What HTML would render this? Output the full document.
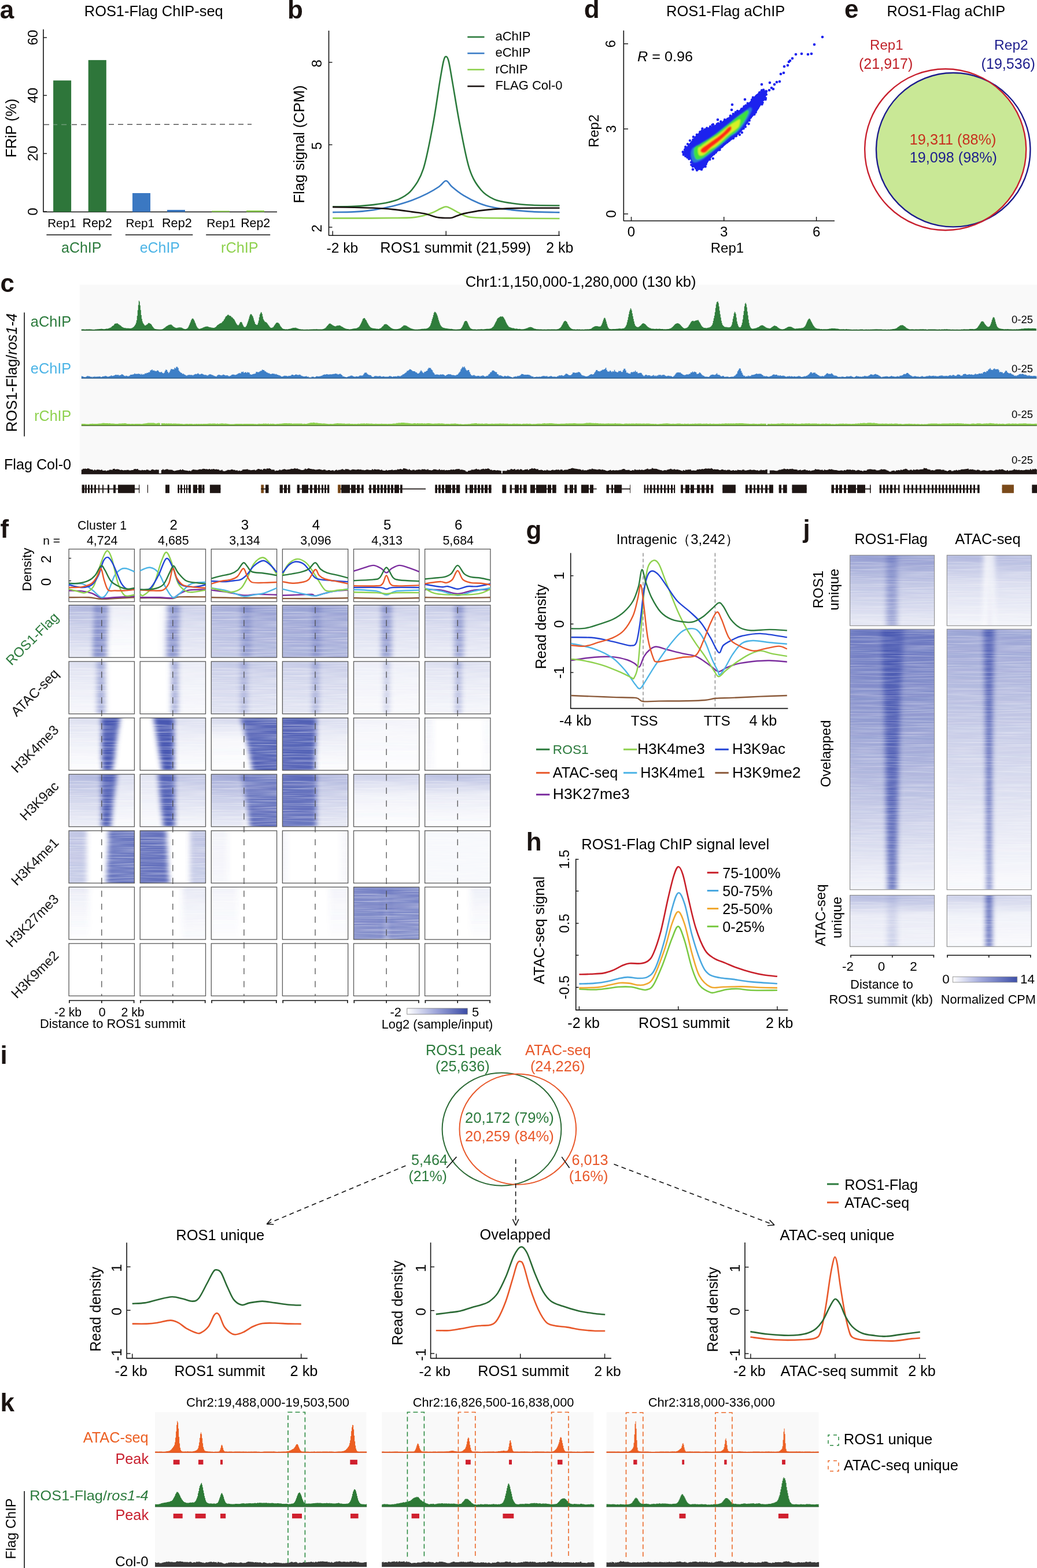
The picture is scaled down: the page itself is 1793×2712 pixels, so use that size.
<!DOCTYPE html>
<html><head><meta charset="utf-8"><title>ROS1 figure</title>
<style>html,body{margin:0;padding:0;background:#fff;overflow:hidden;width:1793px;height:2712px;}svg{display:block;}text{font-family:'Liberation Sans', Arial, sans-serif;}</style>
</head><body>
<svg width="1793" height="2712" viewBox="0 0 1793 2712" font-family="'Liberation Sans', Arial, sans-serif">
<defs>
<filter id="scblur" x="-20%" y="-20%" width="140%" height="140%"><feGaussianBlur stdDeviation="1.3"/></filter>
<clipPath id="eclip"><circle cx="1634.7" cy="258.7" r="139.5"/></clipPath>
<filter id="hb4" x="-20%" y="-5%" width="140%" height="110%"><feGaussianBlur stdDeviation="4 0.6"/></filter>
<filter id="hb2" x="-20%" y="-5%" width="140%" height="110%"><feGaussianBlur stdDeviation="2.5 0.6"/></filter>
<filter id="streak" x="0" y="0" width="100%" height="100%" filterUnits="objectBoundingBox"><feTurbulence type="fractalNoise" baseFrequency="0.012 0.42" numOctaves="2" seed="5"/><feColorMatrix type="matrix" values="0 0 0 0 1  0 0 0 0 1  0 0 0 0 1  0 0 0 1.6 -0.62"/></filter>
<linearGradient id="vg0" x1="0" y1="0" x2="0" y2="1"><stop offset="0" stop-color="#4a59b2" stop-opacity="0.45"/><stop offset="0.4" stop-color="#4a59b2" stop-opacity="0.3"/><stop offset="1" stop-color="#4a59b2" stop-opacity="0.12"/></linearGradient>
<linearGradient id="vg1" x1="0" y1="0" x2="0" y2="1"><stop offset="0" stop-color="#4a59b2" stop-opacity="0.62"/><stop offset="0.4" stop-color="#4a59b2" stop-opacity="0.62"/><stop offset="1" stop-color="#4a59b2" stop-opacity="0.62"/></linearGradient>
<linearGradient id="vg2" x1="0" y1="0" x2="0" y2="1"><stop offset="0" stop-color="#4a59b2" stop-opacity="0.12"/><stop offset="0.4" stop-color="#4a59b2" stop-opacity="0.06"/><stop offset="1" stop-color="#4a59b2" stop-opacity="0.0"/></linearGradient>
<linearGradient id="vg3" x1="0" y1="0" x2="0" y2="1"><stop offset="0" stop-color="#4a59b2" stop-opacity="0.08"/><stop offset="0.4" stop-color="#4a59b2" stop-opacity="0.09"/><stop offset="1" stop-color="#4a59b2" stop-opacity="0.1"/></linearGradient>
<linearGradient id="vg4" x1="0" y1="0" x2="0" y2="1"><stop offset="0" stop-color="#4a59b2" stop-opacity="0.62"/><stop offset="0.4" stop-color="#4a59b2" stop-opacity="0.61"/><stop offset="1" stop-color="#4a59b2" stop-opacity="0.6"/></linearGradient>
<linearGradient id="vg5" x1="0" y1="0" x2="0" y2="1"><stop offset="0" stop-color="#4a59b2" stop-opacity="0.3"/><stop offset="0.4" stop-color="#4a59b2" stop-opacity="0.21"/><stop offset="1" stop-color="#4a59b2" stop-opacity="0.12"/></linearGradient>
<linearGradient id="vg6" x1="0" y1="0" x2="0" y2="1"><stop offset="0" stop-color="#4a59b2" stop-opacity="0.5"/><stop offset="0.4" stop-color="#4a59b2" stop-opacity="0.4"/><stop offset="1" stop-color="#4a59b2" stop-opacity="0.3"/></linearGradient>
<linearGradient id="vg7" x1="0" y1="0" x2="0" y2="1"><stop offset="0" stop-color="#4a59b2" stop-opacity="0.38"/><stop offset="0.4" stop-color="#4a59b2" stop-opacity="0.38"/><stop offset="1" stop-color="#4a59b2" stop-opacity="0.38"/></linearGradient>
<linearGradient id="vg8" x1="0" y1="0" x2="0" y2="1"><stop offset="0" stop-color="#4a59b2" stop-opacity="0.15"/><stop offset="0.4" stop-color="#4a59b2" stop-opacity="0.15"/><stop offset="1" stop-color="#4a59b2" stop-opacity="0.15"/></linearGradient>
<linearGradient id="vg9" x1="0" y1="0" x2="0" y2="1"><stop offset="0" stop-color="#4a59b2" stop-opacity="0.56"/><stop offset="0.4" stop-color="#4a59b2" stop-opacity="0.51"/><stop offset="1" stop-color="#4a59b2" stop-opacity="0.45"/></linearGradient>
<linearGradient id="vg10" x1="0" y1="0" x2="0" y2="1"><stop offset="0" stop-color="#4a59b2" stop-opacity="0.32"/><stop offset="0.4" stop-color="#4a59b2" stop-opacity="0.32"/><stop offset="1" stop-color="#4a59b2" stop-opacity="0.32"/></linearGradient>
<linearGradient id="vg11" x1="0" y1="0" x2="0" y2="1"><stop offset="0" stop-color="#4a59b2" stop-opacity="0.3"/><stop offset="0.4" stop-color="#4a59b2" stop-opacity="0.2"/><stop offset="1" stop-color="#4a59b2" stop-opacity="0.1"/></linearGradient>
<linearGradient id="vg12" x1="0" y1="0" x2="0" y2="1"><stop offset="0" stop-color="#4a59b2" stop-opacity="0.48"/><stop offset="0.4" stop-color="#4a59b2" stop-opacity="0.48"/><stop offset="1" stop-color="#4a59b2" stop-opacity="0.48"/></linearGradient>
<linearGradient id="vg13" x1="0" y1="0" x2="0" y2="1"><stop offset="0" stop-color="#4a59b2" stop-opacity="0.34"/><stop offset="0.4" stop-color="#4a59b2" stop-opacity="0.22"/><stop offset="1" stop-color="#4a59b2" stop-opacity="0.1"/></linearGradient>
<linearGradient id="vg14" x1="0" y1="0" x2="0" y2="1"><stop offset="0" stop-color="#4a59b2" stop-opacity="0.45"/><stop offset="0.4" stop-color="#4a59b2" stop-opacity="0.45"/><stop offset="1" stop-color="#4a59b2" stop-opacity="0.45"/></linearGradient>
<linearGradient id="vg15" x1="0" y1="0" x2="0" y2="1"><stop offset="0" stop-color="#4a59b2" stop-opacity="0.2"/><stop offset="0.4" stop-color="#4a59b2" stop-opacity="0.12"/><stop offset="1" stop-color="#4a59b2" stop-opacity="0.04"/></linearGradient>
<linearGradient id="vg16" x1="0" y1="0" x2="0" y2="1"><stop offset="0" stop-color="#4a59b2" stop-opacity="0.5"/><stop offset="0.4" stop-color="#4a59b2" stop-opacity="0.47"/><stop offset="1" stop-color="#4a59b2" stop-opacity="0.45"/></linearGradient>
<linearGradient id="vg17" x1="0" y1="0" x2="0" y2="1"><stop offset="0" stop-color="#4a59b2" stop-opacity="0.12"/><stop offset="0.4" stop-color="#4a59b2" stop-opacity="0.08"/><stop offset="1" stop-color="#4a59b2" stop-opacity="0.04"/></linearGradient>
<linearGradient id="vg18" x1="0" y1="0" x2="0" y2="1"><stop offset="0" stop-color="#4a59b2" stop-opacity="0.52"/><stop offset="0.4" stop-color="#4a59b2" stop-opacity="0.48"/><stop offset="1" stop-color="#4a59b2" stop-opacity="0.45"/></linearGradient>
<linearGradient id="vg19" x1="0" y1="0" x2="0" y2="1"><stop offset="0" stop-color="#4a59b2" stop-opacity="0.33"/><stop offset="0.4" stop-color="#4a59b2" stop-opacity="0.24"/><stop offset="1" stop-color="#4a59b2" stop-opacity="0.16"/></linearGradient>
<linearGradient id="vg20" x1="0" y1="0" x2="0" y2="1"><stop offset="0" stop-color="#4a59b2" stop-opacity="0.3"/><stop offset="0.4" stop-color="#4a59b2" stop-opacity="0.28"/><stop offset="1" stop-color="#4a59b2" stop-opacity="0.25"/></linearGradient>
<linearGradient id="vg21" x1="0" y1="0" x2="0" y2="1"><stop offset="0" stop-color="#4a59b2" stop-opacity="0.32"/><stop offset="0.4" stop-color="#4a59b2" stop-opacity="0.23"/><stop offset="1" stop-color="#4a59b2" stop-opacity="0.14"/></linearGradient>
<linearGradient id="vg22" x1="0" y1="0" x2="0" y2="1"><stop offset="0" stop-color="#4a59b2" stop-opacity="0.35"/><stop offset="0.4" stop-color="#4a59b2" stop-opacity="0.32"/><stop offset="1" stop-color="#4a59b2" stop-opacity="0.3"/></linearGradient>
<linearGradient id="vg23" x1="0" y1="0" x2="0" y2="1"><stop offset="0" stop-color="#4a59b2" stop-opacity="0.1"/><stop offset="0.4" stop-color="#4a59b2" stop-opacity="0.07"/><stop offset="1" stop-color="#4a59b2" stop-opacity="0.03"/></linearGradient>
<linearGradient id="vg24" x1="0" y1="0" x2="0" y2="1"><stop offset="0" stop-color="#4a59b2" stop-opacity="0.3"/><stop offset="0.4" stop-color="#4a59b2" stop-opacity="0.26"/><stop offset="1" stop-color="#4a59b2" stop-opacity="0.22"/></linearGradient>
<linearGradient id="vg25" x1="0" y1="0" x2="0" y2="1"><stop offset="0" stop-color="#4a59b2" stop-opacity="0.2"/><stop offset="0.4" stop-color="#4a59b2" stop-opacity="0.12"/><stop offset="1" stop-color="#4a59b2" stop-opacity="0.05"/></linearGradient>
<linearGradient id="vg26" x1="0" y1="0" x2="0" y2="1"><stop offset="0" stop-color="#4a59b2" stop-opacity="0.38"/><stop offset="0.4" stop-color="#4a59b2" stop-opacity="0.34"/><stop offset="1" stop-color="#4a59b2" stop-opacity="0.3"/></linearGradient>
<linearGradient id="vg27" x1="0" y1="0" x2="0" y2="1"><stop offset="0" stop-color="#4a59b2" stop-opacity="0.2"/><stop offset="0.4" stop-color="#4a59b2" stop-opacity="0.1"/><stop offset="1" stop-color="#4a59b2" stop-opacity="0.0"/></linearGradient>
<linearGradient id="vg28" x1="0" y1="0" x2="0" y2="1"><stop offset="0" stop-color="#4a59b2" stop-opacity="1.0"/><stop offset="0.4" stop-color="#4a59b2" stop-opacity="1.0"/><stop offset="1" stop-color="#4a59b2" stop-opacity="1.0"/></linearGradient>
<linearGradient id="vg29" x1="0" y1="0" x2="0" y2="1"><stop offset="0" stop-color="#4a59b2" stop-opacity="0.25"/><stop offset="0.4" stop-color="#4a59b2" stop-opacity="0.05"/><stop offset="1" stop-color="#4a59b2" stop-opacity="0.0"/></linearGradient>
<linearGradient id="vg30" x1="0" y1="0" x2="0" y2="1"><stop offset="0" stop-color="#4a59b2" stop-opacity="0.9"/><stop offset="0.4" stop-color="#4a59b2" stop-opacity="0.93"/><stop offset="1" stop-color="#4a59b2" stop-opacity="0.95"/></linearGradient>
<linearGradient id="vg31" x1="0" y1="0" x2="0" y2="1"><stop offset="0" stop-color="#4a59b2" stop-opacity="0.95"/><stop offset="0.4" stop-color="#4a59b2" stop-opacity="0.94"/><stop offset="1" stop-color="#4a59b2" stop-opacity="0.92"/></linearGradient>
<linearGradient id="vg32" x1="0" y1="0" x2="0" y2="1"><stop offset="0" stop-color="#4a59b2" stop-opacity="0.22"/><stop offset="0.4" stop-color="#4a59b2" stop-opacity="0.11"/><stop offset="1" stop-color="#4a59b2" stop-opacity="0.0"/></linearGradient>
<linearGradient id="vg33" x1="0" y1="0" x2="0" y2="1"><stop offset="0" stop-color="#4a59b2" stop-opacity="0.07"/><stop offset="0.4" stop-color="#4a59b2" stop-opacity="0.04"/><stop offset="1" stop-color="#4a59b2" stop-opacity="0.0"/></linearGradient>
<linearGradient id="vg34" x1="0" y1="0" x2="0" y2="1"><stop offset="0" stop-color="#4a59b2" stop-opacity="0.08"/><stop offset="0.4" stop-color="#4a59b2" stop-opacity="0.06"/><stop offset="1" stop-color="#4a59b2" stop-opacity="0.04"/></linearGradient>
<linearGradient id="vg35" x1="0" y1="0" x2="0" y2="1"><stop offset="0" stop-color="#4a59b2" stop-opacity="0.04"/><stop offset="0.4" stop-color="#4a59b2" stop-opacity="0.03"/><stop offset="1" stop-color="#4a59b2" stop-opacity="0.02"/></linearGradient>
<linearGradient id="vg36" x1="0" y1="0" x2="0" y2="1"><stop offset="0" stop-color="#4a59b2" stop-opacity="0.45"/><stop offset="0.4" stop-color="#4a59b2" stop-opacity="0.27"/><stop offset="1" stop-color="#4a59b2" stop-opacity="0.08"/></linearGradient>
<linearGradient id="vg37" x1="0" y1="0" x2="0" y2="1"><stop offset="0" stop-color="#4a59b2" stop-opacity="0.95"/><stop offset="0.4" stop-color="#4a59b2" stop-opacity="0.95"/><stop offset="1" stop-color="#4a59b2" stop-opacity="0.95"/></linearGradient>
<linearGradient id="vg38" x1="0" y1="0" x2="0" y2="1"><stop offset="0" stop-color="#4a59b2" stop-opacity="0.22"/><stop offset="0.4" stop-color="#4a59b2" stop-opacity="0.12"/><stop offset="1" stop-color="#4a59b2" stop-opacity="0.02"/></linearGradient>
<linearGradient id="vg39" x1="0" y1="0" x2="0" y2="1"><stop offset="0" stop-color="#4a59b2" stop-opacity="0.18"/><stop offset="0.4" stop-color="#4a59b2" stop-opacity="0.1"/><stop offset="1" stop-color="#4a59b2" stop-opacity="0.02"/></linearGradient>
<linearGradient id="vg40" x1="0" y1="0" x2="0" y2="1"><stop offset="0" stop-color="#4a59b2" stop-opacity="0.38"/><stop offset="0.4" stop-color="#4a59b2" stop-opacity="0.21"/><stop offset="1" stop-color="#4a59b2" stop-opacity="0.04"/></linearGradient>
<linearGradient id="vg41" x1="0" y1="0" x2="0" y2="1"><stop offset="0" stop-color="#4a59b2" stop-opacity="0.55"/><stop offset="0.4" stop-color="#4a59b2" stop-opacity="0.33"/><stop offset="1" stop-color="#4a59b2" stop-opacity="0.1"/></linearGradient>
<linearGradient id="vg42" x1="0" y1="0" x2="0" y2="1"><stop offset="0" stop-color="#4a59b2" stop-opacity="0.75"/><stop offset="0.4" stop-color="#4a59b2" stop-opacity="0.81"/><stop offset="1" stop-color="#4a59b2" stop-opacity="0.88"/></linearGradient>
<linearGradient id="vg43" x1="0" y1="0" x2="0" y2="1"><stop offset="0" stop-color="#4a59b2" stop-opacity="0.92"/><stop offset="0.4" stop-color="#4a59b2" stop-opacity="0.87"/><stop offset="1" stop-color="#4a59b2" stop-opacity="0.82"/></linearGradient>
<linearGradient id="vg44" x1="0" y1="0" x2="0" y2="1"><stop offset="0" stop-color="#4a59b2" stop-opacity="0.45"/><stop offset="0.4" stop-color="#4a59b2" stop-opacity="0.29"/><stop offset="1" stop-color="#4a59b2" stop-opacity="0.12"/></linearGradient>
<linearGradient id="vg45" x1="0" y1="0" x2="0" y2="1"><stop offset="0" stop-color="#4a59b2" stop-opacity="0.3"/><stop offset="0.4" stop-color="#4a59b2" stop-opacity="0.08"/><stop offset="1" stop-color="#4a59b2" stop-opacity="0.0"/></linearGradient>
<linearGradient id="vg46" x1="0" y1="0" x2="0" y2="1"><stop offset="0" stop-color="#4a59b2" stop-opacity="0.42"/><stop offset="0.4" stop-color="#4a59b2" stop-opacity="0.12"/><stop offset="1" stop-color="#4a59b2" stop-opacity="0.0"/></linearGradient>
<linearGradient id="vg47" x1="0" y1="0" x2="0" y2="1"><stop offset="0" stop-color="#4a59b2" stop-opacity="0.36"/><stop offset="0.4" stop-color="#4a59b2" stop-opacity="0.33"/><stop offset="1" stop-color="#4a59b2" stop-opacity="0.3"/></linearGradient>
<linearGradient id="vg48" x1="0" y1="0" x2="0" y2="1"><stop offset="0" stop-color="#4a59b2" stop-opacity="0.82"/><stop offset="0.4" stop-color="#4a59b2" stop-opacity="0.82"/><stop offset="1" stop-color="#4a59b2" stop-opacity="0.82"/></linearGradient>
<linearGradient id="vg49" x1="0" y1="0" x2="0" y2="1"><stop offset="0" stop-color="#4a59b2" stop-opacity="0.85"/><stop offset="0.4" stop-color="#4a59b2" stop-opacity="0.85"/><stop offset="1" stop-color="#4a59b2" stop-opacity="0.85"/></linearGradient>
<linearGradient id="vg50" x1="0" y1="0" x2="0" y2="1"><stop offset="0" stop-color="#4a59b2" stop-opacity="0.07"/><stop offset="0.4" stop-color="#4a59b2" stop-opacity="0.06"/><stop offset="1" stop-color="#4a59b2" stop-opacity="0.05"/></linearGradient>
<linearGradient id="vg51" x1="0" y1="0" x2="0" y2="1"><stop offset="0" stop-color="#4a59b2" stop-opacity="0.06"/><stop offset="0.4" stop-color="#4a59b2" stop-opacity="0.06"/><stop offset="1" stop-color="#4a59b2" stop-opacity="0.06"/></linearGradient>
<linearGradient id="vg52" x1="0" y1="0" x2="0" y2="1"><stop offset="0" stop-color="#4a59b2" stop-opacity="0.05"/><stop offset="0.4" stop-color="#4a59b2" stop-opacity="0.05"/><stop offset="1" stop-color="#4a59b2" stop-opacity="0.05"/></linearGradient>
<linearGradient id="vg53" x1="0" y1="0" x2="0" y2="1"><stop offset="0" stop-color="#4a59b2" stop-opacity="0.03"/><stop offset="0.4" stop-color="#4a59b2" stop-opacity="0.03"/><stop offset="1" stop-color="#4a59b2" stop-opacity="0.03"/></linearGradient>
<linearGradient id="vg54" x1="0" y1="0" x2="0" y2="1"><stop offset="0" stop-color="#4a59b2" stop-opacity="0.14"/><stop offset="0.4" stop-color="#4a59b2" stop-opacity="0.08"/><stop offset="1" stop-color="#4a59b2" stop-opacity="0.02"/></linearGradient>
<linearGradient id="vg55" x1="0" y1="0" x2="0" y2="1"><stop offset="0" stop-color="#4a59b2" stop-opacity="0.76"/><stop offset="0.4" stop-color="#4a59b2" stop-opacity="0.71"/><stop offset="1" stop-color="#4a59b2" stop-opacity="0.66"/></linearGradient>
<linearGradient id="vg56" x1="0" y1="0" x2="0" y2="1"><stop offset="0" stop-color="#4a59b2" stop-opacity="0.7"/><stop offset="0.4" stop-color="#4a59b2" stop-opacity="0.6"/><stop offset="1" stop-color="#4a59b2" stop-opacity="0.32"/></linearGradient>
<linearGradient id="vg57" x1="0" y1="0" x2="0" y2="1"><stop offset="0" stop-color="#4a59b2" stop-opacity="0.1"/><stop offset="0.4" stop-color="#4a59b2" stop-opacity="0.05"/><stop offset="1" stop-color="#4a59b2" stop-opacity="0.0"/></linearGradient>
<linearGradient id="cbf" x1="0" x2="1" y1="0" y2="0"><stop offset="0" stop-color="#ffffff"/><stop offset="0.5" stop-color="#9aa2d8"/><stop offset="1" stop-color="#3b4ca6"/></linearGradient>
<linearGradient id="vg58" x1="0" y1="0" x2="0" y2="1"><stop offset="0" stop-color="#4a59b2" stop-opacity="0.62"/><stop offset="0.4" stop-color="#4a59b2" stop-opacity="0.35"/><stop offset="1" stop-color="#4a59b2" stop-opacity="0.12"/></linearGradient>
<linearGradient id="vg59" x1="0" y1="0" x2="0" y2="1"><stop offset="0" stop-color="#4a59b2" stop-opacity="0.4"/><stop offset="0.4" stop-color="#4a59b2" stop-opacity="0.41"/><stop offset="1" stop-color="#4a59b2" stop-opacity="0.42"/></linearGradient>
<linearGradient id="vg60" x1="0" y1="0" x2="0" y2="1"><stop offset="0" stop-color="#4a59b2" stop-opacity="0.84"/><stop offset="0.4" stop-color="#4a59b2" stop-opacity="0.56"/><stop offset="1" stop-color="#4a59b2" stop-opacity="0.06"/></linearGradient>
<linearGradient id="vg61" x1="0" y1="0" x2="0" y2="1"><stop offset="0" stop-color="#4a59b2" stop-opacity="0.95"/><stop offset="0.4" stop-color="#4a59b2" stop-opacity="0.9"/><stop offset="1" stop-color="#4a59b2" stop-opacity="0.75"/></linearGradient>
<linearGradient id="vg62" x1="0" y1="0" x2="0" y2="1"><stop offset="0" stop-color="#4a59b2" stop-opacity="0.45"/><stop offset="0.4" stop-color="#4a59b2" stop-opacity="0.12"/><stop offset="1" stop-color="#4a59b2" stop-opacity="0.08"/></linearGradient>
<linearGradient id="vg63" x1="0" y1="0" x2="0" y2="1"><stop offset="0" stop-color="#4a59b2" stop-opacity="0.1"/><stop offset="0.4" stop-color="#4a59b2" stop-opacity="0.15"/><stop offset="1" stop-color="#4a59b2" stop-opacity="0.2"/></linearGradient>
<linearGradient id="vg64" x1="0" y1="0" x2="0" y2="1"><stop offset="0" stop-color="#4a59b2" stop-opacity="0.45"/><stop offset="0.4" stop-color="#4a59b2" stop-opacity="0.2"/><stop offset="1" stop-color="#4a59b2" stop-opacity="0.06"/></linearGradient>
<linearGradient id="vg65" x1="0" y1="0" x2="0" y2="1"><stop offset="0" stop-color="#4a59b2" stop-opacity="0.18"/><stop offset="0.4" stop-color="#4a59b2" stop-opacity="0.16"/><stop offset="1" stop-color="#4a59b2" stop-opacity="0.15"/></linearGradient>
<linearGradient id="vg66" x1="0" y1="0" x2="0" y2="1"><stop offset="0" stop-color="#4a59b2" stop-opacity="0.56"/><stop offset="0.4" stop-color="#4a59b2" stop-opacity="0.3"/><stop offset="1" stop-color="#4a59b2" stop-opacity="0.02"/></linearGradient>
<linearGradient id="vg67" x1="0" y1="0" x2="0" y2="1"><stop offset="0" stop-color="#4a59b2" stop-opacity="0.85"/><stop offset="0.4" stop-color="#4a59b2" stop-opacity="0.8"/><stop offset="1" stop-color="#4a59b2" stop-opacity="0.7"/></linearGradient>
<linearGradient id="vg68" x1="0" y1="0" x2="0" y2="1"><stop offset="0" stop-color="#4a59b2" stop-opacity="0.3"/><stop offset="0.4" stop-color="#4a59b2" stop-opacity="0.08"/><stop offset="1" stop-color="#4a59b2" stop-opacity="0.03"/></linearGradient>
<linearGradient id="cbj" x1="0" x2="1" y1="0" y2="0"><stop offset="0" stop-color="#ffffff"/><stop offset="0.45" stop-color="#9ea6da"/><stop offset="1" stop-color="#3d4fa8"/></linearGradient>
</defs>
<rect width="1793" height="2712" fill="#fff"/>
<text x="-0.3" y="31.6" font-size="44" fill="#1a1311" font-weight="bold">a</text>
<text x="145.8" y="28.3" font-size="25.4">ROS1-Flag ChIP-seq</text>
<line x1="75.0" y1="50.7" x2="75.0" y2="367.0" stroke="#111" stroke-width="1.6"/>
<line x1="75.0" y1="366.5" x2="479.0" y2="366.5" stroke="#111" stroke-width="1.6"/>
<line x1="75.0" y1="65.0" x2="81.0" y2="65.0" stroke="#111" stroke-width="1.4"/>
<text x="65.4" y="65.0" font-size="24" text-anchor="middle" transform="rotate(-90 65.4 65.0)">60</text>
<line x1="75.0" y1="165.0" x2="81.0" y2="165.0" stroke="#111" stroke-width="1.4"/>
<text x="65.4" y="165.0" font-size="24" text-anchor="middle" transform="rotate(-90 65.4 165.0)">40</text>
<line x1="75.0" y1="265.5" x2="81.0" y2="265.5" stroke="#111" stroke-width="1.4"/>
<text x="65.4" y="265.5" font-size="24" text-anchor="middle" transform="rotate(-90 65.4 265.5)">20</text>
<line x1="75.0" y1="366.0" x2="81.0" y2="366.0" stroke="#111" stroke-width="1.4"/>
<text x="65.4" y="366.0" font-size="24" text-anchor="middle" transform="rotate(-90 65.4 366.0)">0</text>
<text x="28.5" y="221.6" font-size="25.28" text-anchor="middle" transform="rotate(-90 28.5 221.6)">FRiP (%)</text>
<line x1="76.0" y1="215.5" x2="435.0" y2="215.0" stroke="#555" stroke-width="1.5" stroke-dasharray="9,7"/>
<rect x="92.1" y="139.2" width="31.0" height="227.3" fill="#2e763a"/>
<rect x="152.7" y="103.9" width="31.1" height="262.6" fill="#2e763a"/>
<rect x="229.0" y="334.0" width="31.0" height="32.5" fill="#3b78c2"/>
<rect x="289.0" y="363.0" width="31.0" height="3.5" fill="#3b78c2"/>
<rect x="366.0" y="364.6" width="31.0" height="1.9" fill="#8ed14e"/>
<rect x="426.0" y="364.0" width="31.0" height="2.5" fill="#8ed14e"/>
<line x1="92.1" y1="215.5" x2="123.1" y2="215.5" stroke="#6f9c78" stroke-width="1.5" stroke-dasharray="9,7" stroke-dashoffset="2"/>
<text x="82.3" y="392.6" font-size="20.54">Rep1</text>
<text x="142.5" y="392.6" font-size="21.38">Rep2</text>
<text x="217.5" y="392.6" font-size="20.79">Rep1</text>
<text x="280.0" y="392.6" font-size="21.63">Rep2</text>
<text x="357.2" y="392.6" font-size="21.09">Rep1</text>
<text x="416.2" y="392.6" font-size="21.34">Rep2</text>
<line x1="80.4" y1="406.3" x2="193.0" y2="406.3" stroke="#111" stroke-width="1.6"/>
<line x1="216.8" y1="406.3" x2="333.3" y2="406.3" stroke="#111" stroke-width="1.6"/>
<line x1="356.2" y1="406.3" x2="467.2" y2="406.3" stroke="#111" stroke-width="1.6"/>
<text x="106.0" y="436.6" font-size="24.96" fill="#2b7a3c">aChIP</text>
<text x="241.7" y="436.6" font-size="24.93" fill="#4cb4e6">eChIP</text>
<text x="382.0" y="436.6" font-size="25.24" fill="#8ed14e">rChIP</text>
<text x="497.0" y="31.6" font-size="44" fill="#1a1311" font-weight="bold">b</text>
<line x1="568.5" y1="53.0" x2="568.5" y2="407.5" stroke="#111" stroke-width="1.6"/>
<line x1="568.5" y1="407.2" x2="968.0" y2="407.2" stroke="#111" stroke-width="1.6"/>
<line x1="568.5" y1="107.8" x2="574.5" y2="107.8" stroke="#111" stroke-width="1.4"/>
<text x="556.0" y="109.8" font-size="24" text-anchor="middle" transform="rotate(-90 556.0 109.8)">8</text>
<line x1="568.5" y1="250.4" x2="574.5" y2="250.4" stroke="#111" stroke-width="1.4"/>
<text x="556.0" y="252.4" font-size="24" text-anchor="middle" transform="rotate(-90 556.0 252.4)">5</text>
<line x1="568.5" y1="393.0" x2="574.5" y2="393.0" stroke="#111" stroke-width="1.4"/>
<text x="556.0" y="395.0" font-size="24" text-anchor="middle" transform="rotate(-90 556.0 395.0)">2</text>
<line x1="575.2" y1="407.2" x2="575.2" y2="399.6" stroke="#111" stroke-width="1.4"/>
<line x1="771.2" y1="407.2" x2="771.2" y2="399.6" stroke="#111" stroke-width="1.4"/>
<line x1="966.5" y1="407.2" x2="966.5" y2="399.6" stroke="#111" stroke-width="1.4"/>
<text x="525.5" y="249.5" font-size="25.5" text-anchor="middle" transform="rotate(-90 525.5 249.5)">Flag signal (CPM)</text>
<text x="564.6" y="437.0" font-size="24.58">-2 kb</text>
<text x="657.3" y="437.0" font-size="25.5">ROS1 summit (21,599)</text>
<text x="944.3" y="437.0" font-size="24.97">2 kb</text>
<line x1="808.3" y1="64.0" x2="837.5" y2="64.0" stroke="#2b7a3c" stroke-width="2.6"/>
<text x="856.4" y="70.2" font-size="22">aChIP</text>
<line x1="808.3" y1="92.2" x2="837.5" y2="92.2" stroke="#3a7cc6" stroke-width="2.6"/>
<text x="856.4" y="98.4" font-size="22">eChIP</text>
<line x1="808.3" y1="120.4" x2="837.5" y2="120.4" stroke="#8ed14e" stroke-width="2.6"/>
<text x="856.4" y="126.6" font-size="22">rChIP</text>
<line x1="808.3" y1="149.2" x2="837.5" y2="149.2" stroke="#1a1311" stroke-width="2.6"/>
<text x="856.4" y="155.4" font-size="22">FLAG Col-0</text>
<path d="M575.2,357.5 C581.4,357.4 600.9,357.4 612.6,356.8 C624.4,356.2 635.9,355.3 645.8,354.1 C655.7,353.0 664.6,351.7 672.3,349.8 C680.1,348.0 685.6,346.8 692.2,343.2 C698.9,339.6 705.5,336.9 712.1,328.3 C718.8,319.7 725.9,310.6 732.0,291.8 C738.1,273.0 743.9,240.4 748.6,215.5 C753.3,190.7 757.2,160.8 760.2,142.6 C763.2,124.3 765.0,113.6 766.8,106.1 C768.7,98.7 769.7,97.8 771.1,97.8 C772.6,97.8 773.9,98.7 775.8,106.1 C777.7,113.6 779.2,124.3 782.4,142.6 C785.6,160.8 790.2,190.7 795.0,215.5 C799.9,240.4 805.5,273.0 811.6,291.8 C817.7,310.6 824.3,319.4 831.5,328.3 C838.7,337.1 845.9,341.0 854.7,344.9 C863.6,348.7 873.5,349.8 884.6,351.5 C895.6,353.2 907.2,354.1 921.0,354.8 C934.8,355.5 959.7,355.4 967.5,355.5" fill="none" stroke="#2b7a3c" stroke-width="2.6" stroke-linejoin="round"/>
<path d="M575.2,367.1 C581.4,367.0 600.9,367.1 612.6,366.4 C624.4,365.8 634.7,364.8 645.8,363.1 C656.9,361.4 667.9,359.2 679.0,356.5 C690.0,353.7 702.2,350.1 712.1,346.5 C722.1,342.9 730.9,338.8 738.6,334.9 C746.4,331.0 753.1,327.0 758.5,323.3 C764.0,319.6 767.3,312.7 771.1,312.7 C775.0,312.7 776.7,319.1 781.8,323.3 C786.8,327.6 793.9,333.5 801.7,338.2 C809.4,342.9 819.3,348.0 828.2,351.5 C837.0,355.0 845.3,357.2 854.7,359.1 C864.1,361.1 873.5,361.9 884.6,363.1 C895.6,364.3 907.2,365.4 921.0,366.1 C934.8,366.8 959.7,367.2 967.5,367.4" fill="none" stroke="#3a7cc6" stroke-width="2.6" stroke-linejoin="round"/>
<path d="M575.2,377.4 C584.2,377.4 611.9,377.4 629.2,377.4 C646.5,377.3 665.1,377.2 679.0,377.0 C692.8,376.9 703.3,377.0 712.1,376.4 C721.0,375.7 725.9,374.5 732.0,373.1 C738.1,371.6 743.6,369.5 748.6,367.4 C753.6,365.4 758.1,362.4 761.9,360.8 C765.6,359.1 768.1,357.5 771.1,357.5 C774.2,357.5 776.4,359.0 780.1,360.8 C783.8,362.5 788.7,365.8 793.4,368.1 C798.1,370.4 801.9,373.3 808.3,374.7 C814.6,376.1 819.9,376.3 831.5,376.7 C843.1,377.1 855.3,377.1 877.9,377.4 C900.6,377.6 952.5,377.9 967.5,378.0" fill="none" stroke="#8ed14e" stroke-width="2.6" stroke-linejoin="round"/>
<path d="M575.2,358.1 C581.4,358.2 600.9,358.5 612.6,358.8 C624.4,359.1 634.7,359.2 645.8,359.8 C656.9,360.3 667.9,361.0 679.0,362.1 C690.0,363.2 702.7,365.1 712.1,366.4 C721.5,367.7 728.1,368.2 735.3,369.7 C742.5,371.3 749.3,374.5 755.2,375.7 C761.2,376.9 766.7,376.9 771.1,377.0 C775.6,377.1 777.8,377.3 781.8,376.4 C785.7,375.4 790.6,372.8 795.0,371.4 C799.4,370.0 802.2,369.3 808.3,368.1 C814.4,366.9 822.7,365.2 831.5,364.1 C840.3,363.0 850.8,362.1 861.3,361.4 C871.8,360.8 883.4,360.4 894.5,360.1 C905.6,359.8 915.5,359.8 927.7,359.8 C939.8,359.7 960.8,359.8 967.5,359.8" fill="none" stroke="#1a1311" stroke-width="2.6" stroke-linejoin="round"/>
<text x="1009.8" y="31.0" font-size="44" fill="#1a1311" font-weight="bold">d</text>
<text x="1152.0" y="28.3" font-size="25.48">ROS1-Flag aChIP</text>
<line x1="1078.3" y1="52.8" x2="1078.3" y2="382.3" stroke="#111" stroke-width="1.6"/>
<line x1="1078.3" y1="382.0" x2="1443.0" y2="382.0" stroke="#111" stroke-width="1.6"/>
<line x1="1078.3" y1="75.7" x2="1086.0" y2="75.7" stroke="#111" stroke-width="1.4"/>
<text x="1064.5" y="75.7" font-size="24" text-anchor="middle" transform="rotate(-90 1064.5 75.7)">6</text>
<line x1="1078.3" y1="223.0" x2="1086.0" y2="223.0" stroke="#111" stroke-width="1.4"/>
<text x="1064.5" y="223.0" font-size="24" text-anchor="middle" transform="rotate(-90 1064.5 223.0)">3</text>
<line x1="1078.3" y1="370.0" x2="1086.0" y2="370.0" stroke="#111" stroke-width="1.4"/>
<text x="1064.5" y="370.0" font-size="24" text-anchor="middle" transform="rotate(-90 1064.5 370.0)">0</text>
<line x1="1091.5" y1="382.0" x2="1091.5" y2="375.0" stroke="#111" stroke-width="1.4"/>
<text x="1091.5" y="409.3" font-size="24" text-anchor="middle">0</text>
<line x1="1251.7" y1="382.0" x2="1251.7" y2="375.0" stroke="#111" stroke-width="1.4"/>
<text x="1251.7" y="409.3" font-size="24" text-anchor="middle">3</text>
<line x1="1411.6" y1="382.0" x2="1411.6" y2="375.0" stroke="#111" stroke-width="1.4"/>
<text x="1411.6" y="409.3" font-size="24" text-anchor="middle">6</text>
<text x="1228.8" y="436.6" font-size="23.93">Rep1</text>
<text x="1035.0" y="226.5" font-size="23.85" text-anchor="middle" transform="rotate(-90 1035.0 226.5)">Rep2</text>
<text x="1102.0" y="106.2" font-size="24" textLength="96.0" lengthAdjust="spacingAndGlyphs"><tspan font-style="italic">R</tspan> = 0.96</text>
<path d="M1181.5,264.3 C1182.4,262.6 1184.3,258.0 1187.2,254.0 C1190.1,250.0 1195.8,243.7 1198.7,240.2 C1201.6,236.8 1201.6,236.0 1204.4,233.3 C1207.3,230.6 1212.1,226.4 1215.9,224.1 C1219.7,221.8 1223.6,221.1 1227.4,219.5 C1231.2,218.0 1235.1,216.7 1238.9,215.0 C1242.7,213.2 1246.5,211.5 1250.4,209.2 C1254.2,206.9 1258.0,203.7 1261.8,201.2 C1265.7,198.7 1269.5,197.0 1273.3,194.3 C1277.1,191.6 1281.0,188.2 1284.8,185.1 C1288.6,182.0 1292.5,179.6 1296.3,175.9 C1300.1,172.3 1303.9,166.5 1307.8,163.3 C1311.6,160.0 1316.2,157.2 1319.2,156.4 C1322.3,155.6 1325.4,156.8 1326.1,158.7 C1326.9,160.6 1325.0,165.0 1323.8,167.9 C1322.7,170.8 1321.9,171.5 1319.2,175.9 C1316.6,180.3 1311.6,188.9 1307.8,194.3 C1303.9,199.6 1300.1,203.1 1296.3,208.1 C1292.5,213.0 1288.6,219.5 1284.8,224.1 C1281.0,228.7 1277.1,232.2 1273.3,235.6 C1269.5,239.1 1265.7,241.7 1261.8,244.8 C1258.0,247.9 1254.2,250.7 1250.4,254.0 C1246.5,257.2 1242.7,260.7 1238.9,264.3 C1235.1,268.0 1230.8,271.6 1227.4,275.8 C1224.0,280.0 1221.5,286.5 1218.2,289.6 C1215.0,292.6 1211.1,294.4 1207.9,294.2 C1204.6,294.0 1201.2,291.7 1198.7,288.4 C1196.2,285.2 1195.4,277.9 1193.0,274.6 C1190.5,271.4 1185.7,270.6 1183.8,268.9 C1181.9,267.2 1180.9,266.8 1181.5,264.3 C1182.1,261.8 1184.3,258.0 1187.2,254.0 C1190.1,250.0 1196.8,242.5 1198.7,240.2Z" fill="#1c22ee"/>
<g filter="url(#scblur)"><path d="M1202.1,254.0 C1204.4,252.8 1211.7,249.6 1215.9,247.1 C1220.1,244.6 1223.6,241.7 1227.4,239.1 C1231.2,236.4 1235.1,233.9 1238.9,231.0 C1242.7,228.2 1246.5,224.9 1250.4,221.8 C1254.2,218.8 1258.0,215.7 1261.8,212.7 C1265.7,209.6 1269.5,206.3 1273.3,203.5 C1277.1,200.6 1281.7,197.5 1284.8,195.4 C1287.9,193.3 1290.2,190.8 1291.7,190.8 C1293.2,190.8 1295.1,191.8 1294.0,195.4 C1292.8,199.1 1288.2,207.3 1284.8,212.7 C1281.4,218.0 1277.1,223.8 1273.3,227.6 C1269.5,231.4 1265.7,232.6 1261.8,235.6 C1258.0,238.7 1254.2,242.7 1250.4,245.9 C1246.5,249.2 1242.7,252.1 1238.9,255.1 C1235.1,258.2 1231.2,261.4 1227.4,264.3 C1223.6,267.2 1219.7,270.4 1215.9,272.4 C1212.1,274.3 1207.1,276.9 1204.4,275.8 C1201.8,274.6 1200.2,269.1 1199.8,265.5 C1199.5,261.8 1199.5,257.0 1202.1,254.0 C1204.8,250.9 1211.7,249.6 1215.9,247.1 C1220.1,244.6 1225.5,240.4 1227.4,239.1Z" fill="#2a7ad8" transform="translate(1245,232) scale(1.12) translate(-1245,-232)"/><path d="M1202.1,254.0 C1204.4,252.8 1211.7,249.6 1215.9,247.1 C1220.1,244.6 1223.6,241.7 1227.4,239.1 C1231.2,236.4 1235.1,233.9 1238.9,231.0 C1242.7,228.2 1246.5,224.9 1250.4,221.8 C1254.2,218.8 1258.0,215.7 1261.8,212.7 C1265.7,209.6 1269.5,206.3 1273.3,203.5 C1277.1,200.6 1281.7,197.5 1284.8,195.4 C1287.9,193.3 1290.2,190.8 1291.7,190.8 C1293.2,190.8 1295.1,191.8 1294.0,195.4 C1292.8,199.1 1288.2,207.3 1284.8,212.7 C1281.4,218.0 1277.1,223.8 1273.3,227.6 C1269.5,231.4 1265.7,232.6 1261.8,235.6 C1258.0,238.7 1254.2,242.7 1250.4,245.9 C1246.5,249.2 1242.7,252.1 1238.9,255.1 C1235.1,258.2 1231.2,261.4 1227.4,264.3 C1223.6,267.2 1219.7,270.4 1215.9,272.4 C1212.1,274.3 1207.1,276.9 1204.4,275.8 C1201.8,274.6 1200.2,269.1 1199.8,265.5 C1199.5,261.8 1199.5,257.0 1202.1,254.0 C1204.8,250.9 1211.7,249.6 1215.9,247.1 C1220.1,244.6 1225.5,240.4 1227.4,239.1Z" fill="#3ee040"/><path d="M1207.3,256.3 C1208.7,255.4 1212.6,253.5 1215.9,251.1 C1219.3,248.7 1223.6,244.6 1227.4,241.9 C1231.2,239.3 1235.1,237.7 1238.9,235.0 C1242.7,232.4 1246.5,228.9 1250.4,225.9 C1254.2,222.8 1258.0,219.4 1261.8,216.7 C1265.7,213.9 1270.4,210.8 1273.3,209.2 C1276.3,207.6 1278.9,205.5 1279.6,206.9 C1280.4,208.4 1279.0,215.1 1277.9,217.8 C1276.9,220.5 1276.0,220.7 1273.3,223.0 C1270.6,225.3 1265.7,228.4 1261.8,231.6 C1258.0,234.8 1254.2,238.5 1250.4,241.9 C1246.5,245.4 1242.7,249.4 1238.9,252.3 C1235.1,255.1 1231.2,256.5 1227.4,259.1 C1223.6,261.8 1219.1,266.9 1215.9,268.3 C1212.8,269.8 1209.9,269.8 1208.5,267.8 C1207.0,265.8 1206.1,259.1 1207.3,256.3 C1208.6,253.5 1212.6,253.5 1215.9,251.1 C1219.3,248.7 1225.5,243.5 1227.4,241.9Z" fill="#d8f028"/><path d="M1212.5,257.4 C1215.0,255.6 1223.0,249.7 1227.4,246.5 C1231.8,243.4 1235.1,241.4 1238.9,238.5 C1242.7,235.6 1246.9,232.4 1250.4,229.3 C1253.8,226.2 1257.2,221.8 1259.5,220.1 C1261.8,218.4 1263.5,218.1 1264.1,219.0 C1264.8,219.8 1265.5,222.4 1263.6,225.3 C1261.6,228.2 1256.6,232.6 1252.7,236.2 C1248.7,239.8 1244.0,243.8 1240.0,247.1 C1236.0,250.3 1232.0,252.9 1228.5,255.7 C1225.1,258.5 1222.0,262.5 1219.4,263.7 C1216.7,265.0 1213.6,264.2 1212.5,263.2 C1211.3,262.1 1210.0,260.2 1212.5,257.4 C1215.0,254.7 1223.0,249.7 1227.4,246.5 C1231.8,243.4 1237.0,239.8 1238.9,238.5Z" fill="#ff2a14"/></g>
<g fill="#1c22ee"><circle cx="1180.7" cy="262.8" r="2.2"/><circle cx="1184.0" cy="259.0" r="2.2"/><circle cx="1185.4" cy="256.9" r="2.2"/><circle cx="1185.3" cy="254.0" r="2.2"/><circle cx="1189.0" cy="249.1" r="2.2"/><circle cx="1192.9" cy="243.1" r="2.2"/><circle cx="1198.4" cy="241.6" r="2.2"/><circle cx="1198.9" cy="236.7" r="2.2"/><circle cx="1203.0" cy="237.6" r="2.2"/><circle cx="1204.8" cy="232.9" r="2.2"/><circle cx="1210.3" cy="228.3" r="2.2"/><circle cx="1213.6" cy="226.3" r="2.2"/><circle cx="1214.4" cy="222.5" r="2.2"/><circle cx="1218.9" cy="224.0" r="2.2"/><circle cx="1222.1" cy="221.5" r="2.2"/><circle cx="1228.0" cy="219.0" r="2.2"/><circle cx="1231.4" cy="216.1" r="2.2"/><circle cx="1233.0" cy="215.2" r="2.2"/><circle cx="1239.7" cy="214.6" r="2.2"/><circle cx="1241.9" cy="213.4" r="2.2"/><circle cx="1246.3" cy="210.3" r="2.2"/><circle cx="1251.7" cy="210.1" r="2.2"/><circle cx="1253.0" cy="206.9" r="2.2"/><circle cx="1258.0" cy="205.6" r="2.2"/><circle cx="1262.8" cy="200.2" r="2.2"/><circle cx="1267.7" cy="197.2" r="2.2"/><circle cx="1269.1" cy="197.8" r="2.2"/><circle cx="1271.8" cy="194.2" r="2.2"/><circle cx="1275.1" cy="192.0" r="2.2"/><circle cx="1282.1" cy="188.5" r="2.2"/><circle cx="1286.5" cy="184.3" r="2.2"/><circle cx="1289.4" cy="182.5" r="2.2"/><circle cx="1292.7" cy="178.8" r="2.2"/><circle cx="1297.8" cy="177.9" r="2.2"/><circle cx="1300.0" cy="172.5" r="2.2"/><circle cx="1301.9" cy="168.5" r="2.2"/><circle cx="1308.4" cy="165.5" r="2.2"/><circle cx="1313.0" cy="160.1" r="2.2"/><circle cx="1314.8" cy="159.5" r="2.2"/><circle cx="1317.1" cy="156.2" r="2.2"/><circle cx="1320.1" cy="155.5" r="2.2"/><circle cx="1321.8" cy="159.1" r="2.2"/><circle cx="1324.5" cy="157.6" r="2.2"/><circle cx="1324.9" cy="163.4" r="2.2"/><circle cx="1322.8" cy="164.5" r="2.2"/><circle cx="1324.0" cy="169.6" r="2.2"/><circle cx="1323.7" cy="172.1" r="2.2"/><circle cx="1319.8" cy="172.8" r="2.2"/><circle cx="1318.6" cy="177.6" r="2.2"/><circle cx="1317.5" cy="180.4" r="2.2"/><circle cx="1310.2" cy="186.9" r="2.2"/><circle cx="1306.6" cy="194.2" r="2.2"/><circle cx="1304.4" cy="197.8" r="2.2"/><circle cx="1298.0" cy="203.0" r="2.2"/><circle cx="1295.7" cy="208.4" r="2.2"/><circle cx="1294.5" cy="214.2" r="2.2"/><circle cx="1288.8" cy="219.2" r="2.2"/><circle cx="1285.6" cy="222.2" r="2.2"/><circle cx="1282.8" cy="229.2" r="2.2"/><circle cx="1278.9" cy="233.0" r="2.2"/><circle cx="1272.8" cy="235.2" r="2.2"/><circle cx="1267.8" cy="239.2" r="2.2"/><circle cx="1263.8" cy="239.8" r="2.2"/><circle cx="1260.6" cy="243.3" r="2.2"/><circle cx="1257.3" cy="245.9" r="2.2"/><circle cx="1252.1" cy="249.3" r="2.2"/><circle cx="1248.6" cy="253.4" r="2.2"/><circle cx="1244.5" cy="259.0" r="2.2"/><circle cx="1243.3" cy="259.3" r="2.2"/><circle cx="1237.8" cy="263.6" r="2.2"/><circle cx="1234.5" cy="266.4" r="2.2"/><circle cx="1232.8" cy="274.1" r="2.2"/><circle cx="1227.3" cy="275.7" r="2.2"/><circle cx="1222.5" cy="278.6" r="2.2"/><circle cx="1220.6" cy="283.9" r="2.2"/><circle cx="1219.7" cy="288.1" r="2.2"/><circle cx="1212.7" cy="293.1" r="2.2"/><circle cx="1211.5" cy="291.0" r="2.2"/><circle cx="1208.1" cy="292.1" r="2.2"/><circle cx="1205.0" cy="294.4" r="2.2"/><circle cx="1203.4" cy="291.2" r="2.2"/><circle cx="1197.6" cy="287.8" r="2.2"/><circle cx="1195.3" cy="285.1" r="2.2"/><circle cx="1195.1" cy="280.6" r="2.2"/><circle cx="1192.2" cy="273.4" r="2.2"/><circle cx="1191.3" cy="274.9" r="2.2"/><circle cx="1188.5" cy="272.2" r="2.2"/><circle cx="1185.2" cy="270.0" r="2.2"/><circle cx="1181.8" cy="267.5" r="2.2"/><circle cx="1181.6" cy="263.8" r="2.2"/></g>
<g fill="#1c22ee"><circle cx="1182" cy="264" r="2.3"/><circle cx="1198" cy="293" r="2.3"/><circle cx="1211" cy="291" r="2.3"/><circle cx="1213" cy="293" r="2.3"/><circle cx="1241" cy="207" r="2.3"/><circle cx="1265" cy="190" r="2.3"/><circle cx="1266" cy="181" r="2.3"/><circle cx="1288" cy="172" r="2.3"/><circle cx="1302" cy="171" r="2.3"/><circle cx="1317" cy="146" r="2.3"/><circle cx="1325" cy="158" r="2.3"/><circle cx="1330" cy="156" r="2.3"/><circle cx="1334" cy="152" r="2.3"/><circle cx="1331" cy="143" r="2.3"/><circle cx="1337" cy="154" r="2.3"/><circle cx="1339" cy="146" r="2.3"/><circle cx="1343" cy="142" r="2.3"/><circle cx="1348" cy="141" r="2.3"/><circle cx="1350" cy="128" r="2.3"/><circle cx="1355" cy="126" r="2.3"/><circle cx="1356" cy="115" r="2.3"/><circle cx="1362" cy="113" r="2.3"/><circle cx="1364" cy="107" r="2.3"/><circle cx="1366" cy="105" r="2.3"/><circle cx="1370" cy="101" r="2.3"/><circle cx="1376" cy="94" r="2.3"/><circle cx="1386" cy="93" r="2.3"/><circle cx="1397" cy="94" r="2.3"/><circle cx="1403" cy="93" r="2.3"/><circle cx="1408" cy="77" r="2.3"/><circle cx="1422" cy="64" r="2.3"/></g>
<text x="1460.0" y="31.2" font-size="44" fill="#1a1311" font-weight="bold">e</text>
<text x="1533.4" y="28.3" font-size="25.42">ROS1-Flag aChIP</text>
<circle cx="1648.2" cy="259.2" r="133.2" fill="#c9e896" clip-path="url(#eclip)"/>
<circle cx="1648.2" cy="259.2" r="133.2" fill="none" stroke="#1c1c8c" stroke-width="2.4"/>
<circle cx="1634.7" cy="258.7" r="139.5" fill="none" stroke="#c8202e" stroke-width="2.4"/>
<text x="1504.0" y="86.2" font-size="24.1" fill="#c02028">Rep1</text>
<text x="1485.0" y="118.5" font-size="25.07" fill="#c02028">(21,917)</text>
<text x="1719.0" y="86.2" font-size="24.56" fill="#1c1c8c">Rep2</text>
<text x="1696.6" y="118.5" font-size="25.07" fill="#1c1c8c">(19,536)</text>
<text x="1572.8" y="250.3" font-size="25.24" fill="#c8301e">19,311 (88%)</text>
<text x="1572.8" y="281.4" font-size="25.18" fill="#1c1c8c">19,098 (98%)</text>
<text x="0.5" y="504.5" font-size="44" fill="#1a1311" font-weight="bold">c</text>
<rect x="137.8" y="492.5" width="1655.2" height="329.0" fill="#f9f9f9"/>
<text x="804.7" y="496.4" font-size="25.54">Chr1:1,150,000-1,280,000 (130 kb)</text>
<path d="M140.8,571.4V569.4h1V569.6h1V569.4h1V569.6h1V569.5h1V569.7h1V569.9h1V569.6h1V569.6h1V569.6h1V569.6h1V569.4h1V569.4h1V569.2h1V569.5h1V569.5h1V569.4h1V569.7h1V569.7h1V569.9h1V570.0h1V569.9h1V569.9h1V569.8h1V569.6h1V569.6h1V569.4h1V569.2h1V569.2h1V569.3h1V569.1h1V568.9h1V568.9h1V568.8h1V568.8h1V568.8h1V569.0h1V569.1h1V569.2h1V569.2h1V569.1h1V568.9h1V568.6h1V568.5h1V568.4h1V568.4h1V567.9h1V567.8h1V567.2h1V567.1h1V566.6h1V565.9h1V564.7h1V564.1h1V563.3h1V562.9h1V561.4h1V560.1h1V559.8h1V559.6h1V559.4h1V559.3h1V559.2h1V560.2h1V560.9h1V561.6h1V562.5h1V562.8h1V563.7h1V564.7h1V565.5h1V566.0h1V566.6h1V567.1h1V567.3h1V567.1h1V567.5h1V567.4h1V567.7h1V567.7h1V567.6h1V567.8h1V567.9h1V567.8h1V567.9h1V567.9h1V567.5h1V567.3h1V566.7h1V566.1h1V565.3h1V564.0h1V562.4h1V560.9h1V558.2h1V554.1h1V546.2h1V536.5h1V527.4h1V519.9h1V521.7h1V528.3h1V536.3h1V545.0h1V551.4h1V555.7h1V558.5h1V559.9h1V561.5h1V562.8h1V563.1h1V562.6h1V561.8h1V561.0h1V560.5h1V558.7h1V558.8h1V558.8h1V559.5h1V559.9h1V560.7h1V562.1h1V564.0h1V565.2h1V566.5h1V567.7h1V568.4h1V568.9h1V569.1h1V569.3h1V569.4h1V569.4h1V569.4h1V569.7h1V569.7h1V569.8h1V569.8h1V569.8h1V569.6h1V569.4h1V569.1h1V568.6h1V567.8h1V567.1h1V566.4h1V565.5h1V564.7h1V564.0h1V563.5h1V563.1h1V562.3h1V561.7h1V561.8h1V561.6h1V561.3h1V561.5h1V562.5h1V563.2h1V564.4h1V564.9h1V565.8h1V566.3h1V566.8h1V567.0h1V567.2h1V567.1h1V566.8h1V566.6h1V566.4h1V566.3h1V566.2h1V566.4h1V566.5h1V566.8h1V567.3h1V568.1h1V568.5h1V568.7h1V569.1h1V569.3h1V569.0h1V568.8h1V568.2h1V567.5h1V566.2h1V564.3h1V562.1h1V559.4h1V557.2h1V554.3h1V552.5h1V551.1h1V550.7h1V551.5h1V553.1h1V554.9h1V557.7h1V559.7h1V562.7h1V564.8h1V566.5h1V567.4h1V568.3h1V568.7h1V568.8h1V568.5h1V568.1h1V567.8h1V567.6h1V567.0h1V566.4h1V566.1h1V565.7h1V565.3h1V564.9h1V564.8h1V564.7h1V564.6h1V564.7h1V565.2h1V565.4h1V566.0h1V566.1h1V566.3h1V566.6h1V566.8h1V566.8h1V567.1h1V567.1h1V566.9h1V566.6h1V565.9h1V565.3h1V564.3h1V563.0h1V562.0h1V561.4h1V560.9h1V560.0h1V559.5h1V559.0h1V558.8h1V558.3h1V556.8h1V555.7h1V555.1h1V552.8h1V551.8h1V549.4h1V547.5h1V547.0h1V545.9h1V544.6h1V544.7h1V544.3h1V545.7h1V546.2h1V546.3h1V546.8h1V548.4h1V548.8h1V549.6h1V550.9h1V551.7h1V552.9h1V555.1h1V556.9h1V559.1h1V560.6h1V561.7h1V562.4h1V562.4h1V561.2h1V559.2h1V557.2h1V557.0h1V556.8h1V558.1h1V560.6h1V562.5h1V564.4h1V565.4h1V565.8h1V565.7h1V564.6h1V562.9h1V560.2h1V557.5h1V554.5h1V551.2h1V547.5h1V544.8h1V543.3h1V543.3h1V544.3h1V546.0h1V547.6h1V550.6h1V554.2h1V557.1h1V559.9h1V560.9h1V561.7h1V561.9h1V561.2h1V558.3h1V554.4h1V548.7h1V544.1h1V541.9h1V539.8h1V540.6h1V543.1h1V547.5h1V551.7h1V553.8h1V555.2h1V556.8h1V556.8h1V557.5h1V558.2h1V559.4h1V560.9h1V562.4h1V563.6h1V565.2h1V566.3h1V566.9h1V567.0h1V567.0h1V566.3h1V565.9h1V564.4h1V562.9h1V561.5h1V560.2h1V558.8h1V557.9h1V557.9h1V558.0h1V558.4h1V559.4h1V560.6h1V562.7h1V564.4h1V565.6h1V566.8h1V568.1h1V568.4h1V569.0h1V569.1h1V569.3h1V569.4h1V569.5h1V569.3h1V569.4h1V569.4h1V569.3h1V569.1h1V568.7h1V568.7h1V568.4h1V568.1h1V567.7h1V567.4h1V567.1h1V567.1h1V566.9h1V566.9h1V566.8h1V566.8h1V567.3h1V567.5h1V568.1h1V568.3h1V568.7h1V568.9h1V569.3h1V569.3h1V569.5h1V569.7h1V569.6h1V569.7h1V569.7h1V569.9h1V569.9h1V569.7h1V569.9h1V569.8h1V569.8h1V569.8h1V569.8h1V569.9h1V569.7h1V569.7h1V569.6h1V569.7h1V569.5h1V569.5h1V569.5h1V569.4h1V569.3h1V569.4h1V569.3h1V569.4h1V569.3h1V569.3h1V569.3h1V569.4h1V569.4h1V569.5h1V569.5h1V569.5h1V569.5h1V569.6h1V569.6h1V569.4h1V569.1h1V569.0h1V568.4h1V567.9h1V567.5h1V566.5h1V565.5h1V564.1h1V563.1h1V562.1h1V560.6h1V559.9h1V559.3h1V559.7h1V560.6h1V561.0h1V561.8h1V562.6h1V563.1h1V563.6h1V564.0h1V564.3h1V564.4h1V563.7h1V563.4h1V562.9h1V563.2h1V563.1h1V562.8h1V562.7h1V563.0h1V563.9h1V564.6h1V565.0h1V565.4h1V566.0h1V567.0h1V567.3h1V567.7h1V568.3h1V568.4h1V568.8h1V568.9h1V569.1h1V569.1h1V569.4h1V569.4h1V569.4h1V569.2h1V569.3h1V569.0h1V568.7h1V568.5h1V568.3h1V568.3h1V568.1h1V568.0h1V568.1h1V567.7h1V567.3h1V566.8h1V566.2h1V565.6h1V564.6h1V562.7h1V561.1h1V559.0h1V556.7h1V554.5h1V551.8h1V550.7h1V550.2h1V550.1h1V551.3h1V552.9h1V554.1h1V556.2h1V558.2h1V559.8h1V561.7h1V563.3h1V564.5h1V565.8h1V566.5h1V567.0h1V567.3h1V567.7h1V567.8h1V567.9h1V568.1h1V568.3h1V568.2h1V568.6h1V568.7h1V568.6h1V568.7h1V569.0h1V568.7h1V568.3h1V568.1h1V567.4h1V566.7h1V565.8h1V564.6h1V563.9h1V562.5h1V561.3h1V560.7h1V560.7h1V560.5h1V560.8h1V561.4h1V562.1h1V562.9h1V564.0h1V564.7h1V565.6h1V566.5h1V567.1h1V567.8h1V568.3h1V568.5h1V568.9h1V569.1h1V569.3h1V569.2h1V569.2h1V569.3h1V569.2h1V569.0h1V569.0h1V568.6h1V568.4h1V568.0h1V567.4h1V567.0h1V566.1h1V565.1h1V564.5h1V563.5h1V562.6h1V562.9h1V562.6h1V562.9h1V563.5h1V563.5h1V564.4h1V565.2h1V565.6h1V566.4h1V566.8h1V567.2h1V567.9h1V568.3h1V568.5h1V568.8h1V569.2h1V569.2h1V569.6h1V569.8h1V569.8h1V569.7h1V569.8h1V569.7h1V569.8h1V569.6h1V569.6h1V569.5h1V569.2h1V569.3h1V569.1h1V568.8h1V568.8h1V568.8h1V568.8h1V568.5h1V568.6h1V568.5h1V568.4h1V568.3h1V567.9h1V567.5h1V567.0h1V566.2h1V565.2h1V563.9h1V561.8h1V558.9h1V555.4h1V552.0h1V549.1h1V545.1h1V541.3h1V539.5h1V539.6h1V540.2h1V541.4h1V543.5h1V545.9h1V549.3h1V552.9h1V556.1h1V559.0h1V561.5h1V563.2h1V564.6h1V565.4h1V566.2h1V566.7h1V567.1h1V567.3h1V567.4h1V567.7h1V568.1h1V568.1h1V568.0h1V568.4h1V568.6h1V568.6h1V568.8h1V568.9h1V568.7h1V568.7h1V569.0h1V569.0h1V569.4h1V569.4h1V569.5h1V569.7h1V569.7h1V569.8h1V569.8h1V569.7h1V569.6h1V569.6h1V569.5h1V569.3h1V569.2h1V568.9h1V567.8h1V566.7h1V564.9h1V562.8h1V560.8h1V558.0h1V555.9h1V555.3h1V554.9h1V555.0h1V555.8h1V557.5h1V559.8h1V562.3h1V564.2h1V566.0h1V567.5h1V568.3h1V568.8h1V569.1h1V569.5h1V569.5h1V569.4h1V569.6h1V569.6h1V569.6h1V569.9h1V569.7h1V569.7h1V569.5h1V569.5h1V569.5h1V569.4h1V569.4h1V569.2h1V569.3h1V569.3h1V569.5h1V569.5h1V569.4h1V569.2h1V569.2h1V569.0h1V568.9h1V568.8h1V568.8h1V568.7h1V568.8h1V568.7h1V568.4h1V568.4h1V568.0h1V567.9h1V567.0h1V566.2h1V565.3h1V564.4h1V562.6h1V560.8h1V558.4h1V556.7h1V555.1h1V552.5h1V550.7h1V550.0h1V549.3h1V548.7h1V548.1h1V547.1h1V547.7h1V547.5h1V547.3h1V547.5h1V548.4h1V549.7h1V551.7h1V553.3h1V555.7h1V558.0h1V560.0h1V561.8h1V563.1h1V564.4h1V565.5h1V565.8h1V566.2h1V566.5h1V567.0h1V567.2h1V567.4h1V567.5h1V567.5h1V568.1h1V568.4h1V568.4h1V568.5h1V568.3h1V568.5h1V569.0h1V569.0h1V568.9h1V568.8h1V569.0h1V569.3h1V569.4h1V569.3h1V569.5h1V569.2h1V569.2h1V569.0h1V568.8h1V568.6h1V568.2h1V567.7h1V567.5h1V567.2h1V566.6h1V566.3h1V566.1h1V565.6h1V565.7h1V565.8h1V566.1h1V566.5h1V567.0h1V567.5h1V568.2h1V568.6h1V568.6h1V568.9h1V569.1h1V569.4h1V569.3h1V569.2h1V569.4h1V569.4h1V569.6h1V569.6h1V569.6h1V569.6h1V569.7h1V569.7h1V569.7h1V569.8h1V569.6h1V569.7h1V569.7h1V569.7h1V569.8h1V569.6h1V569.5h1V569.5h1V569.5h1V569.6h1V569.7h1V569.6h1V569.6h1V569.4h1V569.6h1V569.6h1V569.6h1V569.6h1V569.6h1V569.6h1V569.8h1V569.5h1V569.3h1V569.2h1V568.9h1V568.6h1V567.8h1V567.3h1V566.3h1V565.1h1V563.1h1V561.4h1V559.6h1V557.6h1V555.9h1V555.2h1V554.8h1V555.3h1V556.1h1V557.1h1V559.4h1V561.0h1V563.1h1V564.7h1V566.1h1V567.1h1V568.1h1V568.5h1V569.0h1V569.2h1V569.4h1V569.6h1V569.6h1V569.6h1V569.9h1V569.7h1V569.6h1V569.6h1V569.5h1V569.7h1V569.6h1V569.5h1V569.7h1V569.9h1V569.7h1V569.8h1V569.8h1V569.8h1V569.9h1V569.8h1V569.6h1V569.6h1V569.6h1V569.4h1V569.2h1V569.4h1V569.3h1V569.5h1V569.1h1V569.1h1V568.7h1V568.5h1V567.5h1V566.8h1V566.1h1V565.6h1V565.0h1V564.6h1V564.0h1V564.2h1V564.0h1V564.0h1V564.2h1V564.4h1V564.7h1V564.8h1V564.8h1V564.6h1V563.3h1V561.6h1V559.0h1V555.9h1V553.0h1V550.5h1V549.4h1V550.2h1V552.7h1V556.3h1V560.0h1V563.3h1V566.1h1V567.6h1V568.6h1V568.9h1V569.1h1V569.2h1V569.3h1V569.2h1V568.9h1V568.9h1V568.9h1V569.1h1V569.1h1V569.0h1V568.8h1V568.8h1V568.8h1V568.5h1V568.6h1V568.3h1V568.1h1V568.4h1V568.3h1V568.5h1V568.4h1V568.1h1V568.1h1V567.9h1V567.4h1V566.5h1V565.5h1V563.5h1V561.4h1V557.6h1V553.5h1V548.5h1V543.4h1V538.7h1V536.1h1V533.1h1V534.4h1V537.1h1V542.1h1V546.9h1V551.7h1V556.1h1V560.1h1V562.7h1V564.1h1V564.9h1V565.4h1V565.7h1V565.7h1V565.5h1V564.8h1V564.0h1V563.0h1V562.4h1V561.1h1V560.0h1V559.2h1V559.3h1V559.2h1V560.1h1V560.6h1V561.3h1V562.5h1V563.4h1V564.4h1V565.6h1V566.1h1V566.7h1V567.3h1V567.6h1V567.8h1V568.4h1V568.4h1V568.5h1V568.4h1V568.7h1V568.7h1V568.9h1V568.8h1V568.7h1V568.6h1V568.8h1V568.9h1V568.7h1V568.8h1V568.6h1V568.7h1V569.0h1V569.0h1V568.9h1V569.1h1V569.1h1V569.4h1V569.2h1V569.3h1V569.4h1V569.3h1V569.3h1V569.2h1V569.0h1V569.1h1V568.9h1V568.4h1V568.3h1V567.9h1V567.5h1V566.8h1V566.1h1V565.1h1V564.0h1V562.7h1V561.7h1V560.8h1V560.0h1V559.7h1V559.2h1V559.1h1V559.2h1V559.4h1V559.9h1V560.8h1V561.8h1V562.7h1V564.1h1V565.1h1V566.0h1V567.0h1V567.4h1V568.0h1V567.9h1V567.6h1V567.5h1V567.1h1V566.5h1V565.6h1V564.4h1V562.6h1V561.3h1V559.4h1V557.7h1V556.2h1V555.6h1V555.0h1V554.8h1V555.4h1V555.5h1V555.1h1V554.8h1V554.3h1V553.9h1V554.3h1V553.6h1V553.6h1V555.3h1V556.9h1V558.5h1V560.3h1V562.2h1V563.8h1V564.9h1V565.8h1V566.5h1V566.9h1V566.9h1V567.0h1V567.3h1V567.4h1V567.2h1V567.1h1V566.7h1V566.6h1V566.4h1V565.8h1V565.4h1V564.6h1V563.6h1V562.1h1V559.3h1V554.9h1V550.5h1V545.9h1V540.0h1V532.8h1V526.4h1V522.8h1V521.8h1V521.4h1V524.3h1V530.0h1V537.2h1V543.5h1V549.2h1V554.7h1V558.8h1V561.8h1V562.9h1V564.0h1V564.9h1V565.4h1V565.5h1V565.7h1V565.6h1V566.2h1V565.8h1V566.3h1V566.3h1V565.9h1V565.8h1V565.3h1V563.7h1V561.6h1V557.3h1V551.4h1V546.9h1V542.0h1V539.2h1V540.4h1V543.1h1V549.3h1V556.0h1V560.0h1V563.1h1V565.3h1V566.0h1V566.2h1V566.0h1V564.6h1V562.0h1V558.3h1V552.6h1V544.9h1V538.0h1V529.8h1V525.2h1V523.7h1V526.3h1V531.5h1V538.7h1V545.4h1V552.7h1V558.7h1V562.9h1V565.4h1V567.0h1V567.9h1V568.5h1V568.6h1V568.4h1V568.2h1V568.0h1V567.9h1V567.6h1V567.4h1V566.9h1V566.5h1V566.0h1V565.9h1V565.0h1V564.6h1V563.5h1V563.3h1V562.8h1V562.6h1V562.6h1V563.1h1V563.4h1V564.3h1V564.8h1V565.4h1V566.2h1V566.7h1V567.1h1V567.6h1V567.5h1V567.8h1V567.9h1V567.9h1V567.5h1V567.0h1V565.9h1V565.6h1V564.8h1V564.0h1V563.5h1V563.0h1V563.6h1V564.1h1V564.1h1V564.7h1V565.7h1V566.5h1V567.3h1V567.8h1V568.6h1V568.8h1V569.3h1V569.3h1V569.4h1V569.5h1V569.3h1V569.0h1V568.9h1V568.1h1V567.7h1V567.2h1V566.7h1V565.9h1V565.4h1V565.2h1V564.9h1V565.0h1V565.3h1V565.0h1V565.5h1V566.0h1V566.6h1V567.2h1V567.5h1V567.9h1V568.4h1V568.5h1V568.2h1V568.2h1V568.1h1V568.2h1V567.9h1V567.8h1V567.7h1V567.7h1V567.7h1V567.5h1V567.3h1V567.3h1V566.9h1V566.6h1V565.8h1V564.8h1V563.4h1V561.5h1V559.2h1V556.7h1V554.5h1V552.8h1V551.7h1V550.8h1V551.5h1V552.9h1V555.3h1V557.0h1V559.0h1V561.0h1V562.7h1V564.1h1V565.5h1V566.4h1V567.2h1V567.7h1V568.1h1V568.4h1V568.5h1V568.5h1V568.8h1V568.8h1V569.2h1V569.2h1V569.1h1V569.3h1V569.5h1V569.2h1V569.3h1V569.2h1V569.2h1V569.3h1V569.2h1V569.2h1V569.3h1V569.0h1V568.9h1V568.7h1V568.6h1V568.2h1V568.4h1V568.0h1V567.8h1V568.0h1V567.9h1V568.0h1V567.9h1V568.0h1V568.2h1V568.2h1V568.4h1V568.5h1V568.5h1V568.7h1V569.1h1V569.3h1V569.4h1V569.5h1V569.3h1V569.4h1V569.4h1V569.3h1V569.3h1V569.4h1V569.4h1V569.4h1V569.4h1V569.1h1V569.3h1V569.5h1V569.4h1V569.6h1V569.6h1V569.7h1V569.8h1V569.8h1V569.9h1V569.9h1V569.9h1V570.0h1V569.8h1V569.9h1V569.7h1V569.9h1V569.8h1V569.7h1V569.9h1V569.9h1V569.9h1V569.9h1V569.8h1V569.7h1V569.6h1V569.7h1V569.6h1V569.6h1V569.9h1V570.0h1V570.1h1V569.9h1V569.8h1V569.8h1V569.8h1V569.8h1V569.9h1V569.8h1V569.7h1V569.9h1V569.8h1V569.8h1V569.7h1V569.7h1V569.5h1V569.7h1V569.5h1V569.4h1V569.4h1V569.4h1V569.3h1V569.4h1V569.3h1V569.5h1V569.5h1V569.4h1V569.5h1V569.4h1V569.6h1V569.5h1V569.5h1V569.7h1V569.9h1V569.7h1V569.9h1V569.8h1V569.8h1V569.7h1V569.9h1V569.9h1V569.9h1V569.8h1V569.7h1V569.7h1V569.9h1V569.7h1V569.6h1V569.5h1V569.4h1V569.1h1V569.1h1V569.1h1V568.8h1V568.7h1V568.2h1V568.0h1V567.5h1V566.7h1V565.7h1V565.3h1V564.4h1V563.7h1V563.0h1V562.5h1V562.6h1V562.5h1V562.2h1V562.6h1V563.3h1V564.0h1V564.5h1V565.2h1V566.3h1V567.2h1V567.7h1V568.3h1V568.8h1V569.0h1V569.4h1V569.4h1V569.4h1V569.7h1V569.3h1V569.5h1V569.6h1V569.5h1V569.7h1V569.7h1V569.5h1V569.6h1V569.6h1V569.5h1V569.6h1V569.7h1V569.6h1V569.5h1V569.5h1V569.3h1V569.5h1V569.3h1V569.4h1V569.2h1V569.2h1V569.4h1V569.6h1V569.4h1V569.5h1V569.6h1V570.0h1V569.9h1V569.8h1V569.6h1V569.6h1V569.5h1V569.6h1V569.4h1V569.5h1V569.5h1V569.4h1V569.4h1V569.5h1V569.5h1V569.6h1V569.6h1V569.7h1V569.8h1V569.8h1V569.9h1V569.7h1V569.7h1V569.6h1V569.8h1V569.9h1V569.8h1V569.5h1V569.5h1V569.7h1V569.5h1V569.5h1V569.3h1V569.4h1V569.4h1V569.3h1V569.2h1V569.4h1V569.5h1V569.8h1V569.6h1V569.8h1V569.7h1V569.9h1V569.9h1V569.8h1V569.7h1V569.9h1V569.8h1V569.9h1V569.9h1V569.9h1V569.8h1V569.9h1V569.8h1V569.9h1V569.9h1V569.9h1V570.0h1V570.0h1V569.9h1V569.6h1V569.8h1V569.7h1V569.6h1V569.6h1V569.3h1V569.4h1V569.6h1V569.6h1V569.6h1V569.5h1V569.5h1V569.4h1V569.4h1V569.0h1V569.0h1V569.0h1V568.9h1V568.9h1V569.1h1V569.0h1V569.2h1V569.3h1V569.1h1V568.8h1V568.5h1V567.9h1V567.1h1V566.2h1V564.4h1V563.3h1V561.8h1V560.0h1V558.4h1V556.8h1V555.8h1V556.0h1V555.6h1V556.4h1V557.5h1V559.4h1V560.8h1V562.0h1V563.2h1V564.3h1V564.8h1V565.5h1V565.3h1V565.1h1V563.9h1V562.3h1V559.7h1V556.7h1V553.2h1V550.4h1V548.6h1V548.7h1V549.5h1V552.6h1V556.6h1V560.1h1V562.8h1V565.0h1V566.2h1V567.1h1V567.7h1V568.0h1V568.3h1V568.6h1V568.7h1V568.8h1V569.1h1V569.1h1V569.2h1V569.4h1V569.2h1V569.2h1V569.2h1V569.2h1V569.3h1V569.1h1V569.2h1V569.2h1V569.4h1V569.2h1V569.4h1V569.4h1V569.5h1V569.4h1V569.7h1V569.6h1V569.6h1V569.5h1V569.5h1V569.7h1V569.2h1V569.3h1V569.4h1V569.5h1V569.2h1V569.1h1V569.2h1V569.0h1V568.7h1V568.6h1V568.6h1V568.6h1V568.5h1V568.3h1V568.1h1V568.1h1V568.1h1V568.1h1V568.0h1V567.9h1V567.8h1V567.8h1V567.7h1V568.0h1V568.0h1V567.9h1V567.9h1V567.9h1V567.8h1V568.0h1V568.1h1V568.0h1V568.1h1V568.3h1V568.3h1V571.4Z" fill="#2f7d3b"/>
<line x1="140.8" y1="571.1" x2="1791.8" y2="571.1" stroke="#2a5e30" stroke-width="1.5"/>
<path d="M140.8,654.4V650.5h1.5V650.9h1.5V651.8h1.5V652.1h1.5V652.3h1.5V651.4h1.5V650.6h1.5V650.2h1.5V650.7h1.5V650.8h1.5V651.7h1.5V651.5h1.5V652.5h1.5V651.2h1.5V651.9h1.5V650.8h1.5V652.1h1.5V651.2h1.5V651.5h1.5V651.2h1.5V651.3h1.5V651.1h1.5V652.2h1.5V651.8h1.5V651.0h1.5V651.0h1.5V650.8h1.5V649.9h1.5V650.4h1.5V650.7h1.5V651.8h1.5V651.1h1.5V650.7h1.5V650.3h1.5V649.3h1.5V650.2h1.5V650.0h1.5V649.5h1.5V649.0h1.5V647.9h1.5V648.6h1.5V648.4h1.5V648.3h1.5V649.5h1.5V649.1h1.5V648.5h1.5V647.3h1.5V647.8h1.5V648.8h1.5V650.0h1.5V650.5h1.5V649.7h1.5V649.9h1.5V650.7h1.5V650.6h1.5V649.7h1.5V648.2h1.5V647.9h1.5V647.9h1.5V647.4h1.5V647.3h1.5V645.8h1.5V647.0h1.5V646.4h1.5V647.1h1.5V645.9h1.5V646.9h1.5V646.5h1.5V648.0h1.5V646.4h1.5V648.0h1.5V647.3h1.5V647.3h1.5V645.4h1.5V645.9h1.5V644.7h1.5V645.0h1.5V643.8h1.5V643.8h1.5V640.8h1.5V640.3h1.5V639.0h1.5V641.1h1.5V640.4h1.5V641.6h1.5V641.8h1.5V642.0h1.5V640.4h1.5V640.9h1.5V642.9h1.5V644.1h1.5V643.4h1.5V643.2h1.5V644.9h1.5V645.8h1.5V644.5h1.5V641.4h1.5V639.2h1.5V640.1h1.5V643.1h1.5V645.3h1.5V643.5h1.5V640.4h1.5V638.1h1.5V638.8h1.5V638.6h1.5V638.9h1.5V636.0h1.5V637.2h1.5V634.6h1.5V634.6h1.5V636.5h1.5V641.0h1.5V643.0h1.5V644.5h1.5V644.9h1.5V646.8h1.5V646.2h1.5V647.6h1.5V648.3h1.5V649.3h1.5V649.7h1.5V648.8h1.5V648.6h1.5V648.2h1.5V648.4h1.5V648.6h1.5V648.4h1.5V649.3h1.5V648.2h1.5V647.4h1.5V646.8h1.5V647.2h1.5V646.4h1.5V645.5h1.5V646.9h1.5V647.7h1.5V646.9h1.5V646.2h1.5V646.7h1.5V647.6h1.5V648.3h1.5V648.5h1.5V648.2h1.5V649.3h1.5V649.4h1.5V648.6h1.5V647.6h1.5V647.2h1.5V647.7h1.5V648.4h1.5V648.7h1.5V649.8h1.5V650.2h1.5V650.7h1.5V651.2h1.5V649.4h1.5V648.4h1.5V648.0h1.5V648.5h1.5V649.0h1.5V649.2h1.5V648.8h1.5V647.7h1.5V648.3h1.5V649.0h1.5V649.4h1.5V649.0h1.5V649.3h1.5V650.2h1.5V650.7h1.5V650.0h1.5V649.2h1.5V648.1h1.5V647.7h1.5V647.7h1.5V648.2h1.5V648.4h1.5V647.9h1.5V647.3h1.5V646.3h1.5V645.5h1.5V645.2h1.5V645.8h1.5V643.3h1.5V643.6h1.5V642.8h1.5V645.0h1.5V644.0h1.5V643.6h1.5V644.9h1.5V643.4h1.5V644.3h1.5V644.4h1.5V647.2h1.5V647.8h1.5V648.1h1.5V647.0h1.5V646.7h1.5V646.6h1.5V645.9h1.5V643.3h1.5V643.2h1.5V643.7h1.5V643.5h1.5V642.4h1.5V641.4h1.5V641.3h1.5V639.2h1.5V640.0h1.5V640.1h1.5V641.9h1.5V642.4h1.5V644.1h1.5V644.6h1.5V645.4h1.5V645.5h1.5V646.8h1.5V647.0h1.5V646.4h1.5V646.0h1.5V646.6h1.5V646.6h1.5V647.6h1.5V646.7h1.5V648.0h1.5V648.3h1.5V649.0h1.5V649.2h1.5V649.9h1.5V651.2h1.5V651.3h1.5V650.7h1.5V650.1h1.5V649.8h1.5V650.1h1.5V650.1h1.5V650.8h1.5V650.2h1.5V650.0h1.5V650.0h1.5V649.5h1.5V648.0h1.5V648.0h1.5V648.7h1.5V649.1h1.5V647.9h1.5V647.5h1.5V648.3h1.5V648.6h1.5V648.4h1.5V647.8h1.5V648.6h1.5V649.7h1.5V650.2h1.5V650.7h1.5V651.2h1.5V650.9h1.5V650.8h1.5V650.5h1.5V651.7h1.5V651.3h1.5V652.7h1.5V652.6h1.5V652.9h1.5V651.4h1.5V651.4h1.5V651.4h1.5V652.4h1.5V652.2h1.5V651.1h1.5V650.6h1.5V651.0h1.5V651.1h1.5V650.7h1.5V650.5h1.5V650.0h1.5V649.4h1.5V648.5h1.5V648.1h1.5V647.4h1.5V648.0h1.5V647.1h1.5V647.4h1.5V647.4h1.5V648.1h1.5V647.1h1.5V647.8h1.5V647.3h1.5V647.3h1.5V646.7h1.5V647.0h1.5V646.1h1.5V646.4h1.5V646.6h1.5V647.4h1.5V647.5h1.5V646.8h1.5V646.6h1.5V647.7h1.5V649.0h1.5V650.9h1.5V651.1h1.5V651.7h1.5V652.1h1.5V652.4h1.5V651.9h1.5V651.1h1.5V650.9h1.5V650.3h1.5V649.7h1.5V649.5h1.5V649.9h1.5V651.0h1.5V651.2h1.5V651.7h1.5V650.8h1.5V651.1h1.5V651.2h1.5V650.9h1.5V649.8h1.5V649.5h1.5V649.5h1.5V649.8h1.5V648.9h1.5V646.7h1.5V644.7h1.5V644.4h1.5V644.6h1.5V646.5h1.5V647.7h1.5V648.6h1.5V648.8h1.5V649.1h1.5V650.8h1.5V651.8h1.5V652.1h1.5V650.7h1.5V650.3h1.5V650.2h1.5V650.5h1.5V650.8h1.5V650.8h1.5V650.2h1.5V650.3h1.5V651.2h1.5V651.6h1.5V651.0h1.5V650.8h1.5V651.4h1.5V651.5h1.5V651.6h1.5V651.4h1.5V651.6h1.5V651.1h1.5V649.9h1.5V650.7h1.5V651.0h1.5V651.9h1.5V650.9h1.5V650.9h1.5V650.9h1.5V650.8h1.5V651.2h1.5V650.0h1.5V650.2h1.5V650.4h1.5V650.8h1.5V649.8h1.5V649.1h1.5V647.4h1.5V647.3h1.5V645.9h1.5V644.8h1.5V643.7h1.5V641.6h1.5V641.3h1.5V640.1h1.5V638.4h1.5V638.9h1.5V640.0h1.5V641.5h1.5V641.9h1.5V642.0h1.5V642.6h1.5V644.1h1.5V644.3h1.5V646.0h1.5V645.9h1.5V644.8h1.5V642.4h1.5V640.6h1.5V642.3h1.5V644.2h1.5V645.2h1.5V642.9h1.5V642.9h1.5V641.7h1.5V640.9h1.5V638.1h1.5V636.1h1.5V636.4h1.5V636.4h1.5V638.9h1.5V640.4h1.5V643.7h1.5V645.6h1.5V647.8h1.5V647.9h1.5V647.6h1.5V647.8h1.5V648.1h1.5V648.4h1.5V647.7h1.5V647.5h1.5V647.9h1.5V647.2h1.5V648.0h1.5V648.8h1.5V650.0h1.5V648.9h1.5V647.9h1.5V647.6h1.5V646.9h1.5V647.4h1.5V647.2h1.5V648.2h1.5V648.8h1.5V648.5h1.5V649.1h1.5V649.3h1.5V649.2h1.5V648.3h1.5V647.9h1.5V646.3h1.5V644.3h1.5V642.4h1.5V638.7h1.5V636.4h1.5V634.2h1.5V635.6h1.5V634.1h1.5V636.8h1.5V639.6h1.5V641.3h1.5V640.0h1.5V640.1h1.5V643.6h1.5V646.7h1.5V648.9h1.5V649.5h1.5V649.2h1.5V648.6h1.5V649.6h1.5V650.2h1.5V650.4h1.5V650.1h1.5V650.1h1.5V650.0h1.5V651.2h1.5V650.1h1.5V650.2h1.5V649.3h1.5V649.8h1.5V650.7h1.5V651.2h1.5V650.6h1.5V650.1h1.5V649.8h1.5V647.6h1.5V646.4h1.5V644.0h1.5V643.4h1.5V641.2h1.5V640.6h1.5V641.3h1.5V642.4h1.5V643.6h1.5V643.8h1.5V647.0h1.5V647.6h1.5V649.4h1.5V649.1h1.5V649.5h1.5V650.1h1.5V650.7h1.5V651.4h1.5V650.2h1.5V650.1h1.5V650.7h1.5V650.7h1.5V649.8h1.5V650.6h1.5V650.9h1.5V651.5h1.5V651.9h1.5V652.8h1.5V652.7h1.5V651.4h1.5V651.4h1.5V650.8h1.5V651.6h1.5V650.3h1.5V650.3h1.5V650.0h1.5V649.5h1.5V648.2h1.5V646.7h1.5V646.9h1.5V647.6h1.5V648.3h1.5V648.1h1.5V648.2h1.5V648.1h1.5V648.0h1.5V648.3h1.5V648.4h1.5V649.6h1.5V650.3h1.5V651.2h1.5V651.1h1.5V652.4h1.5V651.9h1.5V652.1h1.5V651.5h1.5V651.6h1.5V652.0h1.5V651.3h1.5V651.7h1.5V651.5h1.5V650.9h1.5V650.6h1.5V650.1h1.5V650.4h1.5V650.2h1.5V650.9h1.5V650.1h1.5V651.5h1.5V651.5h1.5V651.1h1.5V650.6h1.5V650.3h1.5V651.0h1.5V651.8h1.5V651.2h1.5V651.5h1.5V651.6h1.5V651.9h1.5V650.7h1.5V650.5h1.5V649.6h1.5V649.2h1.5V649.5h1.5V648.7h1.5V649.4h1.5V649.9h1.5V649.3h1.5V647.8h1.5V646.2h1.5V646.4h1.5V647.3h1.5V648.4h1.5V649.0h1.5V648.9h1.5V648.6h1.5V646.9h1.5V644.5h1.5V644.3h1.5V644.6h1.5V645.1h1.5V644.6h1.5V644.6h1.5V643.4h1.5V643.6h1.5V644.0h1.5V646.0h1.5V648.2h1.5V649.2h1.5V649.4h1.5V650.0h1.5V650.4h1.5V651.0h1.5V651.1h1.5V650.4h1.5V650.0h1.5V648.7h1.5V648.0h1.5V647.0h1.5V647.6h1.5V647.7h1.5V646.9h1.5V644.6h1.5V642.4h1.5V640.1h1.5V640.0h1.5V642.1h1.5V642.1h1.5V642.5h1.5V641.6h1.5V640.8h1.5V639.6h1.5V639.4h1.5V639.0h1.5V637.9h1.5V636.0h1.5V639.7h1.5V642.3h1.5V642.8h1.5V642.6h1.5V640.7h1.5V642.3h1.5V643.4h1.5V642.1h1.5V642.7h1.5V639.8h1.5V642.4h1.5V642.9h1.5V644.0h1.5V643.6h1.5V641.4h1.5V641.9h1.5V641.2h1.5V643.3h1.5V643.3h1.5V640.2h1.5V637.7h1.5V637.7h1.5V640.8h1.5V644.4h1.5V644.5h1.5V645.8h1.5V646.0h1.5V646.5h1.5V644.1h1.5V643.3h1.5V643.9h1.5V642.7h1.5V643.3h1.5V641.0h1.5V643.5h1.5V643.0h1.5V645.6h1.5V645.6h1.5V645.0h1.5V644.7h1.5V645.3h1.5V647.5h1.5V649.3h1.5V650.5h1.5V649.3h1.5V648.0h1.5V648.5h1.5V649.4h1.5V649.1h1.5V649.1h1.5V649.4h1.5V650.5h1.5V650.0h1.5V649.6h1.5V648.4h1.5V650.3h1.5V649.6h1.5V650.6h1.5V649.6h1.5V649.6h1.5V648.3h1.5V648.5h1.5V648.3h1.5V649.5h1.5V648.5h1.5V648.4h1.5V648.0h1.5V649.3h1.5V649.9h1.5V650.7h1.5V650.0h1.5V649.7h1.5V649.9h1.5V650.5h1.5V650.2h1.5V651.1h1.5V651.9h1.5V650.8h1.5V649.4h1.5V647.6h1.5V645.4h1.5V644.2h1.5V644.3h1.5V644.0h1.5V644.4h1.5V644.2h1.5V646.0h1.5V646.7h1.5V648.1h1.5V648.4h1.5V648.8h1.5V648.2h1.5V647.5h1.5V647.6h1.5V647.8h1.5V646.7h1.5V646.5h1.5V644.2h1.5V644.3h1.5V642.6h1.5V644.0h1.5V642.7h1.5V643.2h1.5V643.9h1.5V646.7h1.5V646.7h1.5V646.1h1.5V644.1h1.5V645.1h1.5V646.8h1.5V648.6h1.5V649.4h1.5V650.1h1.5V651.3h1.5V651.4h1.5V651.4h1.5V651.4h1.5V652.0h1.5V651.4h1.5V650.0h1.5V648.4h1.5V648.3h1.5V647.7h1.5V647.9h1.5V648.6h1.5V648.2h1.5V647.3h1.5V645.6h1.5V648.0h1.5V648.3h1.5V648.5h1.5V649.7h1.5V651.1h1.5V650.5h1.5V650.0h1.5V650.5h1.5V652.1h1.5V651.5h1.5V651.6h1.5V651.3h1.5V651.6h1.5V652.3h1.5V652.1h1.5V651.8h1.5V651.6h1.5V651.6h1.5V651.6h1.5V650.3h1.5V649.6h1.5V647.7h1.5V646.2h1.5V642.3h1.5V639.7h1.5V637.2h1.5V637.4h1.5V641.5h1.5V644.7h1.5V648.1h1.5V649.9h1.5V649.7h1.5V651.6h1.5V650.6h1.5V651.1h1.5V649.6h1.5V650.5h1.5V650.3h1.5V650.2h1.5V648.5h1.5V648.6h1.5V648.3h1.5V648.1h1.5V647.2h1.5V646.8h1.5V646.0h1.5V646.9h1.5V646.4h1.5V646.6h1.5V646.6h1.5V646.8h1.5V648.0h1.5V649.1h1.5V650.6h1.5V650.2h1.5V650.9h1.5V650.3h1.5V650.9h1.5V651.2h1.5V651.8h1.5V650.8h1.5V650.5h1.5V649.9h1.5V648.7h1.5V647.7h1.5V647.6h1.5V648.5h1.5V648.0h1.5V648.0h1.5V649.4h1.5V649.2h1.5V650.0h1.5V648.9h1.5V650.0h1.5V649.9h1.5V649.8h1.5V649.7h1.5V650.3h1.5V650.9h1.5V651.8h1.5V650.8h1.5V651.0h1.5V650.6h1.5V650.6h1.5V651.2h1.5V650.6h1.5V651.1h1.5V651.5h1.5V650.7h1.5V651.0h1.5V651.5h1.5V651.3h1.5V651.0h1.5V650.3h1.5V650.4h1.5V650.8h1.5V651.8h1.5V652.0h1.5V651.6h1.5V651.3h1.5V650.4h1.5V651.0h1.5V650.0h1.5V649.8h1.5V648.5h1.5V647.6h1.5V645.8h1.5V643.8h1.5V643.7h1.5V645.7h1.5V644.4h1.5V644.8h1.5V644.3h1.5V646.3h1.5V646.8h1.5V648.1h1.5V648.9h1.5V649.7h1.5V650.8h1.5V650.5h1.5V650.7h1.5V650.1h1.5V650.9h1.5V649.6h1.5V648.4h1.5V646.7h1.5V645.6h1.5V645.7h1.5V646.9h1.5V646.4h1.5V646.9h1.5V645.5h1.5V646.5h1.5V647.9h1.5V649.4h1.5V649.5h1.5V649.7h1.5V649.9h1.5V651.3h1.5V651.7h1.5V652.0h1.5V651.5h1.5V652.2h1.5V651.0h1.5V651.4h1.5V651.6h1.5V652.1h1.5V652.1h1.5V651.3h1.5V650.4h1.5V651.3h1.5V650.9h1.5V651.0h1.5V650.3h1.5V650.4h1.5V651.6h1.5V651.7h1.5V652.7h1.5V651.7h1.5V651.1h1.5V650.1h1.5V650.7h1.5V650.9h1.5V651.1h1.5V651.7h1.5V651.1h1.5V651.9h1.5V650.8h1.5V651.2h1.5V650.1h1.5V650.2h1.5V650.6h1.5V650.7h1.5V650.5h1.5V649.8h1.5V648.9h1.5V647.5h1.5V647.4h1.5V647.8h1.5V648.7h1.5V647.7h1.5V647.3h1.5V646.7h1.5V647.7h1.5V647.9h1.5V648.8h1.5V649.7h1.5V650.6h1.5V651.6h1.5V652.4h1.5V651.5h1.5V651.5h1.5V651.3h1.5V651.0h1.5V650.8h1.5V650.8h1.5V651.1h1.5V651.8h1.5V651.2h1.5V651.1h1.5V649.9h1.5V650.4h1.5V651.1h1.5V651.1h1.5V651.6h1.5V651.4h1.5V651.3h1.5V650.6h1.5V650.9h1.5V651.2h1.5V649.8h1.5V649.8h1.5V649.6h1.5V648.9h1.5V647.5h1.5V646.8h1.5V647.2h1.5V646.4h1.5V645.0h1.5V644.9h1.5V646.6h1.5V647.8h1.5V649.0h1.5V649.7h1.5V650.4h1.5V651.4h1.5V650.8h1.5V650.6h1.5V650.4h1.5V651.0h1.5V651.5h1.5V650.7h1.5V651.9h1.5V651.6h1.5V651.4h1.5V650.4h1.5V650.5h1.5V651.6h1.5V651.5h1.5V651.4h1.5V650.8h1.5V650.6h1.5V650.6h1.5V650.2h1.5V649.5h1.5V650.1h1.5V650.5h1.5V649.9h1.5V650.1h1.5V649.7h1.5V650.4h1.5V650.0h1.5V650.7h1.5V650.4h1.5V651.0h1.5V649.9h1.5V649.9h1.5V649.4h1.5V649.5h1.5V649.5h1.5V650.3h1.5V650.3h1.5V650.3h1.5V650.0h1.5V649.9h1.5V650.4h1.5V649.9h1.5V649.2h1.5V648.8h1.5V649.7h1.5V649.4h1.5V648.4h1.5V648.4h1.5V649.5h1.5V649.9h1.5V649.8h1.5V648.3h1.5V647.6h1.5V647.9h1.5V648.2h1.5V649.7h1.5V649.8h1.5V649.2h1.5V647.3h1.5V647.1h1.5V646.5h1.5V647.1h1.5V648.2h1.5V648.0h1.5V647.7h1.5V647.1h1.5V647.9h1.5V647.6h1.5V647.7h1.5V648.2h1.5V648.2h1.5V647.6h1.5V646.3h1.5V647.4h1.5V646.9h1.5V647.2h1.5V646.1h1.5V645.9h1.5V646.3h1.5V645.6h1.5V646.3h1.5V643.9h1.5V643.3h1.5V643.0h1.5V644.0h1.5V641.7h1.5V641.8h1.5V639.2h1.5V638.5h1.5V636.8h1.5V639.3h1.5V639.7h1.5V639.8h1.5V637.9h1.5V637.2h1.5V638.7h1.5V638.5h1.5V638.7h1.5V638.2h1.5V640.2h1.5V643.7h1.5V642.9h1.5V643.7h1.5V643.8h1.5V645.8h1.5V645.0h1.5V643.1h1.5V640.9h1.5V641.6h1.5V644.1h1.5V645.0h1.5V646.0h1.5V645.1h1.5V646.1h1.5V647.2h1.5V647.7h1.5V648.4h1.5V649.9h1.5V649.4h1.5V650.2h1.5V649.2h1.5V649.1h1.5V647.8h1.5V647.1h1.5V646.8h1.5V647.2h1.5V646.2h1.5V647.0h1.5V647.7h1.5V648.3h1.5V648.1h1.5V649.0h1.5V649.8h1.5V649.6h1.5V649.3h1.5V649.7h1.5V650.2h1.5V650.1h1.5V650.5h1.5V650.0h1.5V650.1h1.5V650.2h1.5V650.4h1.5V654.4Z" fill="#3d7fc7"/>
<line x1="140.8" y1="654.1" x2="1792.3" y2="654.1" stroke="#335f88" stroke-width="1.5"/>
<path d="M140.8,736.3V733.0h2V733.0h2V732.9h2V733.2h2V733.4h2V733.4h2V733.4h2V733.0h2V732.9h2V732.7h2V732.9h2V732.9h2V733.1h2V732.9h2V732.8h2V732.6h2V732.5h2V732.2h2V731.8h2V731.8h2V731.9h2V731.9h2V731.9h2V732.2h2V732.0h2V732.6h2V732.6h2V732.6h2V732.8h2V733.0h2V732.9h2V732.9h2V732.6h2V732.4h2V732.5h2V732.3h2V732.2h2V732.0h2V732.3h2V732.9h2V732.9h2V733.1h2V733.2h2V732.9h2V733.1h2V733.2h2V733.1h2V732.9h2V733.0h2V732.9h2V733.1h2V733.2h2V733.3h2V732.8h2V732.5h2V732.3h2V732.0h2V731.6h2V731.5h2V731.4h2V731.4h2V731.5h2V731.6h2V732.0h2V732.4h2V731.9h2V731.6h2V731.8h2V735.9h2V732.1h2V732.2h2V732.1h2V732.5h2V732.3h2V732.5h2V732.3h2V732.5h2V732.3h2V732.7h2V732.5h2V732.6h2V732.5h2V732.8h2V732.7h2V732.8h2V732.9h2V733.0h2V733.3h2V733.4h2V733.2h2V733.0h2V733.0h2V733.2h2V733.1h2V733.0h2V733.1h2V733.4h2V733.3h2V733.2h2V733.1h2V733.2h2V733.1h2V733.3h2V733.1h2V733.3h2V733.0h2V733.0h2V732.9h2V733.1h2V732.8h2V732.6h2V732.5h2V732.7h2V732.6h2V732.6h2V732.6h2V732.9h2V732.5h2V732.9h2V732.7h2V732.5h2V732.2h2V732.5h2V732.8h2V732.6h2V732.8h2V733.0h2V733.3h2V733.4h2V733.6h2V733.5h2V733.4h2V733.2h2V733.1h2V732.9h2V733.1h2V733.0h2V732.9h2V732.9h2V733.2h2V733.0h2V733.0h2V732.9h2V732.9h2V733.0h2V733.1h2V732.9h2V732.9h2V733.1h2V733.3h2V733.2h2V733.4h2V733.2h2V732.8h2V733.1h2V732.9h2V732.9h2V732.4h2V732.7h2V732.5h2V732.9h2V732.6h2V733.2h2V732.8h2V732.9h2V732.8h2V733.0h2V733.4h2V733.3h2V732.9h2V733.0h2V732.8h2V732.8h2V732.4h2V732.2h2V732.1h2V732.1h2V732.1h2V732.2h2V731.9h2V732.2h2V732.3h2V732.7h2V732.6h2V732.6h2V732.4h2V732.6h2V732.6h2V732.6h2V732.4h2V732.6h2V733.2h2V732.7h2V733.0h2V733.0h2V732.6h2V732.0h2V731.5h2V731.0h2V731.3h2V730.8h2V730.9h2V731.4h2V731.3h2V731.7h2V732.1h2V731.9h2V732.3h2V732.5h2V732.3h2V732.6h2V732.8h2V733.0h2V733.2h2V733.3h2V733.1h2V733.2h2V733.2h2V732.8h2V732.5h2V732.2h2V731.9h2V732.3h2V732.3h2V732.3h2V732.4h2V732.4h2V732.6h2V732.9h2V732.8h2V732.7h2V732.6h2V733.1h2V732.9h2V733.0h2V733.2h2V733.0h2V733.2h2V733.1h2V732.7h2V733.0h2V732.6h2V732.5h2V732.6h2V732.2h2V732.7h2V732.3h2V732.6h2V732.4h2V732.7h2V732.6h2V732.7h2V733.0h2V733.0h2V732.8h2V733.1h2V733.0h2V732.9h2V732.9h2V732.7h2V732.9h2V733.0h2V733.0h2V733.1h2V733.2h2V733.1h2V733.0h2V733.0h2V732.9h2V732.5h2V732.5h2V732.4h2V731.8h2V731.8h2V731.3h2V731.4h2V731.1h2V730.9h2V730.9h2V731.2h2V731.5h2V731.4h2V731.7h2V732.0h2V732.2h2V732.5h2V732.5h2V732.1h2V732.1h2V732.5h2V732.0h2V732.3h2V732.2h2V732.2h2V732.1h2V732.6h2V732.3h2V732.5h2V732.3h2V732.0h2V732.0h2V732.2h2V732.4h2V732.7h2V732.7h2V732.5h2V732.6h2V732.4h2V732.3h2V732.3h2V732.4h2V732.3h2V732.4h2V732.8h2V733.2h2V733.1h2V733.1h2V732.9h2V733.3h2V732.8h2V732.8h2V732.7h2V732.5h2V732.5h2V733.1h2V732.9h2V733.6h2V733.3h2V733.5h2V733.7h2V733.8h2V733.6h2V733.4h2V733.6h2V733.3h2V733.2h2V733.0h2V732.6h2V732.5h2V732.2h2V732.0h2V732.0h2V732.7h2V732.6h2V732.7h2V732.7h2V732.6h2V732.9h2V732.8h2V732.5h2V732.6h2V732.9h2V732.9h2V733.0h2V732.8h2V732.7h2V732.9h2V732.8h2V732.8h2V732.7h2V732.7h2V732.5h2V732.5h2V732.7h2V732.5h2V732.7h2V732.8h2V732.8h2V732.8h2V733.2h2V733.0h2V733.3h2V733.1h2V732.8h2V732.7h2V732.9h2V732.8h2V732.9h2V733.1h2V733.0h2V733.5h2V733.0h2V732.8h2V733.0h2V732.8h2V732.8h2V733.1h2V732.8h2V733.1h2V733.4h2V733.3h2V733.3h2V733.3h2V733.0h2V732.7h2V732.7h2V732.7h2V732.9h2V732.4h2V732.3h2V732.1h2V732.4h2V732.2h2V732.2h2V732.0h2V732.0h2V732.0h2V732.3h2V732.6h2V732.7h2V732.7h2V732.9h2V733.0h2V733.1h2V732.8h2V732.8h2V732.8h2V732.8h2V732.6h2V732.3h2V732.5h2V732.3h2V732.2h2V732.2h2V732.2h2V732.1h2V732.1h2V732.2h2V732.4h2V732.4h2V732.5h2V732.6h2V732.5h2V732.5h2V732.3h2V731.9h2V731.5h2V731.6h2V731.6h2V731.3h2V731.4h2V731.8h2V731.8h2V731.9h2V731.7h2V731.9h2V732.1h2V732.6h2V732.2h2V732.4h2V732.6h2V732.6h2V732.7h2V732.4h2V732.4h2V732.2h2V732.5h2V732.5h2V732.4h2V732.5h2V732.4h2V732.1h2V732.6h2V732.5h2V732.6h2V732.4h2V732.7h2V732.9h2V733.2h2V732.7h2V732.6h2V732.6h2V732.8h2V732.6h2V732.7h2V732.5h2V732.5h2V732.6h2V732.7h2V732.2h2V732.5h2V732.4h2V732.6h2V732.6h2V732.8h2V732.6h2V732.6h2V732.7h2V732.5h2V732.5h2V732.5h2V732.7h2V733.0h2V732.9h2V733.0h2V733.3h2V733.0h2V733.4h2V733.4h2V733.2h2V733.0h2V732.9h2V732.8h2V732.4h2V732.5h2V732.2h2V732.3h2V732.4h2V732.8h2V733.1h2V733.0h2V732.8h2V733.0h2V733.0h2V732.7h2V732.6h2V732.5h2V732.5h2V732.9h2V733.1h2V733.2h2V732.8h2V733.0h2V733.0h2V732.8h2V733.2h2V732.9h2V732.9h2V732.8h2V732.9h2V732.6h2V732.8h2V732.7h2V732.6h2V732.6h2V732.5h2V732.9h2V732.7h2V732.7h2V732.8h2V732.6h2V732.9h2V732.9h2V732.6h2V733.0h2V733.0h2V732.7h2V733.1h2V732.9h2V732.9h2V733.1h2V732.7h2V733.0h2V732.7h2V732.6h2V732.7h2V732.3h2V732.3h2V732.4h2V732.3h2V732.6h2V732.2h2V732.4h2V732.2h2V732.4h2V732.3h2V732.0h2V732.2h2V732.1h2V731.9h2V732.1h2V731.9h2V732.2h2V732.4h2V732.5h2V732.7h2V732.8h2V732.9h2V732.9h2V732.9h2V732.8h2V732.7h2V733.0h2V733.1h2V733.2h2V733.0h2V732.9h2V732.6h2V732.7h2V732.8h2V732.7h2V732.7h2V735.9h2V733.0h2V733.0h2V733.3h2V732.7h2V733.0h2V733.0h2V733.1h2V732.9h2V732.8h2V732.6h2V732.8h2V732.5h2V732.3h2V732.1h2V732.5h2V732.6h2V732.8h2V732.6h2V732.7h2V732.5h2V732.7h2V732.3h2V732.4h2V732.9h2V732.6h2V732.9h2V733.1h2V733.0h2V732.9h2V732.6h2V732.4h2V732.7h2V732.5h2V732.2h2V732.5h2V732.3h2V732.3h2V732.7h2V732.5h2V732.5h2V732.6h2V732.4h2V732.6h2V733.1h2V732.7h2V733.2h2V732.9h2V732.7h2V732.8h2V732.9h2V732.5h2V732.8h2V732.9h2V732.7h2V732.9h2V733.5h2V733.2h2V733.4h2V733.4h2V733.1h2V733.3h2V732.9h2V732.8h2V732.8h2V732.8h2V732.6h2V732.9h2V732.7h2V732.7h2V733.0h2V733.1h2V733.0h2V733.3h2V733.1h2V732.9h2V733.1h2V732.5h2V732.7h2V732.3h2V732.4h2V731.8h2V732.1h2V731.8h2V731.6h2V731.7h2V732.0h2V731.5h2V731.3h2V731.2h2V731.3h2V731.7h2V731.6h2V731.5h2V731.9h2V732.1h2V732.5h2V732.8h2V732.8h2V732.7h2V732.6h2V732.7h2V732.7h2V732.6h2V732.8h2V733.0h2V732.8h2V732.7h2V732.6h2V732.9h2V732.7h2V732.6h2V732.5h2V732.8h2V733.2h2V733.1h2V733.1h2V733.4h2V733.5h2V733.2h2V733.1h2V733.1h2V733.0h2V732.8h2V733.0h2V733.1h2V733.3h2V733.3h2V733.1h2V733.4h2V733.2h2V733.3h2V733.5h2V733.7h2V733.3h2V733.7h2V733.5h2V733.5h2V733.4h2V733.2h2V732.7h2V732.8h2V732.4h2V732.6h2V732.4h2V732.4h2V732.5h2V732.6h2V732.9h2V732.8h2V732.9h2V732.7h2V732.6h2V732.5h2V732.6h2V732.4h2V732.4h2V732.5h2V732.3h2V732.3h2V732.5h2V732.1h2V732.4h2V732.2h2V732.3h2V732.1h2V732.2h2V732.2h2V732.2h2V732.4h2V732.4h2V733.0h2V732.7h2V732.9h2V733.1h2V733.2h2V733.2h2V732.8h2V732.6h2V732.6h2V732.9h2V732.7h2V732.2h2V732.3h2V732.3h2V732.5h2V733.0h2V732.8h2V732.4h2V732.4h2V732.2h2V732.6h2V732.2h2V731.8h2V732.0h2V732.3h2V732.3h2V732.8h2V732.7h2V732.6h2V733.2h2V732.8h2V733.1h2V733.1h2V732.7h2V732.9h2V733.4h2V732.9h2V732.7h2V732.6h2V732.5h2V733.0h2V732.6h2V732.4h2V732.8h2V732.5h2V732.8h2V732.9h2V732.4h2V732.4h2V732.5h2V732.4h2V732.2h2V732.2h2V732.2h2V732.7h2V732.8h2V732.7h2V732.8h2V733.1h2V733.0h2V732.9h2V732.7h2V732.8h2V736.3Z" fill="#8ed14e"/>
<line x1="140.8" y1="736.0" x2="1792.8" y2="736.0" stroke="#4a6a30" stroke-width="1.5"/>
<path d="M140.8,819.7V812.3h2V810.8h2V810.8h2V810.4h2V811.0h2V810.0h2V810.5h2V811.4h2V812.0h2V812.2h2V813.5h2V812.2h2V813.3h2V812.3h2V812.3h2V812.5h2V813.0h2V812.3h2V813.7h2V814.0h2V813.6h2V814.4h2V813.7h2V813.4h2V812.4h2V812.4h2V812.8h2V811.0h2V810.8h2V812.1h2V811.6h2V811.5h2V811.9h2V813.0h2V812.5h2V813.1h2V813.5h2V813.0h2V813.3h2V812.7h2V812.7h2V813.4h2V813.4h2V813.1h2V813.1h2V811.5h2V811.1h2V811.6h2V811.0h2V812.7h2V813.2h2V813.5h2V812.8h2V813.2h2V812.9h2V813.3h2V812.2h2V812.6h2V813.4h2V813.9h2V812.6h2V811.7h2V812.5h2V813.0h2V812.3h2V812.6h2V812.6h2V819.3h2V819.3h2V813.0h2V811.6h2V812.8h2V812.2h2V811.5h2V811.6h2V812.6h2V812.5h2V812.5h2V812.8h2V814.0h2V814.6h2V814.0h2V813.4h2V813.2h2V813.0h2V811.9h2V813.0h2V811.7h2V812.9h2V813.6h2V813.8h2V814.0h2V814.5h2V814.0h2V814.8h2V813.3h2V812.1h2V812.2h2V812.4h2V812.7h2V812.7h2V811.9h2V811.4h2V811.9h2V811.3h2V810.7h2V810.9h2V811.6h2V811.3h2V811.9h2V811.0h2V811.9h2V811.5h2V811.6h2V811.1h2V811.9h2V811.5h2V812.1h2V812.1h2V813.5h2V813.5h2V812.6h2V814.5h2V814.9h2V814.4h2V813.8h2V812.7h2V812.7h2V813.1h2V812.1h2V812.0h2V812.8h2V812.8h2V813.7h2V813.2h2V814.4h2V813.7h2V814.5h2V813.9h2V812.3h2V812.1h2V812.0h2V811.7h2V811.6h2V812.4h2V812.7h2V813.2h2V813.0h2V812.8h2V812.4h2V813.4h2V812.4h2V811.2h2V810.9h2V812.0h2V811.7h2V812.8h2V811.0h2V810.8h2V811.4h2V810.2h2V810.5h2V810.1h2V811.1h2V812.4h2V812.2h2V812.6h2V814.4h2V813.7h2V814.0h2V813.4h2V812.3h2V813.2h2V812.6h2V811.7h2V811.3h2V812.0h2V812.6h2V812.1h2V811.9h2V811.6h2V810.7h2V810.9h2V810.7h2V809.8h2V810.7h2V810.2h2V811.3h2V811.7h2V812.6h2V813.0h2V812.9h2V812.2h2V810.6h2V811.4h2V810.8h2V809.8h2V810.8h2V811.0h2V811.6h2V811.5h2V812.0h2V812.5h2V812.2h2V812.0h2V811.5h2V812.1h2V812.5h2V812.9h2V812.2h2V812.3h2V813.5h2V813.7h2V813.1h2V813.0h2V813.9h2V813.6h2V813.3h2V814.4h2V813.3h2V812.5h2V813.4h2V812.8h2V812.8h2V812.2h2V811.3h2V812.2h2V812.8h2V811.3h2V811.4h2V811.6h2V812.6h2V813.3h2V812.4h2V811.7h2V812.0h2V812.3h2V812.6h2V811.9h2V811.7h2V812.2h2V812.1h2V812.8h2V812.8h2V813.2h2V812.9h2V812.3h2V812.2h2V812.8h2V812.9h2V813.0h2V811.4h2V812.6h2V811.6h2V812.1h2V812.3h2V811.7h2V812.2h2V813.1h2V812.3h2V813.5h2V813.9h2V814.1h2V812.8h2V813.8h2V813.2h2V813.0h2V813.1h2V812.3h2V813.2h2V813.1h2V812.8h2V812.8h2V811.4h2V811.9h2V811.0h2V811.6h2V812.0h2V809.9h2V810.3h2V810.8h2V811.6h2V812.6h2V811.6h2V813.0h2V813.6h2V812.6h2V812.4h2V813.4h2V812.8h2V812.5h2V812.0h2V812.2h2V812.7h2V811.6h2V811.7h2V811.5h2V812.3h2V812.4h2V811.5h2V813.1h2V813.1h2V813.5h2V813.1h2V811.8h2V811.8h2V812.1h2V812.7h2V812.7h2V811.6h2V813.1h2V812.4h2V813.1h2V812.6h2V813.6h2V813.0h2V813.3h2V813.0h2V813.1h2V812.1h2V812.4h2V812.0h2V812.6h2V811.8h2V811.2h2V811.3h2V811.0h2V812.5h2V812.3h2V812.5h2V812.9h2V813.5h2V815.2h2V815.9h2V814.2h2V814.1h2V813.6h2V812.3h2V812.4h2V812.3h2V811.4h2V810.8h2V812.0h2V811.8h2V812.8h2V811.7h2V811.2h2V810.8h2V811.5h2V810.8h2V811.0h2V810.1h2V810.9h2V812.5h2V812.6h2V813.4h2V813.1h2V813.1h2V813.7h2V813.3h2V813.6h2V813.8h2V814.2h2V819.3h2V814.5h2V814.2h2V814.5h2V814.2h2V812.6h2V813.1h2V812.5h2V811.1h2V811.8h2V812.0h2V811.0h2V812.7h2V812.3h2V811.6h2V812.8h2V811.4h2V811.7h2V813.2h2V813.1h2V812.1h2V812.1h2V811.6h2V813.1h2V811.5h2V810.9h2V809.8h2V810.7h2V809.9h2V810.7h2V811.5h2V811.2h2V813.0h2V813.0h2V812.4h2V813.0h2V813.9h2V813.2h2V813.7h2V812.5h2V813.6h2V813.7h2V813.9h2V812.9h2V812.4h2V813.2h2V813.0h2V812.2h2V812.4h2V812.2h2V813.3h2V812.1h2V812.3h2V813.7h2V812.8h2V812.6h2V812.6h2V812.3h2V810.9h2V811.1h2V810.0h2V809.6h2V810.0h2V810.5h2V810.8h2V811.0h2V811.6h2V811.6h2V812.0h2V813.2h2V812.3h2V813.4h2V813.3h2V813.5h2V812.8h2V812.2h2V811.6h2V811.7h2V810.4h2V811.2h2V811.6h2V811.7h2V812.2h2V812.2h2V811.5h2V811.9h2V812.4h2V812.0h2V812.7h2V812.9h2V813.9h2V814.4h2V814.0h2V813.2h2V812.8h2V814.1h2V813.1h2V813.4h2V813.5h2V813.3h2V813.6h2V813.2h2V812.7h2V812.7h2V811.7h2V811.0h2V811.2h2V812.8h2V813.1h2V812.7h2V812.7h2V813.9h2V814.1h2V813.1h2V813.4h2V811.8h2V812.7h2V812.7h2V812.7h2V812.3h2V812.9h2V812.2h2V813.1h2V812.8h2V812.1h2V811.3h2V810.5h2V811.7h2V811.4h2V811.2h2V809.5h2V810.6h2V810.7h2V810.7h2V811.0h2V812.1h2V812.5h2V813.1h2V813.2h2V814.3h2V813.4h2V812.9h2V813.6h2V812.4h2V812.1h2V811.5h2V810.7h2V811.8h2V812.2h2V811.3h2V812.3h2V812.3h2V812.1h2V812.7h2V812.9h2V813.9h2V814.4h2V813.1h2V814.1h2V812.4h2V812.7h2V812.2h2V812.3h2V812.0h2V813.8h2V813.8h2V813.6h2V813.9h2V813.4h2V812.1h2V812.1h2V811.6h2V811.9h2V811.1h2V811.6h2V811.0h2V810.2h2V810.5h2V810.4h2V810.2h2V810.8h2V809.7h2V810.7h2V812.0h2V811.5h2V812.0h2V811.7h2V811.9h2V813.0h2V813.1h2V812.1h2V812.0h2V813.0h2V812.7h2V813.4h2V812.7h2V812.5h2V812.8h2V814.0h2V813.7h2V813.0h2V814.0h2V813.6h2V813.7h2V812.4h2V813.1h2V812.9h2V813.4h2V812.5h2V812.2h2V813.6h2V813.7h2V813.2h2V813.0h2V812.5h2V812.3h2V813.0h2V812.7h2V812.4h2V812.9h2V813.5h2V813.2h2V814.3h2V813.4h2V812.6h2V813.2h2V813.1h2V813.3h2V812.5h2V811.9h2V819.3h2V819.3h2V813.5h2V813.6h2V813.6h2V813.5h2V813.9h2V814.3h2V814.2h2V813.2h2V812.6h2V812.6h2V811.7h2V811.6h2V810.6h2V811.3h2V811.4h2V810.9h2V811.8h2V810.9h2V811.2h2V810.7h2V811.6h2V812.0h2V811.9h2V812.2h2V813.4h2V813.1h2V812.4h2V813.4h2V812.9h2V812.4h2V812.1h2V813.3h2V813.2h2V814.1h2V813.4h2V814.5h2V813.7h2V813.4h2V813.0h2V811.3h2V811.9h2V812.0h2V812.0h2V812.8h2V812.7h2V812.5h2V813.8h2V812.3h2V813.1h2V813.1h2V812.4h2V811.5h2V811.9h2V811.6h2V812.3h2V812.8h2V813.0h2V813.0h2V813.6h2V814.1h2V814.1h2V813.6h2V813.6h2V814.2h2V813.1h2V813.5h2V812.6h2V812.1h2V812.4h2V812.0h2V813.0h2V812.5h2V812.7h2V813.0h2V814.2h2V813.5h2V812.8h2V813.2h2V814.0h2V814.0h2V815.1h2V813.8h2V813.9h2V813.9h2V812.3h2V811.7h2V811.4h2V811.6h2V812.1h2V812.3h2V812.1h2V812.6h2V813.4h2V813.4h2V813.2h2V812.5h2V811.4h2V811.9h2V811.7h2V811.8h2V812.6h2V813.6h2V814.3h2V815.5h2V815.7h2V814.6h2V813.9h2V813.7h2V814.9h2V813.6h2V813.5h2V812.9h2V813.4h2V812.2h2V812.9h2V811.9h2V811.5h2V810.7h2V811.2h2V812.8h2V813.4h2V812.4h2V812.5h2V813.4h2V811.9h2V812.8h2V812.3h2V811.7h2V812.5h2V812.2h2V811.7h2V811.7h2V811.5h2V809.6h2V810.0h2V809.9h2V811.6h2V811.9h2V812.2h2V813.5h2V812.9h2V813.4h2V813.6h2V812.2h2V811.8h2V811.8h2V811.8h2V811.8h2V812.8h2V812.5h2V812.5h2V813.8h2V813.9h2V814.9h2V814.1h2V813.0h2V813.3h2V814.7h2V814.6h2V813.6h2V813.6h2V812.7h2V813.7h2V812.8h2V812.9h2V812.0h2V811.7h2V811.8h2V811.6h2V811.3h2V811.1h2V810.5h2V812.3h2V811.7h2V812.0h2V811.8h2V812.6h2V812.8h2V813.6h2V812.6h2V812.4h2V813.3h2V814.4h2V813.9h2V813.6h2V813.3h2V813.8h2V814.3h2V814.2h2V813.8h2V813.3h2V813.2h2V813.8h2V814.3h2V813.6h2V812.5h2V812.4h2V812.7h2V811.7h2V812.3h2V811.7h2V811.7h2V813.0h2V813.8h2V814.2h2V812.9h2V814.6h2V813.7h2V813.8h2V813.6h2V812.7h2V811.6h2V812.5h2V812.4h2V812.9h2V812.4h2V813.2h2V812.9h2V813.3h2V813.3h2V813.1h2V812.2h2V812.4h2V812.5h2V812.8h2V811.2h2V812.7h2V811.2h2V811.7h2V810.8h2V811.7h2V819.7Z" fill="#1e1614"/>
<line x1="140.8" y1="819.4" x2="1792.8" y2="819.4" stroke="#1e1614" stroke-width="1.5"/>
<text x="123.2" y="564.5" font-size="25.32" fill="#2b7a3c" text-anchor="end">aChIP</text>
<text x="123.2" y="645.6" font-size="25.32" fill="#4cb4e6" text-anchor="end">eChIP</text>
<text x="123.2" y="728.0" font-size="25.01" fill="#8ed14e" text-anchor="end">rChIP</text>
<text x="123.1" y="812.0" font-size="25.2" text-anchor="end">Flag Col-0</text>
<text x="28.7" y="644.5" font-size="25" text-anchor="middle" transform="rotate(-90 28.7 644.5)" textLength="205" lengthAdjust="spacingAndGlyphs">ROS1-Flag/<tspan font-style="italic">ros1-4</tspan></text>
<line x1="42.1" y1="540.4" x2="42.1" y2="754.7" stroke="#111" stroke-width="1.6"/>
<text x="1786.0" y="559.0" font-size="18.5" text-anchor="end">0-25</text>
<text x="1786.0" y="644.0" font-size="18.5" text-anchor="end">0-25</text>
<text x="1786.0" y="722.8" font-size="18.5" text-anchor="end">0-25</text>
<text x="1786.0" y="802.3" font-size="18.5" text-anchor="end">0-25</text>
<line x1="141.6" y1="845.6" x2="241.2" y2="845.6" stroke="#1e1614" stroke-width="1.6"/>
<rect x="141.6" y="838.4" width="4.4" height="14.4" fill="#1e1614"/>
<rect x="147.0" y="838.4" width="3.0" height="14.4" fill="#1e1614"/>
<rect x="152.0" y="838.4" width="3.0" height="14.4" fill="#1e1614"/>
<rect x="157.0" y="838.4" width="3.0" height="14.4" fill="#1e1614"/>
<rect x="163.0" y="838.4" width="3.0" height="14.4" fill="#1e1614"/>
<rect x="170.0" y="838.4" width="2.0" height="14.4" fill="#1e1614"/>
<rect x="177.0" y="838.4" width="2.0" height="14.4" fill="#1e1614"/>
<rect x="186.0" y="838.4" width="3.0" height="14.4" fill="#1e1614"/>
<rect x="196.0" y="838.4" width="4.0" height="14.4" fill="#1e1614"/>
<rect x="204.0" y="838.4" width="29.0" height="14.4" fill="#1e1614"/>
<rect x="240.0" y="838.4" width="1.2" height="14.4" fill="#1e1614"/>
<line x1="255.4" y1="838.6" x2="255.4" y2="852.6" stroke="#1e1614" stroke-width="1.2"/>
<line x1="286.0" y1="845.6" x2="293.0" y2="845.6" stroke="#1e1614" stroke-width="1.6"/>
<rect x="286.0" y="838.4" width="7.0" height="14.4" fill="#1e1614"/>
<line x1="307.3" y1="845.6" x2="330.0" y2="845.6" stroke="#1e1614" stroke-width="1.6"/>
<rect x="307.3" y="838.4" width="2.7" height="14.4" fill="#1e1614"/>
<rect x="312.0" y="838.4" width="3.0" height="14.4" fill="#1e1614"/>
<rect x="318.0" y="838.4" width="2.0" height="14.4" fill="#1e1614"/>
<rect x="322.0" y="838.4" width="2.0" height="14.4" fill="#1e1614"/>
<rect x="326.0" y="838.4" width="4.0" height="14.4" fill="#1e1614"/>
<line x1="333.8" y1="845.6" x2="353.4" y2="845.6" stroke="#1e1614" stroke-width="1.6"/>
<rect x="333.8" y="838.4" width="7.2" height="14.4" fill="#1e1614"/>
<rect x="343.0" y="838.4" width="6.0" height="14.4" fill="#1e1614"/>
<rect x="350.0" y="838.4" width="3.4" height="14.4" fill="#1e1614"/>
<line x1="362.9" y1="845.6" x2="381.4" y2="845.6" stroke="#1e1614" stroke-width="1.6"/>
<rect x="362.9" y="838.4" width="18.5" height="14.4" fill="#1e1614"/>
<line x1="451.3" y1="845.6" x2="464.5" y2="845.6" stroke="#7a4a1a" stroke-width="1.6"/>
<rect x="451.3" y="838.4" width="4.7" height="14.4" fill="#7a4a1a"/>
<line x1="451.3" y1="845.6" x2="464.5" y2="845.6" stroke="#1e1614" stroke-width="1.6"/>
<rect x="459.0" y="838.4" width="5.5" height="14.4" fill="#1e1614"/>
<line x1="483.6" y1="845.6" x2="501.6" y2="845.6" stroke="#1e1614" stroke-width="1.6"/>
<rect x="483.6" y="838.4" width="5.4" height="14.4" fill="#1e1614"/>
<rect x="491.0" y="838.4" width="5.0" height="14.4" fill="#1e1614"/>
<rect x="498.0" y="838.4" width="3.6" height="14.4" fill="#1e1614"/>
<line x1="513.7" y1="845.6" x2="569.3" y2="845.6" stroke="#1e1614" stroke-width="1.6"/>
<rect x="513.7" y="838.4" width="4.3" height="14.4" fill="#1e1614"/>
<rect x="522.0" y="838.4" width="11.0" height="14.4" fill="#1e1614"/>
<rect x="536.0" y="838.4" width="4.0" height="14.4" fill="#1e1614"/>
<rect x="543.0" y="838.4" width="5.0" height="14.4" fill="#1e1614"/>
<rect x="550.0" y="838.4" width="3.0" height="14.4" fill="#1e1614"/>
<rect x="556.0" y="838.4" width="3.0" height="14.4" fill="#1e1614"/>
<rect x="561.0" y="838.4" width="3.0" height="14.4" fill="#1e1614"/>
<rect x="566.0" y="838.4" width="3.3" height="14.4" fill="#1e1614"/>
<line x1="584.1" y1="845.6" x2="627.5" y2="845.6" stroke="#7a4a1a" stroke-width="1.6"/>
<rect x="584.1" y="838.4" width="4.9" height="14.4" fill="#7a4a1a"/>
<line x1="589.0" y1="845.6" x2="628.7" y2="845.6" stroke="#1e1614" stroke-width="1.6"/>
<rect x="590.0" y="838.4" width="15.0" height="14.4" fill="#1e1614"/>
<rect x="607.0" y="838.4" width="8.0" height="14.4" fill="#1e1614"/>
<rect x="617.0" y="838.4" width="5.0" height="14.4" fill="#1e1614"/>
<rect x="625.0" y="838.4" width="3.7" height="14.4" fill="#1e1614"/>
<line x1="637.0" y1="845.6" x2="736.0" y2="845.6" stroke="#1e1614" stroke-width="1.6"/>
<rect x="638.3" y="838.4" width="3.7" height="14.4" fill="#1e1614"/>
<rect x="645.0" y="838.4" width="5.0" height="14.4" fill="#1e1614"/>
<rect x="652.0" y="838.4" width="4.0" height="14.4" fill="#1e1614"/>
<rect x="658.0" y="838.4" width="4.0" height="14.4" fill="#1e1614"/>
<rect x="664.0" y="838.4" width="4.0" height="14.4" fill="#1e1614"/>
<rect x="670.0" y="838.4" width="4.0" height="14.4" fill="#1e1614"/>
<rect x="676.0" y="838.4" width="4.0" height="14.4" fill="#1e1614"/>
<rect x="682.0" y="838.4" width="8.0" height="14.4" fill="#1e1614"/>
<rect x="692.0" y="838.4" width="3.7" height="14.4" fill="#1e1614"/>
<line x1="752.3" y1="845.6" x2="795.2" y2="845.6" stroke="#1e1614" stroke-width="1.6"/>
<rect x="752.3" y="838.4" width="3.7" height="14.4" fill="#1e1614"/>
<rect x="758.0" y="838.4" width="4.0" height="14.4" fill="#1e1614"/>
<rect x="764.0" y="838.4" width="4.0" height="14.4" fill="#1e1614"/>
<rect x="770.0" y="838.4" width="10.0" height="14.4" fill="#1e1614"/>
<rect x="782.0" y="838.4" width="5.0" height="14.4" fill="#1e1614"/>
<rect x="789.0" y="838.4" width="6.2" height="14.4" fill="#1e1614"/>
<line x1="804.7" y1="845.6" x2="849.5" y2="845.6" stroke="#1e1614" stroke-width="1.6"/>
<rect x="804.7" y="838.4" width="3.3" height="14.4" fill="#1e1614"/>
<rect x="812.0" y="838.4" width="6.0" height="14.4" fill="#1e1614"/>
<rect x="820.0" y="838.4" width="4.0" height="14.4" fill="#1e1614"/>
<rect x="826.0" y="838.4" width="4.0" height="14.4" fill="#1e1614"/>
<rect x="832.0" y="838.4" width="4.0" height="14.4" fill="#1e1614"/>
<rect x="838.0" y="838.4" width="5.0" height="14.4" fill="#1e1614"/>
<rect x="845.0" y="838.4" width="4.5" height="14.4" fill="#1e1614"/>
<line x1="868.4" y1="845.6" x2="875.2" y2="845.6" stroke="#1e1614" stroke-width="1.6"/>
<rect x="868.4" y="838.4" width="6.8" height="14.4" fill="#1e1614"/>
<line x1="881.6" y1="845.6" x2="910.7" y2="845.6" stroke="#1e1614" stroke-width="1.6"/>
<rect x="881.6" y="838.4" width="3.4" height="14.4" fill="#1e1614"/>
<rect x="890.0" y="838.4" width="7.0" height="14.4" fill="#1e1614"/>
<rect x="899.0" y="838.4" width="3.0" height="14.4" fill="#1e1614"/>
<rect x="905.0" y="838.4" width="5.7" height="14.4" fill="#1e1614"/>
<line x1="916.9" y1="845.6" x2="961.7" y2="845.6" stroke="#1e1614" stroke-width="1.6"/>
<rect x="916.9" y="838.4" width="8.1" height="14.4" fill="#1e1614"/>
<rect x="927.0" y="838.4" width="18.0" height="14.4" fill="#1e1614"/>
<rect x="947.0" y="838.4" width="6.0" height="14.4" fill="#1e1614"/>
<rect x="955.0" y="838.4" width="6.7" height="14.4" fill="#1e1614"/>
<line x1="976.2" y1="845.6" x2="997.2" y2="845.6" stroke="#1e1614" stroke-width="1.6"/>
<rect x="976.2" y="838.4" width="4.8" height="14.4" fill="#1e1614"/>
<rect x="985.0" y="838.4" width="6.0" height="14.4" fill="#1e1614"/>
<rect x="993.0" y="838.4" width="4.2" height="14.4" fill="#1e1614"/>
<line x1="1004.9" y1="845.6" x2="1031.7" y2="845.6" stroke="#1e1614" stroke-width="1.6"/>
<rect x="1004.9" y="838.4" width="13.1" height="14.4" fill="#1e1614"/>
<rect x="1020.0" y="838.4" width="6.0" height="14.4" fill="#1e1614"/>
<line x1="1048.5" y1="845.6" x2="1089.9" y2="845.6" stroke="#1e1614" stroke-width="1.6"/>
<rect x="1048.5" y="838.4" width="4.5" height="14.4" fill="#1e1614"/>
<rect x="1057.0" y="838.4" width="3.0" height="14.4" fill="#1e1614"/>
<rect x="1062.0" y="838.4" width="13.0" height="14.4" fill="#1e1614"/>
<rect x="1089.0" y="838.4" width="0.9" height="14.4" fill="#1e1614"/>
<line x1="1113.6" y1="845.6" x2="1167.2" y2="845.6" stroke="#1e1614" stroke-width="1.6"/>
<rect x="1113.6" y="838.4" width="2.4" height="14.4" fill="#1e1614"/>
<rect x="1119.0" y="838.4" width="2.0" height="14.4" fill="#1e1614"/>
<rect x="1124.0" y="838.4" width="3.0" height="14.4" fill="#1e1614"/>
<rect x="1130.0" y="838.4" width="3.0" height="14.4" fill="#1e1614"/>
<rect x="1136.0" y="838.4" width="3.0" height="14.4" fill="#1e1614"/>
<rect x="1142.0" y="838.4" width="3.0" height="14.4" fill="#1e1614"/>
<rect x="1148.0" y="838.4" width="3.0" height="14.4" fill="#1e1614"/>
<rect x="1154.0" y="838.4" width="3.0" height="14.4" fill="#1e1614"/>
<rect x="1160.0" y="838.4" width="3.0" height="14.4" fill="#1e1614"/>
<rect x="1165.0" y="838.4" width="2.2" height="14.4" fill="#1e1614"/>
<line x1="1177.1" y1="845.6" x2="1233.3" y2="845.6" stroke="#1e1614" stroke-width="1.6"/>
<rect x="1177.1" y="838.4" width="3.9" height="14.4" fill="#1e1614"/>
<rect x="1185.0" y="838.4" width="7.0" height="14.4" fill="#1e1614"/>
<rect x="1194.0" y="838.4" width="6.0" height="14.4" fill="#1e1614"/>
<rect x="1205.0" y="838.4" width="5.0" height="14.4" fill="#1e1614"/>
<rect x="1213.0" y="838.4" width="5.0" height="14.4" fill="#1e1614"/>
<rect x="1221.0" y="838.4" width="5.0" height="14.4" fill="#1e1614"/>
<rect x="1229.0" y="838.4" width="4.3" height="14.4" fill="#1e1614"/>
<line x1="1249.2" y1="845.6" x2="1271.9" y2="845.6" stroke="#1e1614" stroke-width="1.6"/>
<rect x="1249.2" y="838.4" width="22.7" height="14.4" fill="#1e1614"/>
<line x1="1288.9" y1="845.6" x2="1336.9" y2="845.6" stroke="#1e1614" stroke-width="1.6"/>
<rect x="1288.9" y="838.4" width="4.1" height="14.4" fill="#1e1614"/>
<rect x="1296.0" y="838.4" width="4.0" height="14.4" fill="#1e1614"/>
<rect x="1303.0" y="838.4" width="3.0" height="14.4" fill="#1e1614"/>
<rect x="1309.0" y="838.4" width="4.0" height="14.4" fill="#1e1614"/>
<rect x="1316.0" y="838.4" width="3.0" height="14.4" fill="#1e1614"/>
<rect x="1323.0" y="838.4" width="4.0" height="14.4" fill="#1e1614"/>
<rect x="1330.0" y="838.4" width="6.9" height="14.4" fill="#1e1614"/>
<line x1="1346.7" y1="845.6" x2="1360.7" y2="845.6" stroke="#1e1614" stroke-width="1.6"/>
<rect x="1346.7" y="838.4" width="4.3" height="14.4" fill="#1e1614"/>
<rect x="1354.0" y="838.4" width="6.7" height="14.4" fill="#1e1614"/>
<line x1="1369.4" y1="845.6" x2="1394.8" y2="845.6" stroke="#1e1614" stroke-width="1.6"/>
<rect x="1369.4" y="838.4" width="25.4" height="14.4" fill="#1e1614"/>
<line x1="1437.5" y1="845.6" x2="1505.6" y2="845.6" stroke="#1e1614" stroke-width="1.6"/>
<rect x="1437.5" y="838.4" width="4.5" height="14.4" fill="#1e1614"/>
<rect x="1445.0" y="838.4" width="4.0" height="14.4" fill="#1e1614"/>
<rect x="1451.0" y="838.4" width="5.0" height="14.4" fill="#1e1614"/>
<rect x="1459.0" y="838.4" width="4.0" height="14.4" fill="#1e1614"/>
<rect x="1466.0" y="838.4" width="14.0" height="14.4" fill="#1e1614"/>
<rect x="1482.0" y="838.4" width="14.0" height="14.4" fill="#1e1614"/>
<rect x="1504.0" y="838.4" width="1.6" height="14.4" fill="#1e1614"/>
<line x1="1520.7" y1="845.6" x2="1555.5" y2="845.6" stroke="#1e1614" stroke-width="1.6"/>
<rect x="1520.7" y="838.4" width="3.3" height="14.4" fill="#1e1614"/>
<rect x="1527.0" y="838.4" width="3.0" height="14.4" fill="#1e1614"/>
<rect x="1533.0" y="838.4" width="3.0" height="14.4" fill="#1e1614"/>
<rect x="1539.0" y="838.4" width="4.0" height="14.4" fill="#1e1614"/>
<rect x="1546.0" y="838.4" width="3.0" height="14.4" fill="#1e1614"/>
<rect x="1553.0" y="838.4" width="2.5" height="14.4" fill="#1e1614"/>
<line x1="1562.3" y1="845.6" x2="1693.6" y2="845.6" stroke="#1e1614" stroke-width="1.6"/>
<rect x="1562.3" y="838.4" width="2.7" height="14.4" fill="#1e1614"/>
<rect x="1569.0" y="838.4" width="3.0" height="14.4" fill="#1e1614"/>
<rect x="1576.0" y="838.4" width="3.0" height="14.4" fill="#1e1614"/>
<rect x="1583.0" y="838.4" width="3.0" height="14.4" fill="#1e1614"/>
<rect x="1590.0" y="838.4" width="3.0" height="14.4" fill="#1e1614"/>
<rect x="1597.0" y="838.4" width="3.0" height="14.4" fill="#1e1614"/>
<rect x="1604.0" y="838.4" width="3.0" height="14.4" fill="#1e1614"/>
<rect x="1611.0" y="838.4" width="3.0" height="14.4" fill="#1e1614"/>
<rect x="1617.0" y="838.4" width="3.0" height="14.4" fill="#1e1614"/>
<rect x="1623.0" y="838.4" width="3.0" height="14.4" fill="#1e1614"/>
<rect x="1629.0" y="838.4" width="3.0" height="14.4" fill="#1e1614"/>
<rect x="1635.0" y="838.4" width="3.0" height="14.4" fill="#1e1614"/>
<rect x="1641.0" y="838.4" width="3.0" height="14.4" fill="#1e1614"/>
<rect x="1647.0" y="838.4" width="3.0" height="14.4" fill="#1e1614"/>
<rect x="1653.0" y="838.4" width="3.0" height="14.4" fill="#1e1614"/>
<rect x="1659.0" y="838.4" width="3.0" height="14.4" fill="#1e1614"/>
<rect x="1665.0" y="838.4" width="3.0" height="14.4" fill="#1e1614"/>
<rect x="1671.0" y="838.4" width="3.0" height="14.4" fill="#1e1614"/>
<rect x="1677.0" y="838.4" width="3.0" height="14.4" fill="#1e1614"/>
<rect x="1683.0" y="838.4" width="3.0" height="14.4" fill="#1e1614"/>
<rect x="1690.0" y="838.4" width="3.6" height="14.4" fill="#1e1614"/>
<line x1="1732.5" y1="845.6" x2="1752.9" y2="845.6" stroke="#7a4a1a" stroke-width="1.6"/>
<rect x="1732.5" y="838.4" width="20.4" height="14.4" fill="#7a4a1a"/>
<line x1="1784.3" y1="845.6" x2="1793.0" y2="845.6" stroke="#1e1614" stroke-width="1.6"/>
<rect x="1784.3" y="838.4" width="8.7" height="14.4" fill="#1e1614"/>
<text x="0.5" y="930.3" font-size="44" fill="#1a1311" font-weight="bold">f</text>
<text x="134.0" y="916.0" font-size="21.25">Cluster 1</text>
<text x="300.3" y="916.0" font-size="24" text-anchor="middle">2</text>
<text x="423.4" y="916.0" font-size="24" text-anchor="middle">3</text>
<text x="546.5" y="916.0" font-size="24" text-anchor="middle">4</text>
<text x="669.6" y="916.0" font-size="24" text-anchor="middle">5</text>
<text x="792.8" y="916.0" font-size="24" text-anchor="middle">6</text>
<text x="74.3" y="942.0" font-size="20.99">n =</text>
<text x="176.7" y="942.0" font-size="21.36" text-anchor="middle">4,724</text>
<text x="299.8" y="942.0" font-size="21.36" text-anchor="middle">4,685</text>
<text x="422.9" y="942.0" font-size="21.36" text-anchor="middle">3,134</text>
<text x="546.0" y="942.0" font-size="21.36" text-anchor="middle">3,096</text>
<text x="669.1" y="942.0" font-size="21.36" text-anchor="middle">4,313</text>
<text x="792.2" y="942.0" font-size="21.36" text-anchor="middle">5,684</text>
<svg x="119.1" y="1046.6" width="113.3" height="90.6" overflow="hidden"><g filter="url(#hb4)"><polygon points="-17.0,-3.0 -17.0,22.6 -17.0,45.3 -17.0,67.9 -17.0,93.6 48.7,93.6 48.7,67.9 48.7,45.3 48.7,22.6 48.7,-3.0" fill="url(#vg0)"/><polygon points="44.2,-3.0 44.2,22.6 43.1,45.3 41.9,67.9 41.9,93.6 65.7,93.6 65.7,67.9 66.8,45.3 68.0,22.6 68.0,-3.0" fill="url(#vg1)"/><polygon points="66.8,-3.0 66.8,22.6 66.8,45.3 66.8,67.9 66.8,93.6 130.3,93.6 130.3,67.9 130.3,45.3 130.3,22.6 130.3,-3.0" fill="url(#vg2)"/></g><rect width="113.3" height="90.6" filter="url(#streak)" opacity="0.55"/></svg>
<svg x="242.2" y="1046.6" width="113.3" height="90.6" overflow="hidden"><g filter="url(#hb4)"><polygon points="38.5,-3.0 38.5,22.6 38.5,45.3 38.5,67.9 38.5,93.6 51.0,93.6 51.0,67.9 51.0,45.3 51.0,22.6 51.0,-3.0" fill="url(#vg3)"/><polygon points="47.6,-3.0 47.6,22.6 46.5,45.3 46.5,67.9 46.5,93.6 66.8,93.6 66.8,67.9 66.8,45.3 68.0,22.6 68.0,-3.0" fill="url(#vg4)"/><polygon points="65.7,-3.0 65.7,22.6 65.7,45.3 65.7,67.9 65.7,93.6 130.3,93.6 130.3,67.9 130.3,45.3 130.3,22.6 130.3,-3.0" fill="url(#vg5)"/></g><rect width="113.3" height="90.6" filter="url(#streak)" opacity="0.55"/></svg>
<svg x="365.3" y="1046.6" width="113.3" height="90.6" overflow="hidden"><g filter="url(#hb4)"><polygon points="-17.0,-3.0 -17.0,22.6 -17.0,45.3 -17.0,67.9 -17.0,93.6 130.3,93.6 130.3,67.9 130.3,45.3 130.3,22.6 130.3,-3.0" fill="url(#vg6)"/><polygon points="51.0,-3.0 51.0,22.6 51.0,45.3 51.0,67.9 51.0,93.6 68.0,93.6 68.0,67.9 68.0,45.3 68.0,22.6 68.0,-3.0" fill="url(#vg7)"/><polygon points="65.7,-3.0 65.7,22.6 65.7,45.3 65.7,67.9 65.7,93.6 130.3,93.6 130.3,67.9 130.3,45.3 130.3,22.6 130.3,-3.0" fill="url(#vg8)"/></g><rect width="113.3" height="90.6" filter="url(#streak)" opacity="0.55"/></svg>
<svg x="488.4" y="1046.6" width="113.3" height="90.6" overflow="hidden"><g filter="url(#hb4)"><polygon points="-17.0,-3.0 -17.0,22.6 -17.0,45.3 -17.0,67.9 -17.0,93.6 130.3,93.6 130.3,67.9 130.3,45.3 130.3,22.6 130.3,-3.0" fill="url(#vg9)"/><polygon points="51.0,-3.0 51.0,22.6 51.0,45.3 51.0,67.9 51.0,93.6 65.7,93.6 65.7,67.9 65.7,45.3 65.7,22.6 65.7,-3.0" fill="url(#vg10)"/></g><rect width="113.3" height="90.6" filter="url(#streak)" opacity="0.55"/></svg>
<svg x="611.5" y="1046.6" width="113.3" height="90.6" overflow="hidden"><g filter="url(#hb4)"><polygon points="-17.0,-3.0 -17.0,22.6 -17.0,45.3 -17.0,67.9 -17.0,93.6 130.3,93.6 130.3,67.9 130.3,45.3 130.3,22.6 130.3,-3.0" fill="url(#vg11)"/><polygon points="47.6,-3.0 47.6,22.6 47.6,45.3 47.6,67.9 47.6,93.6 65.7,93.6 65.7,67.9 65.7,45.3 65.7,22.6 65.7,-3.0" fill="url(#vg12)"/></g><rect width="113.3" height="90.6" filter="url(#streak)" opacity="0.55"/></svg>
<svg x="734.6" y="1046.6" width="113.3" height="90.6" overflow="hidden"><g filter="url(#hb4)"><polygon points="-17.0,-3.0 -17.0,22.6 -17.0,45.3 -17.0,67.9 -17.0,93.6 130.3,93.6 130.3,67.9 130.3,45.3 130.3,22.6 130.3,-3.0" fill="url(#vg13)"/><polygon points="51.0,-3.0 51.0,22.6 51.0,45.3 51.0,67.9 51.0,93.6 66.8,93.6 66.8,67.9 66.8,45.3 66.8,22.6 66.8,-3.0" fill="url(#vg14)"/></g><rect width="113.3" height="90.6" filter="url(#streak)" opacity="0.55"/></svg>
<svg x="119.1" y="1144.1" width="113.3" height="90.6" overflow="hidden"><g filter="url(#hb4)"><polygon points="-17.0,-3.0 -17.0,22.6 -17.0,45.3 -17.0,67.9 -17.0,93.6 51.0,93.6 51.0,67.9 51.0,45.3 51.0,22.6 51.0,-3.0" fill="url(#vg15)"/><polygon points="48.7,-3.0 48.7,22.6 48.7,45.3 48.7,67.9 48.7,93.6 63.4,93.6 63.4,67.9 63.4,45.3 63.4,22.6 63.4,-3.0" fill="url(#vg16)"/></g><rect width="113.3" height="90.6" filter="url(#streak)" opacity="0.55"/></svg>
<svg x="242.2" y="1144.1" width="113.3" height="90.6" overflow="hidden"><g filter="url(#hb4)"><polygon points="62.3,-3.0 62.3,22.6 62.3,45.3 62.3,67.9 62.3,93.6 130.3,93.6 130.3,67.9 130.3,45.3 130.3,22.6 130.3,-3.0" fill="url(#vg17)"/><polygon points="53.3,-3.0 53.3,22.6 53.3,45.3 53.3,67.9 53.3,93.6 65.7,93.6 65.7,67.9 65.7,45.3 65.7,22.6 65.7,-3.0" fill="url(#vg18)"/></g><rect width="113.3" height="90.6" filter="url(#streak)" opacity="0.55"/></svg>
<svg x="365.3" y="1144.1" width="113.3" height="90.6" overflow="hidden"><g filter="url(#hb4)"><polygon points="-17.0,-3.0 -17.0,22.6 -17.0,45.3 -17.0,67.9 -17.0,93.6 130.3,93.6 130.3,67.9 130.3,45.3 130.3,22.6 130.3,-3.0" fill="url(#vg19)"/><polygon points="49.9,-3.0 49.9,22.6 49.9,45.3 49.9,67.9 49.9,93.6 63.4,93.6 63.4,67.9 63.4,45.3 63.4,22.6 63.4,-3.0" fill="url(#vg20)"/></g><rect width="113.3" height="90.6" filter="url(#streak)" opacity="0.55"/></svg>
<svg x="488.4" y="1144.1" width="113.3" height="90.6" overflow="hidden"><g filter="url(#hb4)"><polygon points="-17.0,-3.0 -17.0,22.6 -17.0,45.3 -17.0,67.9 -17.0,93.6 130.3,93.6 130.3,67.9 130.3,45.3 130.3,22.6 130.3,-3.0" fill="url(#vg21)"/><polygon points="51.0,-3.0 51.0,22.6 51.0,45.3 51.0,67.9 51.0,93.6 63.4,93.6 63.4,67.9 63.4,45.3 63.4,22.6 63.4,-3.0" fill="url(#vg22)"/></g><rect width="113.3" height="90.6" filter="url(#streak)" opacity="0.55"/></svg>
<svg x="611.5" y="1144.1" width="113.3" height="90.6" overflow="hidden"><g filter="url(#hb4)"><polygon points="-17.0,-3.0 -17.0,22.6 -17.0,45.3 -17.0,67.9 -17.0,93.6 130.3,93.6 130.3,67.9 130.3,45.3 130.3,22.6 130.3,-3.0" fill="url(#vg23)"/><polygon points="52.1,-3.0 52.1,22.6 52.1,45.3 52.1,67.9 52.1,93.6 62.3,93.6 62.3,67.9 62.3,45.3 62.3,22.6 62.3,-3.0" fill="url(#vg24)"/></g><rect width="113.3" height="90.6" filter="url(#streak)" opacity="0.55"/></svg>
<svg x="734.6" y="1144.1" width="113.3" height="90.6" overflow="hidden"><g filter="url(#hb4)"><polygon points="-17.0,-3.0 -17.0,22.6 -17.0,45.3 -17.0,67.9 -17.0,93.6 130.3,93.6 130.3,67.9 130.3,45.3 130.3,22.6 130.3,-3.0" fill="url(#vg25)"/><polygon points="52.1,-3.0 52.1,22.6 52.1,45.3 52.1,67.9 52.1,93.6 63.4,93.6 63.4,67.9 63.4,45.3 63.4,22.6 63.4,-3.0" fill="url(#vg26)"/></g><rect width="113.3" height="90.6" filter="url(#streak)" opacity="0.55"/></svg>
<svg x="119.1" y="1241.7" width="113.3" height="90.6" overflow="hidden"><g filter="url(#hb4)"><polygon points="-17.0,-3.0 -17.0,22.6 -17.0,45.3 -17.0,67.9 -17.0,93.6 58.9,93.6 58.9,67.9 58.9,45.3 58.9,22.6 58.9,-3.0" fill="url(#vg27)"/><polygon points="55.5,-3.0 56.6,22.6 56.6,45.3 56.6,67.9 58.9,93.6 74.8,93.6 79.3,67.9 81.6,45.3 85.0,22.6 89.5,-3.0" fill="url(#vg28)"/></g><rect width="113.3" height="90.6" filter="url(#streak)" opacity="0.55"/></svg>
<svg x="242.2" y="1241.7" width="113.3" height="90.6" overflow="hidden"><g filter="url(#hb4)"><polygon points="22.7,-3.0 27.2,22.6 30.6,45.3 34.0,67.9 38.5,93.6 58.9,93.6 58.9,67.9 58.9,45.3 58.9,22.6 58.9,-3.0" fill="url(#vg28)"/><polygon points="56.6,-3.0 56.6,22.6 56.6,45.3 56.6,67.9 56.6,93.6 130.3,93.6 130.3,67.9 130.3,45.3 130.3,22.6 130.3,-3.0" fill="url(#vg27)"/></g><rect width="113.3" height="90.6" filter="url(#streak)" opacity="0.55"/></svg>
<svg x="365.3" y="1241.7" width="113.3" height="90.6" overflow="hidden"><g filter="url(#hb4)"><polygon points="-17.0,-3.0 -17.0,22.6 -17.0,45.3 -17.0,67.9 -17.0,93.6 56.6,93.6 56.6,67.9 56.6,45.3 56.6,22.6 56.6,-3.0" fill="url(#vg29)"/><polygon points="49.9,-3.0 56.6,22.6 62.3,45.3 66.8,67.9 71.4,93.6 130.3,93.6 130.3,67.9 130.3,45.3 130.3,22.6 130.3,-3.0" fill="url(#vg30)"/></g><rect width="113.3" height="90.6" filter="url(#streak)" opacity="0.55"/></svg>
<svg x="488.4" y="1241.7" width="113.3" height="90.6" overflow="hidden"><g filter="url(#hb4)"><polygon points="-17.0,-3.0 -17.0,22.6 -17.0,45.3 -17.0,67.9 -17.0,93.6 56.6,93.6 56.6,67.9 57.8,45.3 58.9,22.6 58.9,-3.0" fill="url(#vg31)"/><polygon points="56.6,-3.0 56.6,22.6 56.6,45.3 56.6,67.9 56.6,93.6 130.3,93.6 130.3,67.9 130.3,45.3 130.3,22.6 130.3,-3.0" fill="url(#vg32)"/></g><rect width="113.3" height="90.6" filter="url(#streak)" opacity="0.55"/></svg>
<svg x="611.5" y="1241.7" width="113.3" height="90.6" overflow="hidden"><g filter="url(#hb4)"><polygon points="-17.0,-3.0 -17.0,22.6 -17.0,45.3 -17.0,67.9 -17.0,93.6 130.3,93.6 130.3,67.9 130.3,45.3 130.3,22.6 130.3,-3.0" fill="url(#vg33)"/></g><rect width="113.3" height="90.6" filter="url(#streak)" opacity="0.55"/></svg>
<svg x="734.6" y="1241.7" width="113.3" height="90.6" overflow="hidden"><g filter="url(#hb4)"><polygon points="-17.0,-3.0 -17.0,22.6 -17.0,45.3 -17.0,67.9 -17.0,93.6 13.6,93.6 13.6,67.9 13.6,45.3 13.6,22.6 13.6,-3.0" fill="url(#vg34)"/><polygon points="102.0,-3.0 102.0,22.6 102.0,45.3 102.0,67.9 102.0,93.6 130.3,93.6 130.3,67.9 130.3,45.3 130.3,22.6 130.3,-3.0" fill="url(#vg35)"/></g><rect width="113.3" height="90.6" filter="url(#streak)" opacity="0.55"/></svg>
<svg x="119.1" y="1339.2" width="113.3" height="90.6" overflow="hidden"><g filter="url(#hb4)"><polygon points="-17.0,-3.0 -17.0,22.6 -17.0,45.3 -17.0,67.9 -17.0,93.6 58.9,93.6 58.9,67.9 58.9,45.3 58.9,22.6 58.9,-3.0" fill="url(#vg36)"/><polygon points="55.5,-3.0 55.5,22.6 56.6,45.3 56.6,67.9 56.6,93.6 72.5,93.6 74.8,67.9 77.0,45.3 80.4,22.6 83.8,-3.0" fill="url(#vg37)"/><polygon points="68.0,-3.0 68.0,22.6 68.0,45.3 68.0,67.9 68.0,93.6 130.3,93.6 130.3,67.9 130.3,45.3 130.3,22.6 130.3,-3.0" fill="url(#vg38)"/></g><rect width="113.3" height="90.6" filter="url(#streak)" opacity="0.55"/></svg>
<svg x="242.2" y="1339.2" width="113.3" height="90.6" overflow="hidden"><g filter="url(#hb4)"><polygon points="-17.0,-3.0 -17.0,22.6 -17.0,45.3 -17.0,67.9 -17.0,93.6 36.3,93.6 36.3,67.9 36.3,45.3 36.3,22.6 36.3,-3.0" fill="url(#vg39)"/><polygon points="30.6,-3.0 32.9,22.6 35.1,45.3 37.4,67.9 40.8,93.6 60.0,93.6 60.0,67.9 60.0,45.3 60.0,22.6 60.0,-3.0" fill="url(#vg37)"/><polygon points="56.6,-3.0 56.6,22.6 56.6,45.3 56.6,67.9 56.6,93.6 130.3,93.6 130.3,67.9 130.3,45.3 130.3,22.6 130.3,-3.0" fill="url(#vg40)"/></g><rect width="113.3" height="90.6" filter="url(#streak)" opacity="0.55"/></svg>
<svg x="365.3" y="1339.2" width="113.3" height="90.6" overflow="hidden"><g filter="url(#hb4)"><polygon points="-17.0,-3.0 -17.0,22.6 -17.0,45.3 -17.0,67.9 -17.0,93.6 58.9,93.6 58.9,67.9 58.9,45.3 58.9,22.6 58.9,-3.0" fill="url(#vg41)"/><polygon points="51.0,-3.0 56.6,22.6 60.0,45.3 63.4,67.9 66.8,93.6 130.3,93.6 130.3,67.9 130.3,45.3 130.3,22.6 130.3,-3.0" fill="url(#vg42)"/></g><rect width="113.3" height="90.6" filter="url(#streak)" opacity="0.55"/></svg>
<svg x="488.4" y="1339.2" width="113.3" height="90.6" overflow="hidden"><g filter="url(#hb4)"><polygon points="-17.0,-3.0 -17.0,22.6 -17.0,45.3 -17.0,67.9 -17.0,93.6 58.9,93.6 58.9,67.9 58.9,45.3 58.9,22.6 58.9,-3.0" fill="url(#vg43)"/><polygon points="56.6,-3.0 56.6,22.6 56.6,45.3 56.6,67.9 56.6,93.6 130.3,93.6 130.3,67.9 130.3,45.3 130.3,22.6 130.3,-3.0" fill="url(#vg44)"/></g><rect width="113.3" height="90.6" filter="url(#streak)" opacity="0.55"/></svg>
<svg x="611.5" y="1339.2" width="113.3" height="90.6" overflow="hidden"><g filter="url(#hb4)"><polygon points="-17.0,-3.0 -17.0,22.6 -17.0,45.3 -17.0,67.9 -17.0,93.6 130.3,93.6 130.3,67.9 130.3,45.3 130.3,22.6 130.3,-3.0" fill="url(#vg45)"/></g><rect width="113.3" height="90.6" filter="url(#streak)" opacity="0.55"/></svg>
<svg x="734.6" y="1339.2" width="113.3" height="90.6" overflow="hidden"><g filter="url(#hb4)"><polygon points="-17.0,-3.0 -17.0,22.6 -17.0,45.3 -17.0,67.9 -17.0,93.6 130.3,93.6 130.3,67.9 130.3,45.3 130.3,22.6 130.3,-3.0" fill="url(#vg46)"/></g><rect width="113.3" height="90.6" filter="url(#streak)" opacity="0.55"/></svg>
<svg x="119.1" y="1436.8" width="113.3" height="90.6" overflow="hidden"><g filter="url(#hb4)"><polygon points="-17.0,-3.0 -17.0,22.6 -17.0,45.3 -17.0,67.9 -17.0,93.6 30.6,93.6 30.6,67.9 30.6,45.3 30.6,22.6 30.6,-3.0" fill="url(#vg47)"/><polygon points="68.0,-3.0 68.0,22.6 66.8,45.3 65.7,67.9 64.6,93.6 130.3,93.6 130.3,67.9 130.3,45.3 130.3,22.6 130.3,-3.0" fill="url(#vg48)"/></g><rect width="113.3" height="90.6" filter="url(#streak)" opacity="0.55"/></svg>
<svg x="242.2" y="1436.8" width="113.3" height="90.6" overflow="hidden"><g filter="url(#hb4)"><polygon points="-17.0,-3.0 -17.0,22.6 -17.0,45.3 -17.0,67.9 -17.0,93.6 51.0,93.6 48.7,67.9 47.6,45.3 46.5,22.6 45.3,-3.0" fill="url(#vg49)"/><polygon points="86.1,-3.0 86.1,22.6 86.1,45.3 86.1,67.9 86.1,93.6 130.3,93.6 130.3,67.9 130.3,45.3 130.3,22.6 130.3,-3.0" fill="url(#vg47)"/></g><rect width="113.3" height="90.6" filter="url(#streak)" opacity="0.55"/></svg>
<svg x="365.3" y="1436.8" width="113.3" height="90.6" overflow="hidden"><g filter="url(#hb4)"><polygon points="-17.0,-3.0 -17.0,22.6 -17.0,45.3 -17.0,67.9 -17.0,93.6 28.3,93.6 28.3,67.9 28.3,45.3 28.3,22.6 28.3,-3.0" fill="url(#vg50)"/></g><rect width="113.3" height="90.6" filter="url(#streak)" opacity="0.55"/></svg>
<svg x="488.4" y="1436.8" width="113.3" height="90.6" overflow="hidden"><g filter="url(#hb4)"><polygon points="-17.0,-3.0 -17.0,22.6 -17.0,45.3 -17.0,67.9 -17.0,93.6 6.8,93.6 6.8,67.9 6.8,45.3 6.8,22.6 6.8,-3.0" fill="url(#vg51)"/><polygon points="102.0,-3.0 102.0,22.6 102.0,45.3 102.0,67.9 102.0,93.6 130.3,93.6 130.3,67.9 130.3,45.3 130.3,22.6 130.3,-3.0" fill="url(#vg52)"/></g><rect width="113.3" height="90.6" filter="url(#streak)" opacity="0.55"/></svg>
<svg x="611.5" y="1436.8" width="113.3" height="90.6" overflow="hidden"><g filter="url(#hb4)"></g></svg>
<svg x="734.6" y="1436.8" width="113.3" height="90.6" overflow="hidden"><g filter="url(#hb4)"><polygon points="-17.0,-3.0 -17.0,22.6 -17.0,45.3 -17.0,67.9 -17.0,93.6 130.3,93.6 130.3,67.9 130.3,45.3 130.3,22.6 130.3,-3.0" fill="url(#vg53)"/></g><rect width="113.3" height="90.6" filter="url(#streak)" opacity="0.55"/></svg>
<svg x="119.1" y="1534.3" width="113.3" height="90.6" overflow="hidden"><g filter="url(#hb4)"><polygon points="-17.0,-3.0 -17.0,22.6 -17.0,45.3 -17.0,67.9 -17.0,93.6 34.0,93.6 34.0,67.9 34.0,45.3 34.0,22.6 34.0,-3.0" fill="url(#vg2)"/></g><rect width="113.3" height="90.6" filter="url(#streak)" opacity="0.55"/></svg>
<svg x="242.2" y="1534.3" width="113.3" height="90.6" overflow="hidden"><g filter="url(#hb4)"><polygon points="73.6,-3.0 73.6,22.6 73.6,45.3 73.6,67.9 73.6,93.6 130.3,93.6 130.3,67.9 130.3,45.3 130.3,22.6 130.3,-3.0" fill="url(#vg54)"/></g><rect width="113.3" height="90.6" filter="url(#streak)" opacity="0.55"/></svg>
<svg x="365.3" y="1534.3" width="113.3" height="90.6" overflow="hidden"><g filter="url(#hb4)"><polygon points="-17.0,-3.0 -17.0,22.6 -17.0,45.3 -17.0,67.9 -17.0,93.6 45.3,93.6 45.3,67.9 45.3,45.3 45.3,22.6 45.3,-3.0" fill="url(#vg33)"/></g><rect width="113.3" height="90.6" filter="url(#streak)" opacity="0.55"/></svg>
<svg x="488.4" y="1534.3" width="113.3" height="90.6" overflow="hidden"><g filter="url(#hb4)"><polygon points="81.6,-3.0 81.6,22.6 81.6,45.3 81.6,67.9 81.6,93.6 130.3,93.6 130.3,67.9 130.3,45.3 130.3,22.6 130.3,-3.0" fill="url(#vg33)"/></g><rect width="113.3" height="90.6" filter="url(#streak)" opacity="0.55"/></svg>
<svg x="611.5" y="1534.3" width="113.3" height="90.6" overflow="hidden"><g filter="url(#hb4)"><polygon points="-17.0,-3.0 -17.0,22.6 -17.0,45.3 -17.0,67.9 -17.0,93.6 53.3,93.6 53.3,67.9 53.3,45.3 53.3,22.6 53.3,-3.0" fill="url(#vg55)"/><polygon points="60.0,-3.0 60.0,22.6 60.0,45.3 60.0,67.9 60.0,93.6 130.3,93.6 130.3,67.9 130.3,45.3 130.3,22.6 130.3,-3.0" fill="url(#vg55)"/><polygon points="49.9,-3.0 49.9,22.6 49.9,45.3 49.9,67.9 49.9,93.6 63.4,93.6 63.4,67.9 63.4,45.3 63.4,22.6 63.4,-3.0" fill="url(#vg56)"/></g><rect width="113.3" height="90.6" filter="url(#streak)" opacity="0.55"/></svg>
<svg x="734.6" y="1534.3" width="113.3" height="90.6" overflow="hidden"><g filter="url(#hb4)"><polygon points="79.3,-3.0 79.3,22.6 79.3,45.3 79.3,67.9 79.3,93.6 130.3,93.6 130.3,67.9 130.3,45.3 130.3,22.6 130.3,-3.0" fill="url(#vg57)"/></g><rect width="113.3" height="90.6" filter="url(#streak)" opacity="0.55"/></svg>
<svg x="119.1" y="1631.9" width="113.3" height="90.6" overflow="hidden"><g filter="url(#hb4)"></g></svg>
<svg x="242.2" y="1631.9" width="113.3" height="90.6" overflow="hidden"><g filter="url(#hb4)"></g></svg>
<svg x="365.3" y="1631.9" width="113.3" height="90.6" overflow="hidden"><g filter="url(#hb4)"></g></svg>
<svg x="488.4" y="1631.9" width="113.3" height="90.6" overflow="hidden"><g filter="url(#hb4)"></g></svg>
<svg x="611.5" y="1631.9" width="113.3" height="90.6" overflow="hidden"><g filter="url(#hb4)"></g></svg>
<svg x="734.6" y="1631.9" width="113.3" height="90.6" overflow="hidden"><g filter="url(#hb4)"></g></svg>
<rect x="119.1" y="949.7" width="113.3" height="90.9" fill="none" stroke="#5a5a5a" stroke-width="1.3"/>
<rect x="119.1" y="1046.6" width="113.3" height="90.6" fill="none" stroke="#5a5a5a" stroke-width="1.3"/>
<rect x="119.1" y="1144.1" width="113.3" height="90.6" fill="none" stroke="#5a5a5a" stroke-width="1.3"/>
<rect x="119.1" y="1241.7" width="113.3" height="90.6" fill="none" stroke="#5a5a5a" stroke-width="1.3"/>
<rect x="119.1" y="1339.2" width="113.3" height="90.6" fill="none" stroke="#5a5a5a" stroke-width="1.3"/>
<rect x="119.1" y="1436.8" width="113.3" height="90.6" fill="none" stroke="#5a5a5a" stroke-width="1.3"/>
<rect x="119.1" y="1534.3" width="113.3" height="90.6" fill="none" stroke="#5a5a5a" stroke-width="1.3"/>
<rect x="119.1" y="1631.9" width="113.3" height="90.6" fill="none" stroke="#5a5a5a" stroke-width="1.3"/>
<line x1="175.8" y1="1049.0" x2="175.8" y2="1723.0" stroke="#4a4a4a" stroke-width="1.25" stroke-dasharray="10.7,11.6" stroke-dashoffset="-1"/>
<line x1="119.1" y1="1730.5" x2="232.4" y2="1730.5" stroke="#111" stroke-width="1.6"/>
<line x1="119.9" y1="1730.0" x2="119.9" y2="1735.0" stroke="#111" stroke-width="1.6"/>
<line x1="175.8" y1="1730.0" x2="175.8" y2="1735.0" stroke="#111" stroke-width="1.6"/>
<line x1="231.6" y1="1730.0" x2="231.6" y2="1735.0" stroke="#111" stroke-width="1.6"/>
<rect x="242.2" y="949.7" width="113.3" height="90.9" fill="none" stroke="#5a5a5a" stroke-width="1.3"/>
<rect x="242.2" y="1046.6" width="113.3" height="90.6" fill="none" stroke="#5a5a5a" stroke-width="1.3"/>
<rect x="242.2" y="1144.1" width="113.3" height="90.6" fill="none" stroke="#5a5a5a" stroke-width="1.3"/>
<rect x="242.2" y="1241.7" width="113.3" height="90.6" fill="none" stroke="#5a5a5a" stroke-width="1.3"/>
<rect x="242.2" y="1339.2" width="113.3" height="90.6" fill="none" stroke="#5a5a5a" stroke-width="1.3"/>
<rect x="242.2" y="1436.8" width="113.3" height="90.6" fill="none" stroke="#5a5a5a" stroke-width="1.3"/>
<rect x="242.2" y="1534.3" width="113.3" height="90.6" fill="none" stroke="#5a5a5a" stroke-width="1.3"/>
<rect x="242.2" y="1631.9" width="113.3" height="90.6" fill="none" stroke="#5a5a5a" stroke-width="1.3"/>
<line x1="298.8" y1="1049.0" x2="298.8" y2="1723.0" stroke="#4a4a4a" stroke-width="1.25" stroke-dasharray="10.7,11.6" stroke-dashoffset="-1"/>
<line x1="242.2" y1="1730.5" x2="355.5" y2="1730.5" stroke="#111" stroke-width="1.6"/>
<line x1="243.0" y1="1730.0" x2="243.0" y2="1735.0" stroke="#111" stroke-width="1.6"/>
<line x1="298.8" y1="1730.0" x2="298.8" y2="1735.0" stroke="#111" stroke-width="1.6"/>
<line x1="354.7" y1="1730.0" x2="354.7" y2="1735.0" stroke="#111" stroke-width="1.6"/>
<rect x="365.3" y="949.7" width="113.3" height="90.9" fill="none" stroke="#5a5a5a" stroke-width="1.3"/>
<rect x="365.3" y="1046.6" width="113.3" height="90.6" fill="none" stroke="#5a5a5a" stroke-width="1.3"/>
<rect x="365.3" y="1144.1" width="113.3" height="90.6" fill="none" stroke="#5a5a5a" stroke-width="1.3"/>
<rect x="365.3" y="1241.7" width="113.3" height="90.6" fill="none" stroke="#5a5a5a" stroke-width="1.3"/>
<rect x="365.3" y="1339.2" width="113.3" height="90.6" fill="none" stroke="#5a5a5a" stroke-width="1.3"/>
<rect x="365.3" y="1436.8" width="113.3" height="90.6" fill="none" stroke="#5a5a5a" stroke-width="1.3"/>
<rect x="365.3" y="1534.3" width="113.3" height="90.6" fill="none" stroke="#5a5a5a" stroke-width="1.3"/>
<rect x="365.3" y="1631.9" width="113.3" height="90.6" fill="none" stroke="#5a5a5a" stroke-width="1.3"/>
<line x1="421.9" y1="1049.0" x2="421.9" y2="1723.0" stroke="#4a4a4a" stroke-width="1.25" stroke-dasharray="10.7,11.6" stroke-dashoffset="-1"/>
<line x1="365.3" y1="1730.5" x2="478.6" y2="1730.5" stroke="#111" stroke-width="1.6"/>
<line x1="366.1" y1="1730.0" x2="366.1" y2="1735.0" stroke="#111" stroke-width="1.6"/>
<line x1="421.9" y1="1730.0" x2="421.9" y2="1735.0" stroke="#111" stroke-width="1.6"/>
<line x1="477.8" y1="1730.0" x2="477.8" y2="1735.0" stroke="#111" stroke-width="1.6"/>
<rect x="488.4" y="949.7" width="113.3" height="90.9" fill="none" stroke="#5a5a5a" stroke-width="1.3"/>
<rect x="488.4" y="1046.6" width="113.3" height="90.6" fill="none" stroke="#5a5a5a" stroke-width="1.3"/>
<rect x="488.4" y="1144.1" width="113.3" height="90.6" fill="none" stroke="#5a5a5a" stroke-width="1.3"/>
<rect x="488.4" y="1241.7" width="113.3" height="90.6" fill="none" stroke="#5a5a5a" stroke-width="1.3"/>
<rect x="488.4" y="1339.2" width="113.3" height="90.6" fill="none" stroke="#5a5a5a" stroke-width="1.3"/>
<rect x="488.4" y="1436.8" width="113.3" height="90.6" fill="none" stroke="#5a5a5a" stroke-width="1.3"/>
<rect x="488.4" y="1534.3" width="113.3" height="90.6" fill="none" stroke="#5a5a5a" stroke-width="1.3"/>
<rect x="488.4" y="1631.9" width="113.3" height="90.6" fill="none" stroke="#5a5a5a" stroke-width="1.3"/>
<line x1="545.0" y1="1049.0" x2="545.0" y2="1723.0" stroke="#4a4a4a" stroke-width="1.25" stroke-dasharray="10.7,11.6" stroke-dashoffset="-1"/>
<line x1="488.4" y1="1730.5" x2="601.7" y2="1730.5" stroke="#111" stroke-width="1.6"/>
<line x1="489.2" y1="1730.0" x2="489.2" y2="1735.0" stroke="#111" stroke-width="1.6"/>
<line x1="545.0" y1="1730.0" x2="545.0" y2="1735.0" stroke="#111" stroke-width="1.6"/>
<line x1="600.9" y1="1730.0" x2="600.9" y2="1735.0" stroke="#111" stroke-width="1.6"/>
<rect x="611.5" y="949.7" width="113.3" height="90.9" fill="none" stroke="#5a5a5a" stroke-width="1.3"/>
<rect x="611.5" y="1046.6" width="113.3" height="90.6" fill="none" stroke="#5a5a5a" stroke-width="1.3"/>
<rect x="611.5" y="1144.1" width="113.3" height="90.6" fill="none" stroke="#5a5a5a" stroke-width="1.3"/>
<rect x="611.5" y="1241.7" width="113.3" height="90.6" fill="none" stroke="#5a5a5a" stroke-width="1.3"/>
<rect x="611.5" y="1339.2" width="113.3" height="90.6" fill="none" stroke="#5a5a5a" stroke-width="1.3"/>
<rect x="611.5" y="1436.8" width="113.3" height="90.6" fill="none" stroke="#5a5a5a" stroke-width="1.3"/>
<rect x="611.5" y="1534.3" width="113.3" height="90.6" fill="none" stroke="#5a5a5a" stroke-width="1.3"/>
<rect x="611.5" y="1631.9" width="113.3" height="90.6" fill="none" stroke="#5a5a5a" stroke-width="1.3"/>
<line x1="668.1" y1="1049.0" x2="668.1" y2="1723.0" stroke="#4a4a4a" stroke-width="1.25" stroke-dasharray="10.7,11.6" stroke-dashoffset="-1"/>
<line x1="611.5" y1="1730.5" x2="724.8" y2="1730.5" stroke="#111" stroke-width="1.6"/>
<line x1="612.3" y1="1730.0" x2="612.3" y2="1735.0" stroke="#111" stroke-width="1.6"/>
<line x1="668.1" y1="1730.0" x2="668.1" y2="1735.0" stroke="#111" stroke-width="1.6"/>
<line x1="724.0" y1="1730.0" x2="724.0" y2="1735.0" stroke="#111" stroke-width="1.6"/>
<rect x="734.6" y="949.7" width="113.3" height="90.9" fill="none" stroke="#5a5a5a" stroke-width="1.3"/>
<rect x="734.6" y="1046.6" width="113.3" height="90.6" fill="none" stroke="#5a5a5a" stroke-width="1.3"/>
<rect x="734.6" y="1144.1" width="113.3" height="90.6" fill="none" stroke="#5a5a5a" stroke-width="1.3"/>
<rect x="734.6" y="1241.7" width="113.3" height="90.6" fill="none" stroke="#5a5a5a" stroke-width="1.3"/>
<rect x="734.6" y="1339.2" width="113.3" height="90.6" fill="none" stroke="#5a5a5a" stroke-width="1.3"/>
<rect x="734.6" y="1436.8" width="113.3" height="90.6" fill="none" stroke="#5a5a5a" stroke-width="1.3"/>
<rect x="734.6" y="1534.3" width="113.3" height="90.6" fill="none" stroke="#5a5a5a" stroke-width="1.3"/>
<rect x="734.6" y="1631.9" width="113.3" height="90.6" fill="none" stroke="#5a5a5a" stroke-width="1.3"/>
<line x1="791.2" y1="1049.0" x2="791.2" y2="1723.0" stroke="#4a4a4a" stroke-width="1.25" stroke-dasharray="10.7,11.6" stroke-dashoffset="-1"/>
<line x1="734.6" y1="1730.5" x2="847.9" y2="1730.5" stroke="#111" stroke-width="1.6"/>
<line x1="735.4" y1="1730.0" x2="735.4" y2="1735.0" stroke="#111" stroke-width="1.6"/>
<line x1="791.2" y1="1730.0" x2="791.2" y2="1735.0" stroke="#111" stroke-width="1.6"/>
<line x1="847.1" y1="1730.0" x2="847.1" y2="1735.0" stroke="#111" stroke-width="1.6"/>
<line x1="119.1" y1="965.5" x2="123.1" y2="965.5" stroke="#111" stroke-width="1.2"/>
<line x1="119.1" y1="1004.6" x2="123.1" y2="1004.6" stroke="#111" stroke-width="1.2"/>
<text x="88.0" y="967.4" font-size="24" text-anchor="middle" transform="rotate(-90 88.0 967.4)">2</text>
<text x="88.0" y="1006.5" font-size="24" text-anchor="middle" transform="rotate(-90 88.0 1006.5)">0</text>
<text x="54.3" y="985.0" font-size="22.49" text-anchor="middle" transform="rotate(-90 54.3 985.0)">Density</text>
<path d="M119.1,1033.3 C124.8,1033.3 143.6,1032.9 153.1,1033.3 C162.5,1033.8 168.2,1035.8 175.8,1036.1 C183.3,1036.4 189.0,1035.6 198.4,1035.1 C207.9,1034.7 226.7,1033.6 232.4,1033.3" fill="none" stroke="#8b5a3a" stroke-width="2.4" stroke-linejoin="round"/>
<path d="M119.1,1021.5 C122.9,1021.7 135.2,1021.7 141.8,1022.4 C148.4,1023.2 153.1,1024.1 158.8,1026.1 C164.4,1028.0 169.1,1033.0 175.8,1034.2 C182.4,1035.4 189.0,1033.8 198.4,1033.3 C207.9,1032.9 226.7,1031.8 232.4,1031.5" fill="none" stroke="#7b2d9e" stroke-width="2.4" stroke-linejoin="round"/>
<path d="M119.1,1010.6 C122.9,1010.5 135.2,1008.2 141.8,1009.7 C148.4,1011.2 153.1,1015.8 158.8,1019.7 C164.4,1023.6 171.0,1032.9 175.8,1033.3 C180.5,1033.8 183.3,1028.8 187.1,1022.4 C190.9,1016.1 194.6,1001.5 198.4,995.2 C202.2,988.8 206.3,986.2 209.7,984.2 C213.1,982.3 215.0,982.6 218.8,983.3 C222.6,984.1 230.1,987.9 232.4,988.8" fill="none" stroke="#4cb4e6" stroke-width="2.4" stroke-linejoin="round"/>
<path d="M119.1,1018.8 C121.4,1019.4 128.0,1021.4 132.7,1022.4 C137.4,1023.5 142.5,1026.7 147.4,1025.1 C152.3,1023.6 157.8,1021.4 162.2,1013.3 C166.5,1005.3 170.3,986.4 173.5,977.0 C176.7,967.6 179.1,960.9 181.4,957.0 C183.7,953.0 185.0,951.5 187.1,953.3 C189.2,955.2 191.0,958.6 193.9,967.9 C196.7,977.1 200.5,998.5 204.1,1008.8 C207.7,1019.1 210.7,1026.4 215.4,1029.7 C220.1,1033.0 229.6,1028.9 232.4,1028.8" fill="none" stroke="#8ed14e" stroke-width="2.4" stroke-linejoin="round"/>
<path d="M119.1,1011.5 C122.9,1012.3 135.2,1016.1 141.8,1016.1 C148.4,1016.1 154.0,1015.0 158.8,1011.5 C163.5,1008.0 166.7,1002.1 170.1,995.2 C173.5,988.2 176.3,974.8 179.1,969.7 C182.0,964.5 184.2,963.0 187.1,964.2 C189.9,965.5 192.4,969.5 196.1,977.0 C199.9,984.4 205.6,1001.7 209.7,1008.8 C213.9,1015.9 217.3,1018.0 221.1,1019.7 C224.8,1021.4 230.5,1018.9 232.4,1018.8" fill="none" stroke="#2244d6" stroke-width="2.4" stroke-linejoin="round"/>
<path d="M119.1,1016.1 C122.9,1015.9 135.2,1016.4 141.8,1015.1 C148.4,1013.9 154.2,1012.1 158.8,1008.8 C163.3,1005.5 166.3,999.4 169.0,995.2 C171.6,990.9 172.7,981.8 174.6,983.3 C176.5,984.8 178.2,998.0 180.3,1004.2 C182.4,1010.5 184.1,1017.7 187.1,1020.6 C190.1,1023.5 193.7,1021.4 198.4,1021.5 C203.1,1021.7 209.7,1021.8 215.4,1021.5 C221.1,1021.2 229.6,1020.0 232.4,1019.7" fill="none" stroke="#e8582a" stroke-width="2.4" stroke-linejoin="round"/>
<path d="M119.1,1008.8 C121.9,1008.8 130.4,1009.5 136.1,1008.8 C141.8,1008.0 148.4,1006.5 153.1,1004.2 C157.8,1002.0 160.8,999.4 164.4,995.2 C168.0,990.9 171.8,980.3 174.6,978.8 C177.4,977.3 178.4,981.5 181.4,986.1 C184.4,990.6 188.0,1001.1 192.7,1006.1 C197.5,1011.1 205.0,1013.9 209.7,1016.1 C214.5,1018.2 217.3,1018.6 221.1,1018.8 C224.8,1018.9 230.5,1017.3 232.4,1017.0" fill="none" stroke="#2b7a3c" stroke-width="2.4" stroke-linejoin="round"/>
<path d="M242.2,1034.2 C247.9,1034.2 266.7,1034.1 276.2,1034.2 C285.6,1034.4 293.2,1035.4 298.8,1035.1 C304.5,1034.8 300.7,1032.9 310.2,1032.4 C319.6,1032.0 347.9,1032.4 355.5,1032.4" fill="none" stroke="#8b5a3a" stroke-width="2.4" stroke-linejoin="round"/>
<path d="M242.2,1033.3 C247.9,1033.3 266.7,1033.2 276.2,1033.3 C285.6,1033.5 293.2,1035.3 298.8,1034.2 C304.5,1033.2 305.5,1029.2 310.2,1027.0 C314.9,1024.7 319.6,1021.8 327.2,1020.6 C334.7,1019.4 350.8,1019.8 355.5,1019.7" fill="none" stroke="#7b2d9e" stroke-width="2.4" stroke-linejoin="round"/>
<path d="M242.2,987.0 C245.0,986.1 253.9,980.9 259.2,981.5 C264.5,982.1 269.2,984.5 273.9,990.6 C278.6,996.7 283.4,1010.8 287.5,1017.9 C291.7,1025.0 295.1,1031.8 298.8,1033.3 C302.6,1034.8 305.5,1030.6 310.2,1027.0 C314.9,1023.3 322.5,1014.7 327.2,1011.5 C331.9,1008.3 333.8,1008.6 338.5,1007.9 C343.2,1007.1 352.7,1007.1 355.5,1007.0" fill="none" stroke="#4cb4e6" stroke-width="2.4" stroke-linejoin="round"/>
<path d="M242.2,1027.0 C243.1,1027.4 244.1,1032.0 247.9,1029.7 C251.6,1027.4 259.8,1022.9 264.9,1013.3 C270.0,1003.8 274.7,982.1 278.5,972.4 C282.2,962.7 284.5,955.2 287.5,955.2 C290.5,955.2 293.2,963.5 296.6,972.4 C300.0,981.4 303.8,1000.5 307.9,1008.8 C312.1,1017.1 317.4,1019.8 321.5,1022.4 C325.7,1025.0 327.2,1024.5 332.8,1024.2 C338.5,1023.9 351.7,1021.2 355.5,1020.6" fill="none" stroke="#8ed14e" stroke-width="2.4" stroke-linejoin="round"/>
<path d="M242.2,1019.7 C245.0,1019.4 253.9,1022.0 259.2,1017.9 C264.5,1013.8 269.2,1003.8 273.9,995.2 C278.6,986.5 283.4,968.3 287.5,966.1 C291.7,963.8 295.1,974.4 298.8,981.5 C302.6,988.6 304.5,1003.2 310.2,1008.8 C315.8,1014.4 325.3,1014.7 332.8,1015.1 C340.4,1015.6 351.7,1012.1 355.5,1011.5" fill="none" stroke="#2244d6" stroke-width="2.4" stroke-linejoin="round"/>
<path d="M242.2,1020.6 C246.0,1020.8 258.3,1021.5 264.9,1021.5 C271.5,1021.5 277.3,1022.7 281.9,1020.6 C286.4,1018.5 289.2,1015.0 292.1,1008.8 C294.9,1002.6 296.6,984.8 298.8,983.3 C301.1,981.8 302.8,995.0 305.6,999.7 C308.5,1004.4 311.3,1008.9 315.8,1011.5 C320.4,1014.1 326.2,1014.2 332.8,1015.1 C339.4,1016.1 351.7,1016.7 355.5,1017.0" fill="none" stroke="#e8582a" stroke-width="2.4" stroke-linejoin="round"/>
<path d="M242.2,1019.7 C246.0,1019.5 258.3,1020.1 264.9,1018.8 C271.5,1017.4 277.1,1016.2 281.9,1011.5 C286.6,1006.8 290.2,996.1 293.2,990.6 C296.2,985.2 297.5,978.8 300.0,978.8 C302.4,978.8 304.3,986.4 307.9,990.6 C311.5,994.8 316.4,1001.4 321.5,1004.2 C326.6,1007.1 332.8,1007.0 338.5,1007.9 C344.2,1008.8 352.7,1009.4 355.5,1009.7" fill="none" stroke="#2b7a3c" stroke-width="2.4" stroke-linejoin="round"/>
<path d="M365.3,1033.3 C374.7,1033.5 403.1,1034.1 421.9,1034.2 C440.8,1034.4 469.2,1034.2 478.6,1034.2" fill="none" stroke="#8b5a3a" stroke-width="2.4" stroke-linejoin="round"/>
<path d="M365.3,1020.6 C370.0,1021.2 384.2,1022.7 393.6,1024.2 C403.1,1025.8 413.5,1029.1 421.9,1029.7 C430.4,1030.3 435.2,1028.0 444.6,1027.9 C454.1,1027.7 472.9,1028.6 478.6,1028.8" fill="none" stroke="#7b2d9e" stroke-width="2.4" stroke-linejoin="round"/>
<path d="M365.3,1017.0 C369.1,1017.6 381.4,1019.1 388.0,1020.6 C394.6,1022.1 399.3,1024.2 405.0,1026.1 C410.6,1027.9 416.3,1031.1 421.9,1031.5 C427.6,1032.0 433.3,1029.7 438.9,1028.8 C444.6,1027.9 449.3,1028.0 455.9,1026.1 C462.5,1024.1 474.8,1018.5 478.6,1017.0" fill="none" stroke="#4cb4e6" stroke-width="2.4" stroke-linejoin="round"/>
<path d="M365.3,1017.0 C368.1,1017.7 376.6,1020.3 382.3,1021.5 C388.0,1022.7 393.6,1024.8 399.3,1024.2 C405.0,1023.6 411.6,1022.0 416.3,1017.9 C421.0,1013.8 423.8,1006.8 427.6,999.7 C431.4,992.6 434.6,981.1 438.9,975.2 C443.3,969.2 449.3,964.7 453.7,964.2 C458.0,963.8 460.8,967.6 465.0,972.4 C469.2,977.3 476.3,989.8 478.6,993.3" fill="none" stroke="#8ed14e" stroke-width="2.4" stroke-linejoin="round"/>
<path d="M365.3,1005.1 C369.1,1005.3 381.4,1006.2 388.0,1006.1 C394.6,1005.9 400.2,1004.8 405.0,1004.2 C409.7,1003.6 412.5,1004.2 416.3,1002.4 C420.1,1000.6 423.8,997.3 427.6,993.3 C431.4,989.4 434.4,982.7 438.9,978.8 C443.5,974.8 450.1,970.0 454.8,969.7 C459.5,969.4 463.3,973.6 467.3,977.0 C471.2,980.3 476.7,987.6 478.6,989.7" fill="none" stroke="#2244d6" stroke-width="2.4" stroke-linejoin="round"/>
<path d="M365.3,1009.7 C368.1,1008.9 376.6,1006.4 382.3,1005.1 C388.0,1003.9 394.6,1003.8 399.3,1002.4 C404.0,1001.1 407.0,1000.1 410.6,997.0 C414.2,993.8 418.0,983.3 420.8,983.3 C423.6,983.3 425.2,993.0 427.6,997.0 C430.1,1000.9 430.8,1005.1 435.5,1007.0 C440.3,1008.8 448.8,1007.9 455.9,1007.9 C463.1,1007.9 474.8,1007.1 478.6,1007.0" fill="none" stroke="#e8582a" stroke-width="2.4" stroke-linejoin="round"/>
<path d="M365.3,1000.6 C368.1,999.8 376.6,997.4 382.3,996.1 C388.0,994.7 394.6,994.1 399.3,992.4 C404.0,990.8 407.0,989.2 410.6,986.1 C414.2,982.9 418.0,974.4 420.8,973.3 C423.6,972.3 425.2,977.1 427.6,979.7 C430.1,982.3 430.8,986.8 435.5,988.8 C440.3,990.8 448.8,990.5 455.9,991.5 C463.1,992.6 474.8,994.5 478.6,995.2" fill="none" stroke="#2b7a3c" stroke-width="2.4" stroke-linejoin="round"/>
<path d="M488.4,1035.1 C497.8,1035.1 526.2,1035.3 545.0,1035.1 C563.9,1035.0 592.3,1034.4 601.7,1034.2" fill="none" stroke="#8b5a3a" stroke-width="2.4" stroke-linejoin="round"/>
<path d="M488.4,1029.7 C493.1,1029.5 508.2,1029.1 516.7,1028.8 C525.2,1028.5 534.7,1027.6 539.4,1027.9 C544.1,1028.2 541.3,1030.9 545.0,1030.6 C548.8,1030.3 556.4,1027.4 562.0,1026.1 C567.7,1024.7 572.4,1023.3 579.0,1022.4 C585.6,1021.5 597.9,1020.9 601.7,1020.6" fill="none" stroke="#7b2d9e" stroke-width="2.4" stroke-linejoin="round"/>
<path d="M488.4,1018.8 C492.2,1019.7 504.5,1022.7 511.1,1024.2 C517.7,1025.8 522.4,1026.8 528.1,1027.9 C533.7,1028.9 539.4,1030.9 545.0,1030.6 C550.7,1030.3 556.4,1027.4 562.0,1026.1 C567.7,1024.7 572.4,1023.6 579.0,1022.4 C585.6,1021.2 597.9,1019.4 601.7,1018.8" fill="none" stroke="#4cb4e6" stroke-width="2.4" stroke-linejoin="round"/>
<path d="M488.4,995.2 C489.9,992.1 493.3,981.7 497.5,977.0 C501.6,972.3 508.2,967.7 513.3,967.0 C518.4,966.2 523.7,969.2 528.1,972.4 C532.4,975.6 535.6,980.8 539.4,986.1 C543.2,991.4 546.9,998.5 550.7,1004.2 C554.5,1010.0 558.3,1017.6 562.0,1020.6 C565.8,1023.6 569.6,1022.4 573.4,1022.4 C577.2,1022.4 580.0,1021.1 584.7,1020.6 C589.4,1020.1 598.9,1019.8 601.7,1019.7" fill="none" stroke="#8ed14e" stroke-width="2.4" stroke-linejoin="round"/>
<path d="M488.4,991.1 C490.3,988.7 496.0,980.2 499.7,977.0 C503.5,973.7 506.9,971.8 511.1,971.5 C515.2,971.2 520.5,972.4 524.7,975.2 C528.8,977.9 532.2,983.6 536.0,987.9 C539.8,992.1 541.1,997.9 547.3,1000.6 C553.5,1003.3 564.3,1003.3 573.4,1004.2 C582.4,1005.1 597.0,1005.8 601.7,1006.1" fill="none" stroke="#2244d6" stroke-width="2.4" stroke-linejoin="round"/>
<path d="M488.4,1006.1 C491.2,1006.5 499.7,1008.6 505.4,1008.8 C511.1,1008.9 517.7,1008.0 522.4,1007.0 C527.1,1005.9 529.9,1006.1 533.7,1002.4 C537.5,998.8 542.0,986.4 545.0,985.2 C548.1,983.9 549.0,992.4 551.8,995.2 C554.7,997.9 556.6,999.7 562.0,1001.5 C567.5,1003.3 578.1,1004.7 584.7,1006.1 C591.3,1007.4 598.9,1009.1 601.7,1009.7" fill="none" stroke="#e8582a" stroke-width="2.4" stroke-linejoin="round"/>
<path d="M488.4,995.2 C491.2,994.7 499.7,993.5 505.4,992.4 C511.1,991.4 517.7,990.2 522.4,988.8 C527.1,987.4 529.9,986.8 533.7,984.2 C537.5,981.7 541.7,973.3 545.0,973.3 C548.4,973.3 550.7,981.4 554.1,984.2 C557.5,987.1 560.3,988.8 565.4,990.6 C570.5,992.4 578.7,993.6 584.7,995.2 C590.7,996.7 598.9,998.9 601.7,999.7" fill="none" stroke="#2b7a3c" stroke-width="2.4" stroke-linejoin="round"/>
<path d="M611.5,1034.2 C620.9,1034.4 649.3,1035.1 668.1,1035.1 C687.0,1035.1 715.4,1034.4 724.8,1034.2" fill="none" stroke="#8b5a3a" stroke-width="2.4" stroke-linejoin="round"/>
<path d="M611.5,987.9 C614.3,987.0 622.8,984.1 628.5,982.4 C634.2,980.8 640.4,977.7 645.5,977.9 C650.6,978.0 655.3,981.2 659.1,983.3 C662.9,985.5 665.1,990.6 668.1,990.6 C671.2,990.6 673.4,985.5 677.2,983.3 C681.0,981.2 685.7,978.0 690.8,977.9 C695.9,977.7 702.1,980.6 707.8,982.4 C713.5,984.2 722.0,987.7 724.8,988.8" fill="none" stroke="#7b2d9e" stroke-width="2.4" stroke-linejoin="round"/>
<path d="M611.5,1019.7 C618.1,1020.1 641.7,1020.9 651.2,1022.4 C660.6,1023.9 662.5,1028.8 668.1,1028.8 C673.8,1028.8 675.7,1023.8 685.1,1022.4 C694.6,1021.1 718.2,1020.9 724.8,1020.6" fill="none" stroke="#4cb4e6" stroke-width="2.4" stroke-linejoin="round"/>
<path d="M611.5,1024.2 C618.1,1024.4 641.7,1024.7 651.2,1025.1 C660.6,1025.6 662.5,1027.0 668.1,1027.0 C673.8,1027.0 675.7,1025.5 685.1,1025.1 C694.6,1024.8 718.2,1025.1 724.8,1025.1" fill="none" stroke="#8ed14e" stroke-width="2.4" stroke-linejoin="round"/>
<path d="M611.5,1016.1 C619.1,1016.1 647.4,1015.6 656.8,1016.1 C666.3,1016.5 664.4,1018.8 668.1,1018.8 C671.9,1018.8 670.0,1016.5 679.5,1016.1 C688.9,1015.6 717.2,1016.1 724.8,1016.1" fill="none" stroke="#2244d6" stroke-width="2.4" stroke-linejoin="round"/>
<path d="M611.5,1013.3 C618.1,1013.3 642.8,1013.9 651.2,1013.3 C659.5,1012.7 658.5,1012.7 661.4,1009.7 C664.2,1006.7 665.9,995.2 668.1,995.2 C670.4,995.2 672.1,1006.7 674.9,1009.7 C677.8,1012.7 676.8,1012.9 685.1,1013.3 C693.5,1013.8 718.2,1012.6 724.8,1012.4" fill="none" stroke="#e8582a" stroke-width="2.4" stroke-linejoin="round"/>
<path d="M611.5,1004.2 C617.2,1003.9 637.9,1003.3 645.5,1002.4 C653.0,1001.5 653.0,1002.3 656.8,998.8 C660.6,995.3 664.4,981.5 668.1,981.5 C671.9,981.5 675.7,995.2 679.5,998.8 C683.3,1002.4 683.3,1002.3 690.8,1003.3 C698.4,1004.4 719.1,1004.8 724.8,1005.1" fill="none" stroke="#2b7a3c" stroke-width="2.4" stroke-linejoin="round"/>
<path d="M734.6,1033.3 C744.0,1033.5 772.4,1034.2 791.2,1034.2 C810.1,1034.2 838.5,1033.5 847.9,1033.3" fill="none" stroke="#8b5a3a" stroke-width="2.4" stroke-linejoin="round"/>
<path d="M734.6,1019.7 C739.3,1019.8 753.5,1019.4 762.9,1020.6 C772.4,1021.8 781.8,1027.0 791.2,1027.0 C800.7,1027.0 810.1,1021.8 819.6,1020.6 C829.0,1019.4 843.2,1019.8 847.9,1019.7" fill="none" stroke="#7b2d9e" stroke-width="2.4" stroke-linejoin="round"/>
<path d="M734.6,1017.9 C739.3,1018.6 753.5,1020.5 762.9,1022.4 C772.4,1024.4 781.8,1029.7 791.2,1029.7 C800.7,1029.7 810.1,1024.5 819.6,1022.4 C829.0,1020.3 843.2,1017.9 847.9,1017.0" fill="none" stroke="#4cb4e6" stroke-width="2.4" stroke-linejoin="round"/>
<path d="M734.6,1017.9 C736.9,1019.1 743.5,1023.5 748.2,1025.1 C752.9,1026.8 755.7,1027.3 762.9,1027.9 C770.1,1028.5 781.8,1028.8 791.2,1028.8 C800.7,1028.8 812.4,1028.5 819.6,1027.9 C826.8,1027.3 829.6,1026.7 834.3,1025.1 C839.0,1023.6 845.6,1019.8 847.9,1018.8" fill="none" stroke="#8ed14e" stroke-width="2.4" stroke-linejoin="round"/>
<path d="M734.6,1010.6 C739.3,1011.4 756.3,1014.5 762.9,1015.1 C769.5,1015.8 769.5,1013.6 774.3,1014.2 C779.0,1014.8 785.6,1018.8 791.2,1018.8 C796.9,1018.8 802.6,1015.0 808.2,1014.2 C813.9,1013.5 818.6,1015.0 825.2,1014.2 C831.8,1013.5 844.1,1010.5 847.9,1009.7" fill="none" stroke="#2244d6" stroke-width="2.4" stroke-linejoin="round"/>
<path d="M734.6,1009.7 C737.4,1009.2 746.9,1007.6 751.6,1007.0 C756.3,1006.4 759.5,1005.9 762.9,1006.1 C766.3,1006.2 768.8,1008.5 772.0,1007.9 C775.2,1007.3 779.0,1005.9 782.2,1002.4 C785.4,998.9 788.2,987.0 791.2,987.0 C794.3,987.0 796.5,998.9 800.3,1002.4 C804.1,1005.9 808.8,1006.8 813.9,1007.9 C819.0,1008.9 825.2,1008.2 830.9,1008.8 C836.6,1009.4 845.1,1011.1 847.9,1011.5" fill="none" stroke="#e8582a" stroke-width="2.4" stroke-linejoin="round"/>
<path d="M734.6,1001.5 C737.4,1001.2 745.9,1000.3 751.6,999.7 C757.3,999.1 763.9,999.1 768.6,997.9 C773.3,996.7 776.1,995.8 779.9,992.4 C783.7,989.1 787.5,977.9 791.2,977.9 C795.0,977.9 798.8,989.1 802.6,992.4 C806.4,995.8 809.2,996.7 813.9,997.9 C818.6,999.1 825.2,998.8 830.9,999.7 C836.6,1000.6 845.1,1002.7 847.9,1003.3" fill="none" stroke="#2b7a3c" stroke-width="2.4" stroke-linejoin="round"/>
<text x="103" y="1068.9" font-size="23.5" text-anchor="end" fill="#2b7a3c" transform="rotate(-45 103 1068.9)">ROS1-Flag</text>
<text x="103" y="1166.4" font-size="23.5" text-anchor="end" fill="#111" transform="rotate(-45 103 1166.4)">ATAC-seq</text>
<text x="103" y="1264.0" font-size="23.5" text-anchor="end" fill="#111" transform="rotate(-45 103 1264.0)">H3K4me3</text>
<text x="103" y="1361.5" font-size="23.5" text-anchor="end" fill="#111" transform="rotate(-45 103 1361.5)">H3K9ac</text>
<text x="103" y="1459.1" font-size="23.5" text-anchor="end" fill="#111" transform="rotate(-45 103 1459.1)">H3K4me1</text>
<text x="103" y="1556.6" font-size="23.5" text-anchor="end" fill="#111" transform="rotate(-45 103 1556.6)">H3K27me3</text>
<text x="103" y="1654.2" font-size="23.5" text-anchor="end" fill="#111" transform="rotate(-45 103 1654.2)">H3K9me2</text>
<text x="94.1" y="1758.2" font-size="21.17">-2 kb</text>
<text x="176.5" y="1758.2" font-size="22" text-anchor="middle">0</text>
<text x="209.5" y="1758.2" font-size="21.27">2 kb</text>
<text x="68.9" y="1778.3" font-size="21.88">Distance to ROS1 summit</text>
<rect x="703.8" y="1744" width="104.4" height="10.2" fill="url(#cbf)" stroke="#777" stroke-width="0.8"/>
<text x="694.0" y="1757.5" font-size="22" text-anchor="end">-2</text>
<text x="816.0" y="1757.5" font-size="22">5</text>
<text x="659.7" y="1778.6" font-size="21.81">Log2 (sample/input)</text>
<text x="909.5" y="931.8" font-size="44" fill="#1a1311" font-weight="bold">g</text>
<text x="1065.8" y="940.6" font-size="24" font-family="'Liberation Sans', 'Noto Sans CJK SC', sans-serif" textLength="212" lengthAdjust="spacingAndGlyphs">Intragenic（3,242）</text>
<line x1="986.7" y1="956.5" x2="986.7" y2="1226.0" stroke="#111" stroke-width="1.6"/>
<line x1="986.7" y1="1225.4" x2="1362.4" y2="1225.4" stroke="#111" stroke-width="1.6"/>
<line x1="986.7" y1="995.8" x2="991.5" y2="995.8" stroke="#111" stroke-width="1.4"/>
<text x="975.5" y="995.8" font-size="24" text-anchor="middle" transform="rotate(-90 975.5 995.8)">1</text>
<line x1="986.7" y1="1079.3" x2="991.5" y2="1079.3" stroke="#111" stroke-width="1.4"/>
<text x="975.5" y="1079.3" font-size="24" text-anchor="middle" transform="rotate(-90 975.5 1079.3)">0</text>
<line x1="986.7" y1="1163.2" x2="991.5" y2="1163.2" stroke="#111" stroke-width="1.4"/>
<text x="975.5" y="1163.2" font-size="24" text-anchor="middle" transform="rotate(-90 975.5 1163.2)">-1</text>
<line x1="1112.0" y1="956.5" x2="1112.0" y2="1225.0" stroke="#888" stroke-width="1.4" stroke-dasharray="6,4"/>
<line x1="1236.4" y1="956.5" x2="1236.4" y2="1225.0" stroke="#888" stroke-width="1.4" stroke-dasharray="6,4"/>
<text x="967.0" y="1255.0" font-size="25.08">-4 kb</text>
<text x="1090.7" y="1255.0" font-size="24.11">TSS</text>
<text x="1216.7" y="1255.0" font-size="24.44">TTS</text>
<text x="1295.4" y="1255.0" font-size="25.34">4 kb</text>
<text x="944.0" y="1084.0" font-size="25.14" text-anchor="middle" transform="rotate(-90 944.0 1084.0)">Read density</text>
<path d="M987.7,1203.0 C994.3,1203.3 1015.6,1204.2 1027.6,1204.6 C1039.5,1205.1 1047.8,1205.5 1059.5,1205.9 C1071.1,1206.3 1090.0,1206.2 1097.7,1206.9 C1105.4,1207.6 1103.3,1209.0 1105.7,1210.1 C1108.1,1211.1 1106.5,1212.8 1112.1,1213.3 C1117.6,1213.7 1126.7,1212.8 1139.2,1212.6 C1151.7,1212.5 1173.7,1212.6 1187.0,1212.3 C1200.3,1212.0 1210.4,1211.8 1218.9,1211.0 C1227.4,1210.3 1230.1,1208.5 1238.0,1207.8 C1246.0,1207.1 1254.0,1207.4 1266.7,1206.9 C1279.5,1206.3 1298.9,1205.3 1314.6,1204.6 C1330.2,1204.0 1353.1,1203.3 1360.8,1203.0" fill="none" stroke="#8b5a3a" stroke-width="2.4" stroke-linejoin="round"/>
<path d="M987.7,1142.1 C994.3,1141.2 1015.6,1137.7 1027.6,1136.7 C1039.5,1135.7 1049.9,1135.3 1059.5,1136.1 C1069.0,1136.9 1078.6,1139.5 1085.0,1141.5 C1091.3,1143.5 1094.3,1145.9 1097.7,1147.9 C1101.2,1149.8 1103.0,1155.4 1105.7,1153.3 C1108.3,1151.2 1110.7,1140.0 1113.7,1135.1 C1116.6,1130.2 1119.8,1126.7 1123.2,1124.0 C1126.7,1121.2 1129.1,1118.5 1134.4,1118.5 C1139.7,1118.5 1147.4,1122.0 1155.1,1124.0 C1162.8,1125.9 1172.7,1128.5 1180.6,1130.3 C1188.6,1132.2 1196.6,1132.7 1203.0,1135.1 C1209.3,1137.5 1214.1,1141.5 1218.9,1144.7 C1223.7,1147.9 1227.7,1151.4 1231.7,1154.3 C1235.6,1157.1 1238.6,1161.6 1242.8,1161.6 C1247.1,1161.6 1251.6,1156.5 1257.2,1154.3 C1262.7,1152.0 1268.9,1149.6 1276.3,1147.9 C1283.7,1146.2 1292.8,1145.0 1301.8,1144.0 C1310.8,1143.1 1320.7,1142.3 1330.5,1142.5 C1340.3,1142.6 1355.8,1144.3 1360.8,1144.7" fill="none" stroke="#7b2d9e" stroke-width="2.4" stroke-linejoin="round"/>
<path d="M987.7,1112.8 C994.3,1114.4 1015.6,1118.1 1027.6,1122.4 C1039.5,1126.6 1050.4,1131.9 1059.5,1138.3 C1068.5,1144.7 1075.4,1153.2 1081.8,1160.6 C1088.2,1168.1 1093.6,1177.9 1097.7,1183.0 C1101.9,1188.0 1103.5,1192.0 1106.6,1190.9 C1109.8,1189.9 1112.5,1183.2 1116.9,1176.6 C1121.2,1169.9 1126.4,1160.6 1132.8,1151.1 C1139.2,1141.5 1147.7,1128.7 1155.1,1119.2 C1162.6,1109.6 1171.1,1099.0 1177.4,1093.7 C1183.8,1088.3 1188.6,1087.8 1193.4,1087.3 C1198.2,1086.8 1201.9,1086.8 1206.1,1090.5 C1210.4,1094.2 1214.6,1101.1 1218.9,1109.6 C1223.2,1118.1 1227.9,1133.0 1231.7,1141.5 C1235.4,1150.0 1239.1,1156.4 1241.2,1160.6 C1243.3,1164.9 1242.3,1168.1 1244.4,1167.0 C1246.5,1165.9 1250.3,1160.1 1254.0,1154.3 C1257.7,1148.4 1262.0,1138.8 1266.7,1131.9 C1271.5,1125.0 1276.8,1116.8 1282.7,1112.8 C1288.5,1108.8 1293.8,1108.3 1301.8,1108.0 C1309.8,1107.7 1320.7,1110.2 1330.5,1111.2 C1340.3,1112.2 1355.8,1113.3 1360.8,1113.8" fill="none" stroke="#4cb4e6" stroke-width="2.4" stroke-linejoin="round"/>
<path d="M987.7,1139.9 C991.7,1140.4 1002.3,1141.2 1011.6,1143.1 C1020.9,1145.0 1032.9,1147.6 1043.5,1151.1 C1054.1,1154.5 1067.4,1160.4 1075.4,1163.8 C1083.4,1167.3 1087.9,1170.3 1091.3,1171.8 C1094.8,1173.3 1094.3,1175.7 1096.1,1172.8 C1098.0,1169.8 1100.6,1165.8 1102.5,1154.3 C1104.4,1142.7 1105.4,1125.0 1107.3,1103.2 C1109.1,1081.4 1111.5,1043.7 1113.7,1023.5 C1115.8,1003.3 1117.4,991.1 1120.0,982.0 C1122.7,973.0 1126.4,970.4 1129.6,969.3 C1132.8,968.2 1135.5,969.3 1139.2,975.7 C1142.9,982.0 1146.6,994.3 1151.9,1007.6 C1157.2,1020.8 1165.2,1042.1 1171.1,1055.4 C1176.9,1068.7 1181.7,1077.7 1187.0,1087.3 C1192.3,1096.9 1197.6,1104.8 1203.0,1112.8 C1208.3,1120.8 1213.6,1127.1 1218.9,1135.1 C1224.2,1143.1 1230.9,1154.8 1234.8,1160.6 C1238.8,1166.5 1239.6,1170.2 1242.8,1170.2 C1246.0,1170.2 1249.5,1164.4 1254.0,1160.6 C1258.5,1156.9 1263.0,1152.7 1269.9,1147.9 C1276.8,1143.1 1288.0,1135.7 1295.4,1131.9 C1302.9,1128.2 1308.2,1125.8 1314.6,1125.6 C1320.9,1125.3 1326.0,1128.7 1333.7,1130.3 C1341.4,1131.9 1356.3,1134.3 1360.8,1135.1" fill="none" stroke="#8ed14e" stroke-width="2.4" stroke-linejoin="round"/>
<path d="M987.7,1102.3 C994.3,1102.4 1015.6,1102.0 1027.6,1103.2 C1039.5,1104.5 1050.9,1107.7 1059.5,1109.6 C1068.0,1111.5 1073.3,1113.2 1078.6,1114.4 C1083.9,1115.6 1087.7,1117.2 1091.3,1116.6 C1095.0,1116.1 1097.7,1117.7 1100.3,1111.2 C1102.8,1104.7 1104.5,1092.3 1106.6,1077.7 C1108.8,1063.1 1110.8,1037.3 1113.0,1023.5 C1115.3,1009.7 1117.5,1000.8 1120.0,994.8 C1122.5,988.8 1124.8,987.5 1128.0,987.5 C1131.2,987.5 1134.7,989.9 1139.2,994.8 C1143.7,999.7 1149.8,1009.7 1155.1,1017.1 C1160.4,1024.6 1164.7,1032.5 1171.1,1039.5 C1177.4,1046.4 1186.5,1052.2 1193.4,1058.6 C1200.3,1065.0 1206.7,1070.3 1212.5,1077.7 C1218.4,1085.2 1223.4,1094.7 1228.5,1103.2 C1233.5,1111.7 1239.1,1126.6 1242.8,1128.7 C1246.5,1130.9 1246.8,1119.7 1250.8,1116.0 C1254.8,1112.3 1261.4,1109.1 1266.7,1106.4 C1272.1,1103.8 1274.7,1101.8 1282.7,1100.0 C1290.7,1098.3 1301.5,1095.5 1314.6,1095.9 C1327.6,1096.3 1353.1,1101.2 1360.8,1102.3" fill="none" stroke="#2244d6" stroke-width="2.4" stroke-linejoin="round"/>
<path d="M987.7,1116.0 C991.7,1116.3 1003.9,1118.4 1011.6,1117.6 C1019.3,1116.8 1026.0,1113.6 1033.9,1111.2 C1041.9,1108.8 1052.0,1106.7 1059.5,1103.2 C1066.9,1099.8 1072.7,1096.9 1078.6,1090.5 C1084.4,1084.1 1090.5,1074.0 1094.5,1065.0 C1098.5,1055.9 1100.3,1045.2 1102.5,1036.3 C1104.7,1027.3 1106.2,1009.8 1107.9,1011.4 C1109.7,1013.0 1111.0,1030.5 1113.0,1045.8 C1115.0,1061.1 1117.3,1087.8 1120.0,1103.2 C1122.8,1118.6 1127.0,1131.4 1129.6,1138.3 C1132.3,1145.2 1131.7,1144.2 1136.0,1144.7 C1140.2,1145.2 1147.7,1142.8 1155.1,1141.5 C1162.6,1140.2 1172.7,1138.0 1180.6,1136.7 C1188.6,1135.4 1197.1,1138.0 1203.0,1133.5 C1208.8,1129.0 1211.5,1118.9 1215.7,1109.6 C1220.0,1100.3 1224.5,1086.2 1228.5,1077.7 C1232.5,1069.2 1236.4,1059.6 1239.6,1058.6 C1242.8,1057.5 1244.1,1063.9 1247.6,1071.3 C1251.1,1078.8 1255.6,1095.8 1260.4,1103.2 C1265.1,1110.7 1269.4,1112.3 1276.3,1116.0 C1283.2,1119.7 1294.4,1124.5 1301.8,1125.6 C1309.3,1126.6 1313.5,1123.7 1320.9,1122.4 C1328.4,1121.0 1339.8,1117.6 1346.5,1117.6 C1353.1,1117.6 1358.4,1121.6 1360.8,1122.4" fill="none" stroke="#e8582a" stroke-width="2.4" stroke-linejoin="round"/>
<path d="M987.7,1087.3 C991.7,1087.2 1003.4,1088.0 1011.6,1086.6 C1019.9,1085.3 1029.2,1081.9 1037.1,1079.3 C1045.1,1076.8 1052.5,1074.8 1059.5,1071.3 C1066.4,1067.9 1072.7,1063.9 1078.6,1058.6 C1084.4,1053.3 1090.3,1046.9 1094.5,1039.5 C1098.8,1032.0 1101.5,1023.0 1104.1,1013.9 C1106.6,1004.9 1107.7,986.3 1109.8,985.2 C1112.0,984.2 1114.1,999.6 1116.9,1007.6 C1119.6,1015.5 1122.2,1024.6 1126.4,1033.1 C1130.7,1041.6 1136.5,1052.2 1142.4,1058.6 C1148.2,1065.0 1154.1,1068.4 1161.5,1071.3 C1168.9,1074.3 1180.6,1075.5 1187.0,1076.1 C1193.4,1076.8 1195.0,1076.8 1199.8,1075.2 C1204.5,1073.6 1210.4,1070.4 1215.7,1066.6 C1221.0,1062.7 1227.1,1056.2 1231.7,1052.2 C1236.2,1048.2 1239.6,1043.2 1242.8,1042.6 C1246.0,1042.1 1247.3,1044.2 1250.8,1049.0 C1254.2,1053.8 1258.8,1065.2 1263.5,1071.3 C1268.3,1077.5 1273.6,1082.5 1279.5,1085.7 C1285.3,1088.9 1290.1,1089.9 1298.6,1090.5 C1307.1,1091.0 1320.2,1088.9 1330.5,1088.9 C1340.9,1088.9 1355.8,1090.2 1360.8,1090.5" fill="none" stroke="#2b7a3c" stroke-width="2.4" stroke-linejoin="round"/>
<line x1="927.0" y1="1296.2" x2="950.4" y2="1296.2" stroke="#2b7a3c" stroke-width="3"/>
<text x="955.8" y="1304.1" font-size="22.75" fill="#2b7a3c">ROS1</text>
<line x1="1078.0" y1="1296.2" x2="1101.4" y2="1296.2" stroke="#8ed14e" stroke-width="3"/>
<text x="1101.9" y="1304.1" font-size="26.32">H3K4me3</text>
<line x1="1236.4" y1="1296.2" x2="1259.8" y2="1296.2" stroke="#2244d6" stroke-width="3"/>
<text x="1266.0" y="1304.1" font-size="25.84">H3K9ac</text>
<line x1="927.0" y1="1336.7" x2="950.4" y2="1336.7" stroke="#e8582a" stroke-width="3"/>
<text x="955.8" y="1344.6" font-size="25.22">ATAC-seq</text>
<line x1="1078.0" y1="1336.7" x2="1101.4" y2="1336.7" stroke="#4cb4e6" stroke-width="3"/>
<text x="1107.3" y="1344.6" font-size="25.15">H3K4me1</text>
<line x1="1236.4" y1="1336.7" x2="1259.8" y2="1336.7" stroke="#8b5a3a" stroke-width="3"/>
<text x="1266.0" y="1344.6" font-size="26.68">H3K9me2</text>
<line x1="927.0" y1="1374.3" x2="950.4" y2="1374.3" stroke="#7b2d9e" stroke-width="3"/>
<text x="955.8" y="1382.2" font-size="26.57">H3K27me3</text>
<text x="909.8" y="1471.0" font-size="44" fill="#1a1311" font-weight="bold">h</text>
<text x="1005.2" y="1469.4" font-size="25.59">ROS1-Flag ChIP signal level</text>
<line x1="995.7" y1="1485.4" x2="995.7" y2="1747.5" stroke="#111" stroke-width="1.6"/>
<line x1="995.7" y1="1746.9" x2="1362.4" y2="1746.9" stroke="#111" stroke-width="1.6"/>
<line x1="995.7" y1="1486.3" x2="1000.5" y2="1486.3" stroke="#111" stroke-width="1.4"/>
<text x="984.0" y="1486.3" font-size="24" text-anchor="middle" transform="rotate(-90 984.0 1486.3)">1.5</text>
<line x1="995.7" y1="1541.2" x2="1000.5" y2="1541.2" stroke="#111" stroke-width="1.4"/>
<line x1="995.7" y1="1597.0" x2="1000.5" y2="1597.0" stroke="#111" stroke-width="1.4"/>
<text x="984.0" y="1597.0" font-size="24" text-anchor="middle" transform="rotate(-90 984.0 1597.0)">0.5</text>
<line x1="995.7" y1="1652.2" x2="1000.5" y2="1652.2" stroke="#111" stroke-width="1.4"/>
<line x1="995.7" y1="1707.7" x2="1000.5" y2="1707.7" stroke="#111" stroke-width="1.4"/>
<text x="984.0" y="1707.7" font-size="24" text-anchor="middle" transform="rotate(-90 984.0 1707.7)">-0.5</text>
<line x1="1001.4" y1="1746.9" x2="1001.4" y2="1740.5" stroke="#111" stroke-width="1.4"/>
<line x1="1172.7" y1="1746.9" x2="1172.7" y2="1740.5" stroke="#111" stroke-width="1.4"/>
<line x1="1343.9" y1="1746.9" x2="1343.9" y2="1740.5" stroke="#111" stroke-width="1.4"/>
<text x="981.3" y="1777.5" font-size="25.08">-2 kb</text>
<text x="1104.1" y="1777.5" font-size="25.37">ROS1 summit</text>
<text x="1324.1" y="1777.5" font-size="24.97">2 kb</text>
<text x="940.5" y="1609.0" font-size="25.36" text-anchor="middle" transform="rotate(-90 940.5 1609.0)">ATAC-seq signal</text>
<path d="M1001.4,1710.8 C1005.8,1711.0 1019.5,1712.0 1027.6,1711.8 C1035.6,1711.6 1043.0,1710.4 1049.9,1709.6 C1056.8,1708.8 1062.1,1707.4 1069.0,1707.0 C1075.9,1706.6 1085.0,1706.4 1091.3,1707.0 C1097.7,1707.6 1102.8,1710.0 1107.3,1710.8 C1111.8,1711.6 1114.7,1713.0 1118.4,1711.8 C1122.2,1710.6 1125.1,1711.0 1129.6,1703.8 C1134.1,1696.6 1140.2,1682.0 1145.6,1668.7 C1150.9,1655.5 1157.0,1635.2 1161.5,1624.1 C1166.0,1613.0 1168.9,1601.9 1172.7,1602.4 C1176.4,1602.9 1179.8,1615.2 1183.8,1627.3 C1187.8,1639.4 1192.3,1662.4 1196.6,1675.1 C1200.8,1687.9 1204.0,1696.9 1209.3,1703.8 C1214.6,1710.7 1223.2,1714.7 1228.5,1716.6 C1233.8,1718.4 1236.4,1715.9 1241.2,1715.0 C1246.0,1714.1 1251.3,1712.0 1257.2,1711.2 C1263.0,1710.4 1269.4,1709.9 1276.3,1710.2 C1283.2,1710.5 1287.4,1712.3 1298.6,1712.8 C1309.9,1713.2 1336.4,1712.8 1343.9,1712.8" fill="none" stroke="#7ac943" stroke-width="2.6" stroke-linejoin="round"/>
<path d="M1001.4,1708.6 C1006.8,1708.4 1025.3,1708.4 1033.9,1707.6 C1042.5,1706.9 1046.7,1705.1 1053.1,1703.8 C1059.5,1702.5 1066.4,1700.5 1072.2,1700.0 C1078.1,1699.5 1082.8,1700.0 1088.2,1700.6 C1093.5,1701.3 1099.3,1703.6 1104.1,1703.8 C1108.9,1704.1 1112.6,1704.4 1116.9,1702.2 C1121.1,1700.1 1124.3,1700.9 1129.6,1691.1 C1134.9,1681.2 1143.4,1658.6 1148.7,1643.2 C1154.1,1627.8 1157.5,1609.6 1161.5,1598.6 C1165.5,1587.5 1168.9,1576.9 1172.7,1576.9 C1176.4,1576.9 1179.8,1586.5 1183.8,1598.6 C1187.8,1610.7 1192.3,1634.7 1196.6,1649.6 C1200.8,1664.5 1204.0,1678.3 1209.3,1687.9 C1214.6,1697.4 1221.6,1703.8 1228.5,1707.0 C1235.4,1710.2 1241.8,1707.1 1250.8,1707.0 C1259.8,1706.9 1272.0,1706.2 1282.7,1706.4 C1293.3,1706.5 1304.4,1707.6 1314.6,1708.0 C1324.8,1708.3 1339.0,1708.5 1343.9,1708.6" fill="none" stroke="#f0a830" stroke-width="2.6" stroke-linejoin="round"/>
<path d="M1001.4,1701.6 C1005.8,1701.4 1019.5,1701.3 1027.6,1700.6 C1035.6,1699.9 1043.0,1698.8 1049.9,1697.4 C1056.8,1696.1 1063.2,1693.9 1069.0,1692.7 C1074.9,1691.4 1079.1,1690.2 1085.0,1690.1 C1090.8,1690.0 1098.2,1692.1 1104.1,1692.0 C1109.9,1691.9 1115.3,1692.3 1120.0,1689.5 C1124.8,1686.7 1128.0,1685.5 1132.8,1675.1 C1137.6,1664.8 1144.0,1644.3 1148.7,1627.3 C1153.5,1610.3 1157.5,1586.9 1161.5,1573.1 C1165.5,1559.3 1168.9,1546.0 1172.7,1544.4 C1176.4,1542.8 1179.8,1551.3 1183.8,1563.5 C1187.8,1575.7 1191.8,1600.7 1196.6,1617.7 C1201.4,1634.7 1207.7,1654.4 1212.5,1665.6 C1217.3,1676.7 1220.0,1680.4 1225.3,1684.7 C1230.6,1688.9 1237.5,1689.6 1244.4,1691.1 C1251.3,1692.6 1257.7,1692.4 1266.7,1693.6 C1275.8,1694.8 1285.8,1696.8 1298.6,1698.1 C1311.5,1699.4 1336.4,1700.7 1343.9,1701.3" fill="none" stroke="#4aa8e0" stroke-width="2.6" stroke-linejoin="round"/>
<path d="M1001.4,1685.3 C1004.7,1685.2 1014.2,1685.1 1021.2,1684.7 C1028.2,1684.3 1037.1,1684.2 1043.5,1683.1 C1049.9,1682.0 1054.1,1680.4 1059.5,1678.3 C1064.8,1676.2 1070.6,1672.4 1075.4,1670.3 C1080.2,1668.3 1082.8,1666.8 1088.2,1666.2 C1093.5,1665.6 1102.0,1667.1 1107.3,1666.5 C1112.6,1665.9 1116.3,1665.2 1120.0,1662.4 C1123.8,1659.5 1125.9,1658.1 1129.6,1649.6 C1133.3,1641.1 1138.1,1627.3 1142.4,1611.3 C1146.6,1595.4 1151.4,1569.9 1155.1,1553.9 C1158.8,1538.0 1161.8,1524.8 1164.7,1515.7 C1167.6,1506.5 1170.0,1499.6 1172.7,1499.1 C1175.3,1498.6 1177.7,1503.3 1180.6,1512.5 C1183.6,1521.6 1186.5,1538.5 1190.2,1553.9 C1193.9,1569.4 1198.2,1590.1 1203.0,1605.0 C1207.7,1619.8 1213.6,1634.5 1218.9,1643.2 C1224.2,1652.0 1229.0,1653.9 1234.8,1657.6 C1240.7,1661.3 1247.6,1662.9 1254.0,1665.6 C1260.4,1668.2 1265.7,1670.9 1273.1,1673.5 C1280.6,1676.2 1290.7,1679.4 1298.6,1681.5 C1306.6,1683.6 1313.4,1685.1 1320.9,1686.3 C1328.5,1687.5 1340.1,1688.4 1343.9,1688.8" fill="none" stroke="#c8202a" stroke-width="2.6" stroke-linejoin="round"/>
<line x1="1222.7" y1="1509.3" x2="1242.2" y2="1509.3" stroke="#c8202a" stroke-width="3"/>
<text x="1249.2" y="1519.1" font-size="25.09">75-100%</text>
<line x1="1222.7" y1="1540.5" x2="1242.2" y2="1540.5" stroke="#4aa8e0" stroke-width="3"/>
<text x="1249.2" y="1550.3" font-size="25.14">50-75%</text>
<line x1="1222.7" y1="1571.5" x2="1242.2" y2="1571.5" stroke="#f0a830" stroke-width="3"/>
<text x="1249.2" y="1581.3" font-size="25.14">25-50%</text>
<line x1="1222.7" y1="1602.4" x2="1242.2" y2="1602.4" stroke="#7ac943" stroke-width="3"/>
<text x="1249.2" y="1612.2" font-size="25.16">0-25%</text>
<text x="1388.5" y="930.3" font-size="44" fill="#1a1311" font-weight="bold">j</text>
<text x="1477.5" y="940.6" font-size="25.28">ROS1-Flag</text>
<text x="1651.3" y="940.6" font-size="25.38">ATAC-seq</text>
<svg x="1469.6" y="960.3" width="146.0" height="121.9" overflow="hidden"><g filter="url(#hb4)"><polygon points="-21.9,-3.0 -21.9,30.5 -21.9,61.0 -21.9,91.4 -21.9,124.9 167.9,124.9 167.9,91.4 167.9,61.0 167.9,30.5 167.9,-3.0" fill="url(#vg58)"/><polygon points="62.8,-3.0 62.8,30.5 62.8,61.0 62.8,91.4 62.8,124.9 81.8,124.9 81.8,91.4 81.8,61.0 81.8,30.5 81.8,-3.0" fill="url(#vg59)"/></g><rect width="146.0" height="121.9" filter="url(#streak)" opacity="0.45"/></svg>
<rect x="1469.6" y="960.3" width="146.0" height="121.9" fill="none" stroke="#8a8a8a" stroke-width="1.1"/>
<svg x="1469.6" y="1088.2" width="146.0" height="450.6" overflow="hidden"><g filter="url(#hb4)"><polygon points="-21.9,-3.0 -21.9,112.6 -21.9,225.3 -21.9,337.9 -21.9,453.6 167.9,453.6 167.9,337.9 167.9,225.3 167.9,112.6 167.9,-3.0" fill="url(#vg60)"/><polygon points="54.0,-3.0 58.4,112.6 61.3,225.3 62.8,337.9 65.0,453.6 81.0,453.6 82.5,337.9 84.7,225.3 87.6,112.6 93.4,-3.0" fill="url(#vg61)"/></g><rect width="146.0" height="450.6" filter="url(#streak)" opacity="0.45"/></svg>
<rect x="1469.6" y="1088.2" width="146.0" height="450.6" fill="none" stroke="#8a8a8a" stroke-width="1.1"/>
<svg x="1469.6" y="1548.4" width="146.0" height="88.8" overflow="hidden"><g filter="url(#hb4)"><polygon points="-21.9,-3.0 -21.9,22.2 -21.9,44.4 -21.9,66.6 -21.9,91.8 167.9,91.8 167.9,66.6 167.9,44.4 167.9,22.2 167.9,-3.0" fill="url(#vg62)"/><polygon points="64.2,-3.0 64.2,22.2 64.2,44.4 64.2,66.6 64.2,91.8 81.8,91.8 81.8,66.6 81.8,44.4 81.8,22.2 81.8,-3.0" fill="url(#vg63)"/></g><rect width="146.0" height="88.8" filter="url(#streak)" opacity="0.45"/></svg>
<rect x="1469.6" y="1548.4" width="146.0" height="88.8" fill="none" stroke="#8a8a8a" stroke-width="1.1"/>
<svg x="1637.3" y="960.3" width="146.0" height="121.9" overflow="hidden"><g filter="url(#hb4)"><polygon points="-21.9,-3.0 -21.9,30.5 -21.9,61.0 -21.9,91.4 -21.9,124.9 64.2,124.9 64.2,91.4 64.2,61.0 64.2,30.5 64.2,-3.0" fill="url(#vg64)"/><polygon points="81.8,-3.0 81.8,30.5 81.8,61.0 81.8,91.4 81.8,124.9 167.9,124.9 167.9,91.4 167.9,61.0 167.9,30.5 167.9,-3.0" fill="url(#vg64)"/><polygon points="70.1,-3.0 70.1,30.5 70.1,61.0 70.1,91.4 70.1,124.9 77.4,124.9 77.4,91.4 77.4,61.0 77.4,30.5 77.4,-3.0" fill="url(#vg65)"/></g><rect width="146.0" height="121.9" filter="url(#streak)" opacity="0.45"/></svg>
<rect x="1637.3" y="960.3" width="146.0" height="121.9" fill="none" stroke="#8a8a8a" stroke-width="1.1"/>
<svg x="1637.3" y="1088.2" width="146.0" height="450.6" overflow="hidden"><g filter="url(#hb4)"><polygon points="-21.9,-3.0 -21.9,112.6 -21.9,225.3 -21.9,337.9 -21.9,453.6 167.9,453.6 167.9,337.9 167.9,225.3 167.9,112.6 167.9,-3.0" fill="url(#vg66)"/><polygon points="62.8,-3.0 65.7,112.6 67.2,225.3 67.9,337.9 68.6,453.6 77.4,453.6 77.4,337.9 78.1,225.3 79.6,112.6 82.5,-3.0" fill="url(#vg67)"/></g><rect width="146.0" height="450.6" filter="url(#streak)" opacity="0.45"/></svg>
<rect x="1637.3" y="1088.2" width="146.0" height="450.6" fill="none" stroke="#8a8a8a" stroke-width="1.1"/>
<svg x="1637.3" y="1548.4" width="146.0" height="88.8" overflow="hidden"><g filter="url(#hb4)"><polygon points="-21.9,-3.0 -21.9,22.2 -21.9,44.4 -21.9,66.6 -21.9,91.8 167.9,91.8 167.9,66.6 167.9,44.4 167.9,22.2 167.9,-3.0" fill="url(#vg68)"/><polygon points="67.2,-3.0 67.2,22.2 67.2,44.4 67.2,66.6 67.2,91.8 78.1,91.8 78.1,66.6 78.1,44.4 78.1,22.2 78.1,-3.0" fill="url(#vg43)"/></g><rect width="146.0" height="88.8" filter="url(#streak)" opacity="0.45"/></svg>
<rect x="1637.3" y="1548.4" width="146.0" height="88.8" fill="none" stroke="#8a8a8a" stroke-width="1.1"/>
<text x="1423.5" y="1019.6" font-size="24" text-anchor="middle" transform="rotate(-90 1423.5 1019.6)">ROS1</text>
<text x="1450.5" y="1019.6" font-size="24" text-anchor="middle" transform="rotate(-90 1450.5 1019.6)">unique</text>
<text x="1435.5" y="1303.5" font-size="24" text-anchor="middle" transform="rotate(-90 1435.5 1303.5)">Ovelapped</text>
<text x="1427.4" y="1583.0" font-size="24" text-anchor="middle" transform="rotate(-90 1427.4 1583.0)">ATAC-seq</text>
<text x="1454.5" y="1587.0" font-size="24" text-anchor="middle" transform="rotate(-90 1454.5 1587.0)">unique</text>
<line x1="1470.3" y1="1652.2" x2="1615.2" y2="1652.2" stroke="#111" stroke-width="1.6"/>
<line x1="1471.1" y1="1652.0" x2="1471.1" y2="1656.2" stroke="#111" stroke-width="1.6"/>
<line x1="1542.8" y1="1652.0" x2="1542.8" y2="1656.2" stroke="#111" stroke-width="1.6"/>
<line x1="1614.4" y1="1652.0" x2="1614.4" y2="1656.2" stroke="#111" stroke-width="1.6"/>
<line x1="1637.3" y1="1652.2" x2="1782.6" y2="1652.2" stroke="#111" stroke-width="1.6"/>
<line x1="1638.1" y1="1652.0" x2="1638.1" y2="1656.2" stroke="#111" stroke-width="1.6"/>
<line x1="1709.8" y1="1652.0" x2="1709.8" y2="1656.2" stroke="#111" stroke-width="1.6"/>
<line x1="1781.8" y1="1652.0" x2="1781.8" y2="1656.2" stroke="#111" stroke-width="1.6"/>
<text x="1455.9" y="1679.3" font-size="22.5">-2</text>
<text x="1524.0" y="1679.3" font-size="22.5" text-anchor="middle">0</text>
<text x="1579.5" y="1679.3" font-size="22.5" text-anchor="middle">2</text>
<text x="1470.3" y="1709.6" font-size="21.7">Distance to</text>
<text x="1433.5" y="1735.9" font-size="21.84">ROS1 summit (kb)</text>
<rect x="1647.4" y="1689.3" width="111.4" height="9.7" fill="url(#cbj)" stroke="#888" stroke-width="0.8"/>
<text x="1641.8" y="1700.9" font-size="22.5" text-anchor="end">0</text>
<text x="1764.0" y="1700.9" font-size="22.5">14</text>
<text x="1626.8" y="1735.9" font-size="21.72">Normalized CPM</text>
<text x="0.5" y="1839.8" font-size="44" fill="#1a1311" font-weight="bold">i</text>
<ellipse cx="867.5" cy="1953.1" rx="102.9" ry="97.6" fill="none" stroke="#2b6a35" stroke-width="2"/>
<ellipse cx="895.3" cy="1953.1" rx="100.8" ry="95.7" fill="none" stroke="#e8582a" stroke-width="2"/>
<text x="735.9" y="1824.9" font-size="25.35" fill="#2b7a3c">ROS1 peak</text>
<text x="753.0" y="1852.8" font-size="25.18" fill="#2b7a3c">(25,636)</text>
<text x="908.0" y="1824.9" font-size="25.46" fill="#e8582a">ATAC-seq</text>
<text x="916.9" y="1852.8" font-size="25.37" fill="#e8582a">(24,226)</text>
<text x="804.0" y="1942.4" font-size="25.61" fill="#2b7a3c">20,172 (79%)</text>
<text x="804.0" y="1974.1" font-size="25.61" fill="#e8582a">20,259 (84%)</text>
<text x="711.0" y="2015.1" font-size="25.19" fill="#2b7a3c">5,464</text>
<text x="706.4" y="2043.0" font-size="24.94" fill="#2b7a3c">(21%)</text>
<text x="988.4" y="2015.1" font-size="25.23" fill="#e8582a">6,013</text>
<text x="983.8" y="2043.0" font-size="25.39" fill="#e8582a">(16%)</text>
<line x1="772.2" y1="2020.0" x2="789.4" y2="2000.9" stroke="#111" stroke-width="1.6"/>
<line x1="971.2" y1="2000.9" x2="984.6" y2="2020.0" stroke="#111" stroke-width="1.6"/>
<line x1="701.4" y1="2016.2" x2="461.2" y2="2117.2" stroke="#111" stroke-width="1.6" stroke-dasharray="8,6"/>
<polyline points="473.2,2117.8 461.2,2117.2" fill="none" stroke="#111" stroke-width="1.6"/>
<polyline points="469.1,2108.2 461.2,2117.2" fill="none" stroke="#111" stroke-width="1.6"/>
<line x1="891.6" y1="2004.7" x2="891.6" y2="2119.5" stroke="#111" stroke-width="1.6" stroke-dasharray="8,6"/>
<polyline points="896.8,2108.7 891.6,2119.5" fill="none" stroke="#111" stroke-width="1.6"/>
<polyline points="886.4,2108.7 891.6,2119.5" fill="none" stroke="#111" stroke-width="1.6"/>
<line x1="1061.5" y1="2013.6" x2="1338.9" y2="2118.8" stroke="#111" stroke-width="1.6" stroke-dasharray="8,6"/>
<polyline points="1330.6,2110.1 1338.9,2118.8" fill="none" stroke="#111" stroke-width="1.6"/>
<polyline points="1326.9,2119.8 1338.9,2118.8" fill="none" stroke="#111" stroke-width="1.6"/>
<text x="304.3" y="2145.1" font-size="25.48">ROS1 unique</text>
<text x="829.6" y="2144.4" font-size="25.34">Ovelapped</text>
<text x="1348.5" y="2144.8" font-size="25.59">ATAC-seq unique</text>
<line x1="1430.0" y1="2048.0" x2="1450.0" y2="2048.0" stroke="#2b7a3c" stroke-width="3"/>
<line x1="1430.0" y1="2079.8" x2="1450.0" y2="2079.8" stroke="#e8582a" stroke-width="3"/>
<text x="1460.3" y="2057.6" font-size="25.34">ROS1-Flag</text>
<text x="1460.3" y="2089.4" font-size="25.08">ATAC-seq</text>
<line x1="219.1" y1="2149.2" x2="219.1" y2="2349.9" stroke="#111" stroke-width="1.6"/>
<line x1="219.1" y1="2349.4" x2="531.7" y2="2349.4" stroke="#111" stroke-width="1.6"/>
<line x1="219.1" y1="2191.1" x2="225.6" y2="2191.1" stroke="#111" stroke-width="1.4"/>
<text x="210.1" y="2193.1" font-size="24" text-anchor="middle" transform="rotate(-90 210.1 2193.1)">1</text>
<line x1="219.1" y1="2266.3" x2="225.6" y2="2266.3" stroke="#111" stroke-width="1.4"/>
<text x="210.1" y="2268.3" font-size="24" text-anchor="middle" transform="rotate(-90 210.1 2268.3)">0</text>
<line x1="219.1" y1="2341.1" x2="225.6" y2="2341.1" stroke="#111" stroke-width="1.4"/>
<text x="210.1" y="2343.1" font-size="24" text-anchor="middle" transform="rotate(-90 210.1 2343.1)">-1</text>
<line x1="228.7" y1="2349.4" x2="228.7" y2="2341.4" stroke="#111" stroke-width="1.4"/>
<line x1="374.9" y1="2349.4" x2="374.9" y2="2341.4" stroke="#111" stroke-width="1.4"/>
<line x1="520.7" y1="2349.4" x2="520.7" y2="2341.4" stroke="#111" stroke-width="1.4"/>
<text x="174.5" y="2264.3" font-size="25.19" text-anchor="middle" transform="rotate(-90 174.5 2264.3)">Read density</text>
<text x="198.6" y="2379.8" font-size="25.26">-2 kb</text>
<text x="301.4" y="2379.8" font-size="25.19">ROS1 summit</text>
<text x="501.5" y="2379.8" font-size="25.4">2 kb</text>
<path d="M228.7,2289.6 C232.8,2289.6 246.1,2289.9 253.4,2289.6 C260.7,2289.3 265.7,2288.7 272.6,2287.7 C279.4,2286.7 288.6,2283.6 294.5,2283.6 C300.5,2283.6 303.7,2285.4 308.2,2287.7 C312.8,2289.9 316.9,2294.4 321.9,2297.3 C327.0,2300.1 334.3,2303.6 338.4,2304.9 C342.5,2306.3 343.0,2307.2 346.6,2305.5 C350.3,2303.8 356.4,2299.5 360.3,2294.5 C364.2,2289.5 367.5,2279.2 369.9,2275.3 C372.3,2271.4 373.3,2271.2 374.9,2271.2 C376.5,2271.2 377.4,2271.4 379.5,2275.3 C381.7,2279.2 384.5,2289.5 387.7,2294.5 C390.9,2299.5 395.5,2303.2 398.7,2305.5 C401.9,2307.8 403.3,2308.5 406.9,2308.2 C410.6,2308.0 415.6,2306.4 420.7,2304.1 C425.7,2301.8 431.6,2297.0 437.1,2294.5 C442.6,2292.0 447.2,2290.0 453.6,2289.0 C460.0,2288.0 467.7,2288.4 475.5,2288.5 C483.3,2288.6 492.6,2289.4 500.2,2289.6 C507.7,2289.8 517.3,2289.8 520.7,2289.9" fill="none" stroke="#e8582a" stroke-width="2.6" stroke-linejoin="round"/>
<path d="M228.7,2254.8 C232.4,2254.5 243.3,2254.5 250.6,2253.4 C258.0,2252.2 264.8,2249.6 272.6,2247.9 C280.4,2246.2 289.9,2243.2 297.3,2243.0 C304.6,2242.7 310.5,2245.3 316.5,2246.5 C322.4,2247.8 328.3,2250.9 332.9,2250.6 C337.5,2250.4 339.8,2250.2 343.9,2245.2 C348.0,2240.1 353.5,2228.0 357.6,2220.5 C361.7,2212.9 365.7,2203.9 368.6,2199.9 C371.4,2195.9 372.6,2196.1 374.9,2196.4 C377.1,2196.6 379.2,2196.4 382.3,2201.3 C385.3,2206.2 389.6,2218.2 393.2,2226.0 C396.9,2233.7 400.1,2242.7 404.2,2247.9 C408.3,2253.1 413.3,2256.0 417.9,2257.0 C422.5,2257.9 425.7,2254.4 431.6,2253.4 C437.6,2252.3 446.2,2250.6 453.6,2250.6 C460.9,2250.6 467.7,2252.4 475.5,2253.4 C483.3,2254.4 492.6,2256.0 500.2,2256.7 C507.7,2257.4 517.3,2257.4 520.7,2257.5" fill="none" stroke="#2b6a35" stroke-width="2.6" stroke-linejoin="round"/>
<line x1="744.6" y1="2149.1" x2="744.6" y2="2349.9" stroke="#111" stroke-width="1.6"/>
<line x1="744.6" y1="2349.4" x2="1056.9" y2="2349.4" stroke="#111" stroke-width="1.6"/>
<line x1="744.6" y1="2191.2" x2="751.1" y2="2191.2" stroke="#111" stroke-width="1.4"/>
<text x="735.6" y="2193.2" font-size="24" text-anchor="middle" transform="rotate(-90 735.6 2193.2)">1</text>
<line x1="744.6" y1="2266.7" x2="751.1" y2="2266.7" stroke="#111" stroke-width="1.4"/>
<text x="735.6" y="2268.7" font-size="24" text-anchor="middle" transform="rotate(-90 735.6 2268.7)">0</text>
<line x1="744.6" y1="2341.0" x2="751.1" y2="2341.0" stroke="#111" stroke-width="1.4"/>
<text x="735.6" y="2343.0" font-size="24" text-anchor="middle" transform="rotate(-90 735.6 2343.0)">-1</text>
<line x1="754.4" y1="2349.4" x2="754.4" y2="2341.4" stroke="#111" stroke-width="1.4"/>
<line x1="899.7" y1="2349.4" x2="899.7" y2="2341.4" stroke="#111" stroke-width="1.4"/>
<line x1="1045.6" y1="2349.4" x2="1045.6" y2="2341.4" stroke="#111" stroke-width="1.4"/>
<text x="695.7" y="2253.5" font-size="25.19" text-anchor="middle" transform="rotate(-90 695.7 2253.5)">Read density</text>
<text x="724.4" y="2379.8" font-size="24.54">-2 kb</text>
<text x="826.2" y="2379.8" font-size="25.33">ROS1 summit</text>
<text x="1027.4" y="2379.8" font-size="24.5">2 kb</text>
<path d="M753.8,2301.2 C757.6,2301.2 769.3,2301.6 776.3,2301.2 C783.3,2300.7 788.9,2299.5 795.9,2298.4 C802.9,2297.2 812.3,2295.1 818.4,2294.2 C824.4,2293.2 827.2,2293.2 832.4,2292.7 C837.5,2292.3 844.5,2293.2 849.2,2291.3 C853.9,2289.5 856.2,2288.3 860.5,2281.5 C864.7,2274.7 870.3,2261.9 874.5,2250.7 C878.7,2239.4 882.4,2224.9 885.7,2214.2 C889.0,2203.4 891.8,2191.5 894.1,2186.1 C896.5,2180.7 897.9,2181.4 899.7,2181.9 C901.6,2182.4 902.5,2181.2 905.3,2188.9 C908.2,2196.6 912.4,2215.6 916.6,2228.2 C920.8,2240.8 925.9,2254.9 930.6,2264.7 C935.3,2274.5 940.0,2282.5 944.6,2287.1 C949.3,2291.8 952.6,2291.3 958.7,2292.7 C964.7,2294.2 973.6,2294.4 981.1,2295.6 C988.6,2296.7 996.1,2298.7 1003.6,2299.8 C1011.0,2300.8 1018.9,2301.4 1026.0,2301.7 C1033.1,2302.1 1042.8,2302.0 1046.2,2302.0" fill="none" stroke="#e8582a" stroke-width="2.6" stroke-linejoin="round"/>
<path d="M753.8,2273.1 C757.6,2272.6 769.3,2271.2 776.3,2270.3 C783.3,2269.4 788.9,2269.1 795.9,2267.5 C802.9,2265.9 812.3,2262.3 818.4,2260.5 C824.4,2258.7 827.7,2258.5 832.4,2256.8 C837.1,2255.2 841.7,2254.0 846.4,2250.7 C851.1,2247.3 855.8,2243.6 860.5,2236.6 C865.1,2229.6 869.8,2219.3 874.5,2208.6 C879.2,2197.8 884.2,2180.7 888.5,2172.1 C892.8,2163.4 896.6,2157.6 900.3,2156.7 C904.0,2155.7 906.8,2158.8 911.0,2166.5 C915.1,2174.2 920.3,2191.7 925.0,2203.0 C929.7,2214.2 934.3,2225.9 939.0,2233.8 C943.7,2241.8 947.4,2246.4 953.0,2250.7 C958.7,2254.9 964.7,2256.3 972.7,2259.1 C980.6,2261.9 991.9,2265.4 1000.8,2267.5 C1009.6,2269.6 1018.4,2270.7 1026.0,2271.7 C1033.6,2272.7 1042.8,2273.3 1046.2,2273.7" fill="none" stroke="#2b6a35" stroke-width="2.6" stroke-linejoin="round"/>
<line x1="1288.0" y1="2149.1" x2="1288.0" y2="2350.0" stroke="#111" stroke-width="1.6"/>
<line x1="1288.0" y1="2349.5" x2="1601.0" y2="2349.5" stroke="#111" stroke-width="1.6"/>
<line x1="1288.0" y1="2191.6" x2="1294.5" y2="2191.6" stroke="#111" stroke-width="1.4"/>
<text x="1279.0" y="2193.6" font-size="24" text-anchor="middle" transform="rotate(-90 1279.0 2193.6)">1</text>
<line x1="1288.0" y1="2266.4" x2="1294.5" y2="2266.4" stroke="#111" stroke-width="1.4"/>
<text x="1279.0" y="2268.4" font-size="24" text-anchor="middle" transform="rotate(-90 1279.0 2268.4)">0</text>
<line x1="1288.0" y1="2341.2" x2="1294.5" y2="2341.2" stroke="#111" stroke-width="1.4"/>
<text x="1279.0" y="2343.2" font-size="24" text-anchor="middle" transform="rotate(-90 1279.0 2343.2)">-1</text>
<line x1="1297.9" y1="2349.5" x2="1297.9" y2="2341.5" stroke="#111" stroke-width="1.4"/>
<line x1="1444.0" y1="2349.5" x2="1444.0" y2="2341.5" stroke="#111" stroke-width="1.4"/>
<line x1="1589.9" y1="2349.5" x2="1589.9" y2="2341.5" stroke="#111" stroke-width="1.4"/>
<text x="1241.0" y="2265.0" font-size="25.19" text-anchor="middle" transform="rotate(-90 1241.0 2265.0)">Read density</text>
<text x="1268.0" y="2379.8" font-size="25.08">-2 kb</text>
<text x="1349.6" y="2379.8" font-size="25.49">ATAC-seq summit</text>
<text x="1570.2" y="2379.8" font-size="25.13">2 kb</text>
<path d="M1297.4,2312.5 C1302.2,2313.1 1316.9,2315.4 1326.7,2316.3 C1336.5,2317.2 1346.3,2317.6 1356.0,2317.8 C1365.8,2317.9 1376.6,2317.7 1385.4,2317.2 C1394.2,2316.7 1403.2,2317.2 1408.9,2314.8 C1414.5,2312.5 1415.9,2312.4 1419.1,2303.1 C1422.3,2293.8 1425.2,2274.7 1427.9,2259.1 C1430.6,2243.4 1433.3,2221.4 1435.3,2209.2 C1437.2,2197.0 1438.3,2191.6 1439.7,2185.7 C1441.0,2179.9 1442.2,2174.0 1443.5,2174.0 C1444.8,2174.0 1446.0,2177.4 1447.6,2185.7 C1449.1,2194.1 1450.8,2210.2 1452.9,2223.9 C1455.0,2237.6 1457.8,2255.2 1460.2,2267.9 C1462.6,2280.6 1465.3,2292.7 1467.5,2300.2 C1469.7,2307.6 1470.0,2309.7 1473.4,2312.5 C1476.8,2315.3 1480.7,2316.2 1488.1,2317.2 C1495.4,2318.2 1507.6,2318.3 1517.4,2318.7 C1527.2,2319.0 1537.0,2319.8 1546.8,2319.2 C1556.5,2318.7 1568.8,2316.3 1576.1,2315.4 C1583.4,2314.6 1588.3,2314.5 1590.8,2314.3" fill="none" stroke="#e8582a" stroke-width="2.6" stroke-linejoin="round"/>
<path d="M1297.4,2303.1 C1302.2,2303.8 1316.9,2306.4 1326.7,2307.5 C1336.5,2308.6 1347.2,2309.3 1356.0,2309.6 C1364.8,2309.8 1372.7,2309.7 1379.5,2309.0 C1386.4,2308.3 1391.7,2307.4 1397.1,2305.5 C1402.5,2303.5 1407.4,2301.1 1411.8,2297.2 C1416.2,2293.4 1419.6,2288.9 1423.5,2282.6 C1427.4,2276.2 1431.8,2265.1 1435.3,2259.1 C1438.7,2253.1 1441.1,2247.3 1444.1,2246.8 C1447.0,2246.3 1449.9,2251.2 1452.9,2256.2 C1455.8,2261.1 1458.2,2270.3 1461.7,2276.7 C1465.1,2283.1 1468.5,2289.4 1473.4,2294.3 C1478.3,2299.2 1484.6,2303.4 1491.0,2306.0 C1497.4,2308.6 1504.7,2309.0 1511.5,2309.9 C1518.4,2310.7 1524.7,2311.6 1532.1,2311.3 C1539.4,2311.1 1545.8,2309.7 1555.6,2308.4 C1565.3,2307.1 1584.9,2304.5 1590.8,2303.7" fill="none" stroke="#2b6a35" stroke-width="2.6" stroke-linejoin="round"/>
<text x="0.5" y="2440.8" font-size="44" fill="#1a1311" font-weight="bold">k</text>
<rect x="268.1" y="2442.5" width="365.4" height="269.5" fill="#f9f9f9"/>
<rect x="660.2" y="2442.5" width="366.2" height="269.5" fill="#f9f9f9"/>
<rect x="1048.6" y="2442.5" width="366.9" height="269.5" fill="#f9f9f9"/>
<text x="322.0" y="2432.8" font-size="22.05">Chr2:19,488,000-19,503,500</text>
<text x="713.7" y="2432.8" font-size="21.81">Chr2:16,826,500-16,838,000</text>
<text x="1120.7" y="2432.8" font-size="21.92">Chr2:318,000-336,000</text>
<path d="M268.1,2512.4V2510.4h1V2510.5h1V2510.5h1V2510.6h1V2510.6h1V2510.7h1V2510.6h1V2510.6h1V2510.6h1V2510.5h1V2510.5h1V2510.6h1V2510.8h1V2510.8h1V2510.8h1V2510.7h1V2510.7h1V2510.6h1V2510.5h1V2510.2h1V2510.1h1V2510.0h1V2510.0h1V2509.6h1V2509.4h1V2508.9h1V2508.2h1V2507.5h1V2506.4h1V2505.3h1V2503.9h1V2502.6h1V2501.2h1V2499.0h1V2494.4h1V2486.4h1V2475.7h1V2464.6h1V2457.7h1V2460.2h1V2470.8h1V2485.2h1V2496.6h1V2503.9h1V2507.7h1V2509.4h1V2509.9h1V2510.4h1V2510.4h1V2510.4h1V2510.4h1V2510.4h1V2510.3h1V2510.5h1V2510.4h1V2510.3h1V2510.2h1V2510.3h1V2510.4h1V2510.4h1V2510.3h1V2510.4h1V2510.4h1V2510.4h1V2510.4h1V2510.3h1V2510.0h1V2509.9h1V2509.6h1V2509.2h1V2509.0h1V2508.3h1V2507.6h1V2506.6h1V2504.5h1V2500.6h1V2494.7h1V2486.9h1V2480.0h1V2477.5h1V2480.4h1V2487.6h1V2496.2h1V2502.7h1V2506.3h1V2508.4h1V2509.3h1V2509.8h1V2510.0h1V2510.1h1V2510.2h1V2510.3h1V2510.4h1V2510.5h1V2510.5h1V2510.5h1V2510.7h1V2510.7h1V2510.7h1V2510.8h1V2510.9h1V2511.0h1V2511.0h1V2510.8h1V2510.8h1V2510.8h1V2510.7h1V2510.7h1V2510.7h1V2510.6h1V2510.4h1V2509.5h1V2507.5h1V2504.2h1V2500.3h1V2498.7h1V2500.4h1V2504.3h1V2507.7h1V2509.6h1V2510.2h1V2510.5h1V2510.4h1V2510.5h1V2510.6h1V2510.7h1V2510.7h1V2510.6h1V2510.4h1V2510.5h1V2510.5h1V2510.6h1V2510.6h1V2510.7h1V2510.8h1V2510.7h1V2510.7h1V2510.6h1V2510.5h1V2510.5h1V2510.5h1V2510.4h1V2510.6h1V2510.6h1V2510.6h1V2510.6h1V2510.6h1V2510.5h1V2510.7h1V2510.6h1V2510.7h1V2510.6h1V2510.6h1V2510.5h1V2510.7h1V2510.6h1V2510.8h1V2510.6h1V2510.7h1V2510.8h1V2510.7h1V2510.7h1V2510.6h1V2510.7h1V2510.7h1V2510.6h1V2510.6h1V2510.8h1V2510.6h1V2510.7h1V2510.6h1V2510.6h1V2510.6h1V2510.6h1V2510.6h1V2510.5h1V2510.7h1V2510.7h1V2510.7h1V2510.8h1V2510.8h1V2511.0h1V2511.0h1V2510.9h1V2510.9h1V2510.9h1V2510.7h1V2510.7h1V2510.6h1V2510.6h1V2510.6h1V2510.4h1V2510.5h1V2510.5h1V2510.5h1V2510.6h1V2510.6h1V2510.4h1V2510.5h1V2510.6h1V2510.5h1V2510.4h1V2510.5h1V2510.4h1V2510.5h1V2510.3h1V2510.5h1V2510.7h1V2510.8h1V2510.7h1V2510.9h1V2510.9h1V2510.8h1V2510.7h1V2510.7h1V2510.8h1V2510.8h1V2510.7h1V2510.6h1V2510.7h1V2510.6h1V2510.6h1V2510.5h1V2510.4h1V2510.5h1V2510.5h1V2510.5h1V2510.3h1V2510.1h1V2510.0h1V2509.9h1V2509.6h1V2509.1h1V2508.8h1V2508.3h1V2507.9h1V2507.1h1V2506.4h1V2506.2h1V2505.4h1V2504.6h1V2503.1h1V2501.4h1V2499.5h1V2498.2h1V2497.8h1V2498.1h1V2499.8h1V2502.5h1V2504.8h1V2507.1h1V2508.7h1V2509.6h1V2510.2h1V2510.5h1V2510.5h1V2510.5h1V2510.5h1V2510.7h1V2510.5h1V2510.7h1V2510.5h1V2510.7h1V2510.7h1V2510.6h1V2510.8h1V2510.9h1V2510.8h1V2511.0h1V2510.7h1V2510.7h1V2510.7h1V2510.7h1V2510.7h1V2510.6h1V2510.6h1V2510.6h1V2510.9h1V2510.8h1V2510.8h1V2510.6h1V2510.8h1V2510.6h1V2510.8h1V2510.6h1V2510.7h1V2510.6h1V2510.8h1V2510.7h1V2510.6h1V2510.6h1V2510.6h1V2510.4h1V2510.6h1V2510.5h1V2510.4h1V2510.5h1V2510.6h1V2510.5h1V2510.7h1V2510.5h1V2510.5h1V2510.6h1V2510.5h1V2510.5h1V2510.5h1V2510.5h1V2510.7h1V2510.7h1V2510.7h1V2511.0h1V2511.0h1V2510.7h1V2510.7h1V2510.7h1V2510.5h1V2510.5h1V2510.4h1V2510.3h1V2510.4h1V2510.6h1V2510.3h1V2510.4h1V2510.1h1V2510.0h1V2509.8h1V2509.5h1V2508.9h1V2508.5h1V2507.9h1V2506.8h1V2505.8h1V2504.7h1V2503.2h1V2501.9h1V2500.0h1V2496.2h1V2491.3h1V2484.0h1V2475.3h1V2468.6h1V2464.5h1V2465.1h1V2472.2h1V2483.0h1V2493.0h1V2500.3h1V2505.4h1V2508.3h1V2509.7h1V2510.3h1V2510.4h1V2510.6h1V2510.7h1V2510.6h1V2510.4h1V2510.4h1V2510.5h1V2510.4h1V2510.5h1V2510.4h1V2510.5h1V2510.4h1V2510.5h1V2510.4h1V2510.5h1V2512.4Z" fill="#ec5f22"/>
<line x1="268.1" y1="2512.1" x2="634.1" y2="2512.1" stroke="#d85020" stroke-width="1.4"/>
<path d="M268.1,2606.0V2601.7h1V2601.8h1V2601.7h1V2601.9h1V2601.6h1V2601.9h1V2601.6h1V2601.3h1V2601.2h1V2600.8h1V2600.3h1V2600.0h1V2599.7h1V2599.6h1V2599.4h1V2598.9h1V2598.9h1V2598.8h1V2598.7h1V2598.5h1V2598.2h1V2597.9h1V2597.7h1V2597.6h1V2597.7h1V2597.1h1V2596.6h1V2596.2h1V2595.9h1V2595.2h1V2594.0h1V2592.2h1V2590.5h1V2588.8h1V2586.8h1V2584.1h1V2582.6h1V2580.5h1V2580.8h1V2580.5h1V2581.9h1V2583.5h1V2585.6h1V2587.4h1V2590.1h1V2591.6h1V2593.5h1V2594.5h1V2595.9h1V2597.1h1V2597.9h1V2598.2h1V2598.6h1V2598.9h1V2599.4h1V2599.3h1V2599.6h1V2599.4h1V2599.2h1V2598.9h1V2598.9h1V2598.6h1V2599.0h1V2598.8h1V2598.6h1V2598.6h1V2598.8h1V2598.5h1V2597.8h1V2596.7h1V2595.5h1V2593.3h1V2590.8h1V2587.9h1V2582.8h1V2579.0h1V2573.8h1V2569.9h1V2568.1h1V2565.9h1V2564.8h1V2568.2h1V2572.6h1V2577.8h1V2582.4h1V2587.4h1V2591.3h1V2594.7h1V2597.3h1V2598.5h1V2599.2h1V2599.7h1V2599.9h1V2600.4h1V2600.5h1V2600.3h1V2600.5h1V2600.2h1V2600.7h1V2600.8h1V2600.6h1V2600.6h1V2600.6h1V2600.4h1V2600.9h1V2600.4h1V2600.1h1V2599.8h1V2598.9h1V2596.9h1V2594.5h1V2591.6h1V2588.8h1V2585.6h1V2583.3h1V2582.2h1V2583.7h1V2586.1h1V2588.7h1V2592.6h1V2595.2h1V2597.4h1V2599.3h1V2599.8h1V2600.7h1V2600.8h1V2600.7h1V2600.7h1V2601.0h1V2601.0h1V2601.3h1V2601.4h1V2601.2h1V2601.5h1V2601.6h1V2601.4h1V2601.2h1V2601.4h1V2601.1h1V2601.0h1V2600.9h1V2601.1h1V2601.0h1V2601.2h1V2601.1h1V2601.2h1V2601.1h1V2600.9h1V2600.6h1V2600.6h1V2600.2h1V2600.2h1V2600.0h1V2600.2h1V2600.4h1V2600.4h1V2600.5h1V2600.7h1V2600.1h1V2600.3h1V2600.4h1V2600.0h1V2599.9h1V2600.0h1V2600.0h1V2600.1h1V2600.3h1V2600.3h1V2600.1h1V2600.3h1V2600.1h1V2599.7h1V2599.7h1V2599.6h1V2600.0h1V2599.9h1V2599.4h1V2599.2h1V2599.4h1V2599.4h1V2599.0h1V2599.2h1V2599.2h1V2599.3h1V2599.4h1V2599.5h1V2599.4h1V2599.4h1V2599.3h1V2599.5h1V2599.5h1V2599.3h1V2599.2h1V2599.5h1V2599.7h1V2599.7h1V2599.6h1V2599.9h1V2599.8h1V2599.8h1V2599.9h1V2599.5h1V2599.5h1V2599.8h1V2599.7h1V2600.1h1V2600.2h1V2600.3h1V2600.1h1V2600.4h1V2600.0h1V2600.0h1V2600.0h1V2599.9h1V2600.2h1V2600.3h1V2600.6h1V2600.3h1V2600.5h1V2600.9h1V2601.0h1V2601.1h1V2601.0h1V2601.1h1V2601.1h1V2601.0h1V2600.7h1V2600.9h1V2601.1h1V2601.3h1V2601.6h1V2601.5h1V2601.3h1V2601.3h1V2601.3h1V2600.8h1V2600.7h1V2600.5h1V2600.4h1V2599.9h1V2599.0h1V2597.8h1V2596.1h1V2593.6h1V2590.9h1V2587.9h1V2585.6h1V2582.9h1V2582.2h1V2581.2h1V2581.8h1V2583.4h1V2585.6h1V2588.2h1V2591.8h1V2594.2h1V2596.7h1V2598.4h1V2599.6h1V2600.4h1V2600.8h1V2600.6h1V2600.6h1V2600.7h1V2600.5h1V2600.5h1V2600.6h1V2600.5h1V2600.7h1V2600.5h1V2600.4h1V2600.3h1V2600.3h1V2600.0h1V2600.0h1V2600.0h1V2599.8h1V2599.7h1V2599.7h1V2599.6h1V2599.6h1V2599.5h1V2599.6h1V2599.8h1V2599.4h1V2599.5h1V2599.7h1V2599.8h1V2600.0h1V2599.9h1V2600.2h1V2600.0h1V2599.8h1V2599.9h1V2599.9h1V2599.8h1V2599.7h1V2599.6h1V2600.0h1V2600.1h1V2600.0h1V2599.6h1V2600.3h1V2599.7h1V2600.2h1V2600.0h1V2600.2h1V2600.6h1V2600.2h1V2600.4h1V2600.5h1V2600.3h1V2600.4h1V2600.0h1V2600.0h1V2599.9h1V2599.6h1V2599.5h1V2599.8h1V2600.3h1V2600.4h1V2600.5h1V2600.4h1V2600.8h1V2601.0h1V2600.9h1V2600.9h1V2600.9h1V2600.9h1V2601.0h1V2600.8h1V2600.7h1V2600.8h1V2600.6h1V2600.1h1V2599.5h1V2598.1h1V2596.6h1V2594.4h1V2591.6h1V2588.3h1V2583.7h1V2579.9h1V2577.8h1V2575.7h1V2576.0h1V2577.0h1V2579.4h1V2583.3h1V2587.4h1V2591.5h1V2595.0h1V2597.1h1V2599.1h1V2600.1h1V2600.9h1V2601.3h1V2601.6h1V2601.5h1V2601.7h1V2601.7h1V2601.5h1V2601.9h1V2602.1h1V2601.7h1V2601.6h1V2606.0Z" fill="#2d7a36"/>
<line x1="268.1" y1="2605.7" x2="634.1" y2="2605.7" stroke="#2a6030" stroke-width="1.4"/>
<path d="M268.1,2709.5V2702.1h1.5V2702.9h1.5V2703.1h1.5V2702.4h1.5V2702.5h1.5V2703.7h1.5V2703.4h1.5V2703.5h1.5V2702.8h1.5V2702.5h1.5V2702.1h1.5V2702.0h1.5V2701.5h1.5V2701.0h1.5V2701.4h1.5V2700.8h1.5V2701.2h1.5V2701.5h1.5V2701.7h1.5V2701.3h1.5V2702.0h1.5V2702.0h1.5V2702.0h1.5V2702.0h1.5V2701.1h1.5V2700.3h1.5V2700.7h1.5V2700.8h1.5V2700.5h1.5V2700.4h1.5V2701.0h1.5V2701.1h1.5V2701.2h1.5V2701.9h1.5V2701.2h1.5V2702.0h1.5V2701.6h1.5V2701.8h1.5V2702.3h1.5V2701.8h1.5V2701.3h1.5V2701.4h1.5V2702.4h1.5V2702.9h1.5V2702.1h1.5V2702.0h1.5V2702.6h1.5V2701.5h1.5V2701.1h1.5V2701.7h1.5V2700.8h1.5V2701.5h1.5V2701.7h1.5V2701.9h1.5V2702.8h1.5V2702.6h1.5V2703.3h1.5V2703.3h1.5V2702.4h1.5V2702.1h1.5V2702.6h1.5V2702.1h1.5V2701.6h1.5V2701.4h1.5V2700.9h1.5V2701.8h1.5V2702.0h1.5V2701.2h1.5V2701.8h1.5V2701.9h1.5V2701.8h1.5V2703.2h1.5V2701.6h1.5V2701.8h1.5V2702.4h1.5V2702.2h1.5V2702.4h1.5V2703.3h1.5V2703.7h1.5V2704.6h1.5V2704.6h1.5V2704.0h1.5V2703.2h1.5V2703.7h1.5V2702.8h1.5V2702.6h1.5V2702.8h1.5V2702.1h1.5V2702.5h1.5V2702.7h1.5V2702.2h1.5V2702.6h1.5V2703.0h1.5V2702.8h1.5V2703.3h1.5V2703.3h1.5V2703.2h1.5V2702.7h1.5V2702.2h1.5V2702.6h1.5V2702.9h1.5V2703.4h1.5V2703.1h1.5V2703.2h1.5V2703.1h1.5V2702.1h1.5V2701.5h1.5V2701.0h1.5V2701.0h1.5V2701.4h1.5V2701.3h1.5V2701.8h1.5V2701.6h1.5V2702.1h1.5V2702.6h1.5V2702.0h1.5V2701.8h1.5V2702.4h1.5V2702.1h1.5V2702.7h1.5V2702.2h1.5V2702.3h1.5V2703.1h1.5V2703.4h1.5V2702.8h1.5V2702.1h1.5V2702.4h1.5V2703.1h1.5V2703.6h1.5V2703.8h1.5V2703.9h1.5V2703.1h1.5V2703.7h1.5V2703.5h1.5V2703.9h1.5V2703.0h1.5V2703.2h1.5V2702.0h1.5V2702.5h1.5V2702.7h1.5V2702.6h1.5V2703.0h1.5V2702.8h1.5V2703.3h1.5V2703.2h1.5V2703.5h1.5V2703.6h1.5V2704.1h1.5V2703.3h1.5V2703.9h1.5V2703.3h1.5V2703.4h1.5V2702.7h1.5V2703.2h1.5V2702.7h1.5V2702.5h1.5V2701.7h1.5V2701.2h1.5V2701.8h1.5V2702.4h1.5V2701.9h1.5V2701.8h1.5V2701.5h1.5V2702.3h1.5V2703.5h1.5V2703.4h1.5V2702.7h1.5V2702.8h1.5V2702.9h1.5V2703.1h1.5V2702.3h1.5V2701.6h1.5V2702.3h1.5V2702.4h1.5V2702.0h1.5V2701.9h1.5V2701.9h1.5V2701.5h1.5V2702.1h1.5V2700.9h1.5V2701.2h1.5V2701.9h1.5V2701.6h1.5V2702.4h1.5V2701.7h1.5V2701.1h1.5V2702.0h1.5V2701.3h1.5V2700.7h1.5V2701.0h1.5V2700.4h1.5V2700.8h1.5V2700.4h1.5V2700.5h1.5V2700.8h1.5V2701.0h1.5V2701.0h1.5V2700.9h1.5V2700.8h1.5V2702.0h1.5V2701.4h1.5V2702.2h1.5V2702.5h1.5V2701.6h1.5V2702.4h1.5V2702.9h1.5V2701.9h1.5V2701.2h1.5V2701.2h1.5V2700.5h1.5V2701.3h1.5V2700.5h1.5V2700.3h1.5V2700.7h1.5V2701.2h1.5V2701.6h1.5V2701.3h1.5V2701.0h1.5V2701.1h1.5V2701.4h1.5V2701.6h1.5V2701.6h1.5V2701.2h1.5V2702.1h1.5V2700.8h1.5V2700.8h1.5V2700.6h1.5V2701.7h1.5V2700.7h1.5V2701.0h1.5V2700.7h1.5V2700.9h1.5V2701.5h1.5V2701.8h1.5V2701.3h1.5V2702.4h1.5V2702.5h1.5V2702.8h1.5V2702.8h1.5V2702.8h1.5V2702.6h1.5V2702.1h1.5V2702.0h1.5V2701.8h1.5V2709.5Z" fill="#3a3a3a"/>
<line x1="268.1" y1="2709.2" x2="634.1" y2="2709.2" stroke="#333" stroke-width="1.5"/>
<path d="M660.2,2512.4V2510.6h1V2510.6h1V2510.6h1V2510.5h1V2510.7h1V2510.7h1V2510.8h1V2510.7h1V2510.8h1V2510.8h1V2510.8h1V2510.7h1V2510.7h1V2510.6h1V2510.8h1V2510.7h1V2510.8h1V2510.7h1V2510.8h1V2510.6h1V2510.7h1V2510.6h1V2510.5h1V2510.6h1V2510.5h1V2510.4h1V2510.5h1V2510.5h1V2510.7h1V2510.8h1V2510.7h1V2510.7h1V2510.8h1V2510.7h1V2510.8h1V2510.7h1V2510.8h1V2511.0h1V2510.9h1V2511.0h1V2511.0h1V2510.8h1V2510.8h1V2510.9h1V2510.7h1V2510.7h1V2510.6h1V2510.5h1V2510.5h1V2510.6h1V2510.4h1V2510.4h1V2510.5h1V2510.6h1V2510.6h1V2510.2h1V2509.8h1V2508.3h1V2506.3h1V2503.5h1V2500.2h1V2497.4h1V2496.4h1V2498.0h1V2501.0h1V2504.5h1V2506.9h1V2508.6h1V2509.7h1V2510.2h1V2510.5h1V2510.4h1V2510.4h1V2510.4h1V2510.4h1V2510.6h1V2510.6h1V2510.6h1V2510.5h1V2510.7h1V2510.8h1V2510.7h1V2510.8h1V2510.6h1V2510.8h1V2510.8h1V2510.7h1V2510.7h1V2510.6h1V2510.6h1V2510.6h1V2510.6h1V2510.6h1V2510.5h1V2510.7h1V2510.7h1V2510.6h1V2510.5h1V2510.5h1V2510.6h1V2510.5h1V2510.6h1V2510.6h1V2510.6h1V2510.5h1V2510.6h1V2510.5h1V2510.5h1V2510.4h1V2510.3h1V2510.4h1V2510.3h1V2510.3h1V2510.3h1V2510.2h1V2510.2h1V2510.0h1V2509.8h1V2509.5h1V2509.4h1V2509.1h1V2509.2h1V2509.1h1V2509.2h1V2509.4h1V2509.7h1V2509.9h1V2510.1h1V2510.2h1V2510.3h1V2510.4h1V2510.6h1V2510.5h1V2510.6h1V2510.7h1V2510.6h1V2510.5h1V2510.2h1V2509.9h1V2509.5h1V2508.7h1V2507.7h1V2507.1h1V2506.2h1V2504.5h1V2502.0h1V2498.3h1V2493.2h1V2488.4h1V2486.3h1V2487.3h1V2493.0h1V2499.2h1V2504.1h1V2507.8h1V2509.4h1V2510.2h1V2510.4h1V2510.4h1V2510.4h1V2510.5h1V2510.5h1V2510.4h1V2510.5h1V2510.4h1V2510.4h1V2510.6h1V2510.8h1V2510.7h1V2510.7h1V2510.8h1V2510.9h1V2510.9h1V2510.8h1V2510.8h1V2510.8h1V2510.7h1V2510.6h1V2510.5h1V2510.7h1V2510.6h1V2510.7h1V2510.6h1V2510.6h1V2510.6h1V2510.6h1V2510.5h1V2510.4h1V2510.5h1V2510.5h1V2510.4h1V2510.4h1V2510.3h1V2510.4h1V2510.6h1V2510.7h1V2510.8h1V2510.6h1V2510.5h1V2510.4h1V2510.3h1V2510.1h1V2509.9h1V2510.0h1V2509.9h1V2509.7h1V2509.4h1V2509.5h1V2509.4h1V2509.2h1V2509.0h1V2509.1h1V2509.4h1V2509.4h1V2509.5h1V2509.4h1V2509.3h1V2508.8h1V2506.8h1V2502.5h1V2496.5h1V2491.7h1V2491.0h1V2495.0h1V2500.5h1V2505.4h1V2508.4h1V2509.9h1V2510.5h1V2510.5h1V2510.5h1V2510.4h1V2510.4h1V2510.5h1V2510.6h1V2510.6h1V2510.8h1V2510.6h1V2510.7h1V2510.6h1V2510.6h1V2510.5h1V2510.6h1V2510.4h1V2510.4h1V2510.4h1V2510.3h1V2510.4h1V2510.4h1V2510.4h1V2510.4h1V2510.5h1V2510.6h1V2510.8h1V2510.6h1V2510.7h1V2510.7h1V2510.8h1V2510.9h1V2510.7h1V2510.6h1V2510.6h1V2510.7h1V2510.5h1V2510.5h1V2510.2h1V2510.4h1V2510.3h1V2510.5h1V2510.3h1V2510.5h1V2510.4h1V2510.6h1V2510.5h1V2510.6h1V2510.5h1V2510.5h1V2510.4h1V2510.5h1V2510.5h1V2510.4h1V2510.7h1V2510.7h1V2510.7h1V2510.8h1V2510.6h1V2510.6h1V2510.7h1V2510.6h1V2510.7h1V2510.7h1V2510.8h1V2510.9h1V2510.6h1V2510.6h1V2510.6h1V2510.1h1V2509.7h1V2508.9h1V2507.9h1V2506.9h1V2505.9h1V2504.3h1V2502.6h1V2500.2h1V2497.4h1V2494.4h1V2490.1h1V2486.4h1V2485.5h1V2486.7h1V2491.2h1V2496.0h1V2500.6h1V2505.0h1V2507.8h1V2509.3h1V2510.3h1V2510.5h1V2510.6h1V2510.6h1V2510.6h1V2510.3h1V2510.4h1V2510.4h1V2510.4h1V2510.6h1V2510.4h1V2510.5h1V2510.8h1V2510.8h1V2510.7h1V2510.7h1V2510.7h1V2510.8h1V2510.9h1V2510.8h1V2510.7h1V2510.6h1V2510.8h1V2510.7h1V2510.7h1V2510.8h1V2510.9h1V2510.8h1V2510.9h1V2510.7h1V2510.7h1V2510.7h1V2510.7h1V2510.6h1V2510.5h1V2510.5h1V2510.5h1V2510.3h1V2510.5h1V2510.6h1V2510.5h1V2510.5h1V2510.4h1V2510.6h1V2510.7h1V2510.6h1V2510.5h1V2510.6h1V2510.5h1V2510.5h1V2512.4Z" fill="#ec5f22"/>
<line x1="660.2" y1="2512.1" x2="1027.2" y2="2512.1" stroke="#d85020" stroke-width="1.4"/>
<path d="M660.2,2606.0V2602.3h1V2601.7h1V2601.8h1V2601.5h1V2601.3h1V2601.6h1V2601.6h1V2601.8h1V2601.6h1V2601.6h1V2601.7h1V2602.0h1V2602.1h1V2602.2h1V2602.1h1V2602.2h1V2602.0h1V2601.8h1V2601.8h1V2601.7h1V2601.7h1V2601.5h1V2601.3h1V2601.3h1V2601.2h1V2600.5h1V2600.4h1V2600.2h1V2600.4h1V2599.9h1V2599.9h1V2599.6h1V2599.4h1V2599.3h1V2599.3h1V2598.7h1V2598.7h1V2598.1h1V2598.6h1V2598.5h1V2598.2h1V2597.6h1V2597.7h1V2597.5h1V2597.5h1V2596.9h1V2596.2h1V2596.2h1V2596.0h1V2595.5h1V2594.4h1V2593.9h1V2592.8h1V2592.2h1V2591.3h1V2590.8h1V2590.6h1V2589.7h1V2589.7h1V2589.4h1V2588.8h1V2589.5h1V2589.3h1V2589.5h1V2591.1h1V2592.3h1V2593.4h1V2594.4h1V2594.7h1V2595.8h1V2596.7h1V2597.0h1V2597.4h1V2598.0h1V2598.8h1V2599.4h1V2599.8h1V2600.4h1V2600.3h1V2601.0h1V2601.4h1V2601.6h1V2601.7h1V2601.5h1V2601.0h1V2601.1h1V2601.3h1V2601.2h1V2600.8h1V2601.1h1V2601.4h1V2601.7h1V2601.4h1V2601.3h1V2601.2h1V2600.8h1V2600.7h1V2600.4h1V2600.5h1V2600.2h1V2600.5h1V2600.4h1V2600.3h1V2600.1h1V2600.2h1V2600.0h1V2600.7h1V2600.4h1V2600.3h1V2600.5h1V2600.4h1V2600.2h1V2600.4h1V2600.7h1V2600.6h1V2600.5h1V2600.5h1V2600.8h1V2600.7h1V2600.7h1V2600.7h1V2600.6h1V2600.9h1V2600.5h1V2600.4h1V2600.7h1V2600.8h1V2601.1h1V2601.5h1V2601.1h1V2601.4h1V2601.6h1V2601.7h1V2601.4h1V2601.1h1V2600.9h1V2601.0h1V2600.5h1V2599.5h1V2598.1h1V2597.3h1V2596.0h1V2594.7h1V2593.3h1V2592.5h1V2592.4h1V2592.6h1V2592.4h1V2592.7h1V2593.5h1V2594.3h1V2595.4h1V2596.0h1V2597.1h1V2598.2h1V2599.4h1V2600.1h1V2600.8h1V2601.2h1V2601.9h1V2602.0h1V2602.0h1V2602.2h1V2602.4h1V2602.5h1V2602.3h1V2602.1h1V2602.1h1V2602.2h1V2602.0h1V2601.6h1V2601.6h1V2601.8h1V2601.8h1V2602.0h1V2601.9h1V2602.0h1V2601.6h1V2601.6h1V2601.6h1V2601.7h1V2601.4h1V2601.5h1V2601.9h1V2601.9h1V2602.0h1V2601.8h1V2601.9h1V2601.9h1V2601.7h1V2601.5h1V2601.7h1V2601.2h1V2601.3h1V2601.5h1V2601.7h1V2601.8h1V2601.4h1V2601.8h1V2601.9h1V2602.0h1V2601.6h1V2601.7h1V2601.7h1V2601.6h1V2601.0h1V2601.1h1V2600.3h1V2599.4h1V2598.4h1V2596.5h1V2594.3h1V2591.4h1V2587.1h1V2583.2h1V2578.6h1V2573.7h1V2569.7h1V2566.6h1V2565.8h1V2567.9h1V2571.2h1V2575.7h1V2579.7h1V2583.8h1V2588.4h1V2592.7h1V2595.1h1V2597.0h1V2598.4h1V2599.9h1V2601.0h1V2601.5h1V2601.5h1V2601.8h1V2601.9h1V2601.8h1V2601.8h1V2601.3h1V2601.3h1V2601.3h1V2601.1h1V2601.4h1V2601.1h1V2601.1h1V2601.5h1V2601.2h1V2600.8h1V2600.7h1V2600.7h1V2600.8h1V2601.0h1V2600.7h1V2600.9h1V2601.2h1V2600.8h1V2600.4h1V2600.3h1V2599.8h1V2600.2h1V2599.7h1V2599.9h1V2599.7h1V2599.7h1V2599.6h1V2600.2h1V2599.8h1V2599.7h1V2600.1h1V2600.2h1V2600.4h1V2600.3h1V2600.3h1V2600.0h1V2600.5h1V2600.8h1V2600.9h1V2600.5h1V2600.6h1V2600.4h1V2600.6h1V2600.8h1V2600.5h1V2600.5h1V2600.5h1V2600.9h1V2601.0h1V2601.0h1V2601.2h1V2601.2h1V2601.4h1V2601.7h1V2601.8h1V2601.7h1V2601.8h1V2601.7h1V2601.8h1V2601.6h1V2601.6h1V2601.5h1V2601.3h1V2601.0h1V2601.0h1V2599.9h1V2599.0h1V2598.0h1V2597.1h1V2595.8h1V2594.4h1V2593.6h1V2592.8h1V2592.2h1V2592.0h1V2591.3h1V2591.8h1V2591.7h1V2591.4h1V2592.9h1V2593.2h1V2594.6h1V2595.9h1V2596.6h1V2598.0h1V2599.0h1V2599.5h1V2600.4h1V2600.7h1V2601.1h1V2601.3h1V2601.4h1V2601.4h1V2601.4h1V2601.0h1V2601.1h1V2601.2h1V2601.2h1V2601.3h1V2601.5h1V2601.6h1V2601.6h1V2601.5h1V2601.7h1V2601.4h1V2601.1h1V2600.8h1V2601.0h1V2601.2h1V2601.6h1V2601.4h1V2601.5h1V2602.0h1V2602.0h1V2602.3h1V2602.2h1V2601.9h1V2602.0h1V2602.1h1V2601.8h1V2601.7h1V2601.9h1V2601.5h1V2601.3h1V2601.4h1V2601.5h1V2601.9h1V2602.0h1V2601.9h1V2606.0Z" fill="#2d7a36"/>
<line x1="660.2" y1="2605.7" x2="1027.2" y2="2605.7" stroke="#2a6030" stroke-width="1.4"/>
<path d="M660.2,2709.5V2702.1h1.5V2701.3h1.5V2702.6h1.5V2701.9h1.5V2701.9h1.5V2702.0h1.5V2702.4h1.5V2700.9h1.5V2701.2h1.5V2701.6h1.5V2702.1h1.5V2701.1h1.5V2701.1h1.5V2700.7h1.5V2700.6h1.5V2701.4h1.5V2700.9h1.5V2700.6h1.5V2701.7h1.5V2700.7h1.5V2700.2h1.5V2701.2h1.5V2701.0h1.5V2701.0h1.5V2700.9h1.5V2700.3h1.5V2701.6h1.5V2701.8h1.5V2700.4h1.5V2701.4h1.5V2701.4h1.5V2701.5h1.5V2702.4h1.5V2702.9h1.5V2703.9h1.5V2703.2h1.5V2703.2h1.5V2703.1h1.5V2703.0h1.5V2703.4h1.5V2703.0h1.5V2702.2h1.5V2702.6h1.5V2702.4h1.5V2702.8h1.5V2702.2h1.5V2702.1h1.5V2701.2h1.5V2700.9h1.5V2701.2h1.5V2701.9h1.5V2701.7h1.5V2701.8h1.5V2701.3h1.5V2701.0h1.5V2702.0h1.5V2701.5h1.5V2702.3h1.5V2701.7h1.5V2702.2h1.5V2703.2h1.5V2703.0h1.5V2701.7h1.5V2701.7h1.5V2702.2h1.5V2701.8h1.5V2700.7h1.5V2701.2h1.5V2701.0h1.5V2701.3h1.5V2701.2h1.5V2702.0h1.5V2701.9h1.5V2702.5h1.5V2702.9h1.5V2703.4h1.5V2703.6h1.5V2703.5h1.5V2703.2h1.5V2702.5h1.5V2702.0h1.5V2701.4h1.5V2701.1h1.5V2701.0h1.5V2701.9h1.5V2701.9h1.5V2701.9h1.5V2701.9h1.5V2702.0h1.5V2701.6h1.5V2701.4h1.5V2701.1h1.5V2701.6h1.5V2701.3h1.5V2701.2h1.5V2701.9h1.5V2701.6h1.5V2702.2h1.5V2701.6h1.5V2701.4h1.5V2701.2h1.5V2701.1h1.5V2700.5h1.5V2701.6h1.5V2700.7h1.5V2702.1h1.5V2702.4h1.5V2702.5h1.5V2702.9h1.5V2702.8h1.5V2702.5h1.5V2702.7h1.5V2703.0h1.5V2702.8h1.5V2701.9h1.5V2702.6h1.5V2702.3h1.5V2702.3h1.5V2702.9h1.5V2702.6h1.5V2702.8h1.5V2703.5h1.5V2702.8h1.5V2702.5h1.5V2703.1h1.5V2703.8h1.5V2703.8h1.5V2702.6h1.5V2702.9h1.5V2702.6h1.5V2702.9h1.5V2702.5h1.5V2702.0h1.5V2701.0h1.5V2701.5h1.5V2701.8h1.5V2702.8h1.5V2701.8h1.5V2702.4h1.5V2701.8h1.5V2702.3h1.5V2701.7h1.5V2701.1h1.5V2700.8h1.5V2701.0h1.5V2701.4h1.5V2701.7h1.5V2700.9h1.5V2701.3h1.5V2702.9h1.5V2702.8h1.5V2702.6h1.5V2702.6h1.5V2702.5h1.5V2703.1h1.5V2703.3h1.5V2703.1h1.5V2702.6h1.5V2702.6h1.5V2702.6h1.5V2702.1h1.5V2701.9h1.5V2702.3h1.5V2701.0h1.5V2701.5h1.5V2700.8h1.5V2700.9h1.5V2701.1h1.5V2701.3h1.5V2701.7h1.5V2701.3h1.5V2700.9h1.5V2701.8h1.5V2701.1h1.5V2701.5h1.5V2701.4h1.5V2701.6h1.5V2702.3h1.5V2703.0h1.5V2702.5h1.5V2702.4h1.5V2701.9h1.5V2701.7h1.5V2702.4h1.5V2702.0h1.5V2702.0h1.5V2702.0h1.5V2701.5h1.5V2702.1h1.5V2703.1h1.5V2701.7h1.5V2701.1h1.5V2700.6h1.5V2701.0h1.5V2701.3h1.5V2700.9h1.5V2700.1h1.5V2700.7h1.5V2701.7h1.5V2702.1h1.5V2701.5h1.5V2702.0h1.5V2702.3h1.5V2701.6h1.5V2702.7h1.5V2701.9h1.5V2701.8h1.5V2703.1h1.5V2702.4h1.5V2702.0h1.5V2702.3h1.5V2701.9h1.5V2701.9h1.5V2702.0h1.5V2701.9h1.5V2702.3h1.5V2702.2h1.5V2702.8h1.5V2702.3h1.5V2703.0h1.5V2702.1h1.5V2702.4h1.5V2703.3h1.5V2702.1h1.5V2702.0h1.5V2702.5h1.5V2701.9h1.5V2702.4h1.5V2701.2h1.5V2701.1h1.5V2702.7h1.5V2703.1h1.5V2703.0h1.5V2702.9h1.5V2703.0h1.5V2703.4h1.5V2703.2h1.5V2702.6h1.5V2702.2h1.5V2702.6h1.5V2702.6h1.5V2702.3h1.5V2702.0h1.5V2701.7h1.5V2703.0h1.5V2709.5Z" fill="#3a3a3a"/>
<line x1="660.2" y1="2709.2" x2="1027.7" y2="2709.2" stroke="#333" stroke-width="1.5"/>
<path d="M1048.6,2512.4V2510.6h1V2510.6h1V2510.6h1V2510.5h1V2510.5h1V2510.6h1V2510.5h1V2510.5h1V2510.6h1V2510.6h1V2510.5h1V2510.6h1V2510.6h1V2510.6h1V2510.6h1V2510.6h1V2510.7h1V2510.5h1V2510.6h1V2510.6h1V2510.6h1V2510.6h1V2510.6h1V2510.7h1V2510.7h1V2510.6h1V2510.7h1V2510.7h1V2510.6h1V2510.6h1V2510.4h1V2510.5h1V2510.6h1V2510.7h1V2510.6h1V2510.7h1V2510.6h1V2510.7h1V2510.4h1V2510.1h1V2509.7h1V2509.3h1V2508.5h1V2507.4h1V2506.3h1V2505.1h1V2502.5h1V2495.6h1V2480.9h1V2462.7h1V2458.3h1V2471.1h1V2491.0h1V2503.7h1V2508.4h1V2509.6h1V2510.2h1V2510.1h1V2510.3h1V2510.5h1V2510.4h1V2510.6h1V2510.5h1V2510.4h1V2510.7h1V2510.6h1V2510.6h1V2510.6h1V2510.5h1V2510.6h1V2510.6h1V2510.5h1V2510.6h1V2510.8h1V2510.8h1V2510.8h1V2510.8h1V2510.9h1V2510.9h1V2510.9h1V2510.9h1V2511.0h1V2510.9h1V2510.9h1V2510.7h1V2510.8h1V2510.7h1V2510.7h1V2510.7h1V2510.7h1V2510.7h1V2510.7h1V2510.6h1V2510.5h1V2510.5h1V2510.4h1V2510.5h1V2510.6h1V2510.6h1V2510.6h1V2510.7h1V2510.6h1V2510.5h1V2510.5h1V2510.4h1V2510.6h1V2510.5h1V2510.6h1V2510.7h1V2510.7h1V2510.5h1V2510.5h1V2510.4h1V2510.3h1V2510.3h1V2510.4h1V2510.3h1V2510.3h1V2510.4h1V2510.4h1V2510.3h1V2510.1h1V2509.8h1V2509.2h1V2508.6h1V2507.9h1V2506.8h1V2506.0h1V2505.6h1V2504.0h1V2500.8h1V2497.3h1V2496.0h1V2498.7h1V2503.5h1V2507.2h1V2509.4h1V2510.5h1V2510.7h1V2510.6h1V2510.5h1V2510.5h1V2510.5h1V2510.5h1V2510.3h1V2510.5h1V2510.5h1V2510.6h1V2510.5h1V2510.5h1V2510.7h1V2510.6h1V2510.6h1V2510.4h1V2510.4h1V2510.4h1V2510.5h1V2510.4h1V2510.6h1V2510.5h1V2510.6h1V2510.8h1V2510.7h1V2510.7h1V2510.9h1V2510.7h1V2510.8h1V2510.8h1V2510.8h1V2510.7h1V2510.6h1V2510.6h1V2510.6h1V2510.6h1V2510.7h1V2510.6h1V2510.7h1V2510.7h1V2510.7h1V2510.7h1V2510.7h1V2510.8h1V2510.9h1V2510.7h1V2510.5h1V2510.7h1V2510.7h1V2510.6h1V2510.5h1V2510.4h1V2510.4h1V2510.4h1V2510.3h1V2510.4h1V2510.3h1V2510.3h1V2510.4h1V2510.1h1V2509.8h1V2509.1h1V2508.2h1V2507.4h1V2506.2h1V2503.1h1V2497.4h1V2490.3h1V2487.7h1V2492.0h1V2499.6h1V2505.9h1V2509.1h1V2510.1h1V2510.3h1V2510.4h1V2510.4h1V2510.5h1V2510.6h1V2510.4h1V2510.4h1V2510.6h1V2510.6h1V2510.7h1V2510.8h1V2510.7h1V2510.8h1V2510.6h1V2510.5h1V2510.4h1V2510.3h1V2510.2h1V2510.3h1V2510.3h1V2510.4h1V2510.4h1V2510.6h1V2510.5h1V2510.7h1V2510.7h1V2510.7h1V2510.8h1V2510.7h1V2510.8h1V2510.9h1V2510.9h1V2510.8h1V2510.8h1V2510.9h1V2510.7h1V2510.7h1V2510.8h1V2510.7h1V2510.7h1V2510.7h1V2510.5h1V2510.6h1V2510.5h1V2510.4h1V2510.5h1V2510.5h1V2510.6h1V2510.5h1V2510.6h1V2510.5h1V2510.6h1V2510.5h1V2510.7h1V2510.7h1V2510.7h1V2510.6h1V2510.7h1V2510.6h1V2510.7h1V2510.8h1V2510.7h1V2510.6h1V2510.5h1V2510.4h1V2510.4h1V2510.4h1V2510.4h1V2510.3h1V2510.5h1V2510.6h1V2510.7h1V2510.5h1V2510.6h1V2510.7h1V2510.7h1V2510.6h1V2510.7h1V2510.8h1V2510.8h1V2510.8h1V2510.8h1V2510.6h1V2510.6h1V2510.4h1V2510.4h1V2510.1h1V2509.4h1V2508.8h1V2507.8h1V2506.9h1V2505.5h1V2501.4h1V2490.6h1V2476.2h1V2470.7h1V2480.3h1V2496.2h1V2506.1h1V2509.3h1V2510.2h1V2510.3h1V2510.3h1V2510.5h1V2510.5h1V2510.5h1V2510.4h1V2510.4h1V2510.5h1V2510.5h1V2510.5h1V2510.4h1V2510.4h1V2510.4h1V2510.5h1V2510.4h1V2510.3h1V2510.4h1V2510.4h1V2510.5h1V2510.5h1V2510.3h1V2510.6h1V2510.6h1V2510.6h1V2510.7h1V2510.5h1V2510.6h1V2510.8h1V2510.7h1V2510.6h1V2510.6h1V2510.6h1V2510.6h1V2510.6h1V2510.6h1V2510.5h1V2510.5h1V2510.5h1V2510.6h1V2510.6h1V2510.7h1V2510.7h1V2510.7h1V2510.7h1V2510.6h1V2510.7h1V2510.7h1V2510.7h1V2510.7h1V2510.6h1V2510.7h1V2510.6h1V2510.5h1V2510.5h1V2512.4Z" fill="#ec5f22"/>
<line x1="1048.6" y1="2512.1" x2="1415.6" y2="2512.1" stroke="#d85020" stroke-width="1.4"/>
<path d="M1048.6,2606.0V2601.6h1V2601.4h1V2601.6h1V2601.8h1V2601.6h1V2601.7h1V2601.8h1V2601.8h1V2602.1h1V2601.5h1V2601.8h1V2601.6h1V2601.8h1V2601.6h1V2601.9h1V2601.9h1V2602.2h1V2602.3h1V2601.9h1V2601.8h1V2602.0h1V2602.4h1V2602.0h1V2601.7h1V2601.6h1V2601.6h1V2602.1h1V2602.1h1V2601.7h1V2601.9h1V2602.2h1V2602.3h1V2602.1h1V2602.2h1V2601.7h1V2602.1h1V2601.9h1V2601.9h1V2601.6h1V2601.8h1V2601.0h1V2601.0h1V2600.3h1V2599.7h1V2598.7h1V2597.1h1V2595.8h1V2594.4h1V2592.5h1V2591.7h1V2590.5h1V2590.6h1V2591.4h1V2592.1h1V2593.8h1V2595.8h1V2597.0h1V2598.4h1V2599.4h1V2599.9h1V2600.7h1V2600.7h1V2601.0h1V2601.0h1V2601.2h1V2601.1h1V2601.1h1V2601.0h1V2600.8h1V2600.8h1V2601.2h1V2601.1h1V2601.3h1V2601.4h1V2601.7h1V2602.0h1V2601.7h1V2601.4h1V2601.2h1V2601.3h1V2601.2h1V2600.8h1V2601.1h1V2601.2h1V2601.2h1V2601.3h1V2600.7h1V2600.5h1V2600.7h1V2601.0h1V2600.6h1V2600.0h1V2600.4h1V2600.7h1V2600.7h1V2600.7h1V2600.3h1V2600.4h1V2600.4h1V2600.5h1V2600.6h1V2600.4h1V2600.4h1V2600.8h1V2600.7h1V2600.8h1V2600.9h1V2601.1h1V2601.3h1V2601.3h1V2601.2h1V2601.2h1V2601.4h1V2601.2h1V2600.9h1V2600.7h1V2600.9h1V2600.8h1V2600.7h1V2600.7h1V2600.4h1V2600.0h1V2599.2h1V2598.0h1V2596.4h1V2594.4h1V2592.4h1V2589.9h1V2587.4h1V2585.7h1V2584.4h1V2584.1h1V2585.4h1V2586.9h1V2588.3h1V2590.3h1V2592.2h1V2594.4h1V2596.3h1V2598.1h1V2599.2h1V2600.0h1V2601.0h1V2601.3h1V2601.8h1V2601.9h1V2601.8h1V2601.8h1V2601.6h1V2601.3h1V2601.7h1V2601.3h1V2601.5h1V2601.2h1V2601.5h1V2601.7h1V2601.8h1V2601.5h1V2601.8h1V2602.0h1V2601.7h1V2601.8h1V2601.7h1V2601.5h1V2601.6h1V2601.6h1V2601.7h1V2601.8h1V2602.1h1V2601.8h1V2601.6h1V2601.8h1V2602.0h1V2602.2h1V2602.5h1V2602.4h1V2602.3h1V2602.2h1V2602.4h1V2602.5h1V2602.1h1V2602.1h1V2602.2h1V2602.2h1V2602.0h1V2601.6h1V2601.6h1V2601.7h1V2601.6h1V2601.4h1V2601.4h1V2601.7h1V2601.3h1V2601.2h1V2600.9h1V2600.6h1V2600.2h1V2599.9h1V2599.5h1V2598.8h1V2597.5h1V2596.4h1V2595.1h1V2593.8h1V2592.7h1V2591.6h1V2591.0h1V2591.1h1V2591.3h1V2591.5h1V2592.4h1V2593.4h1V2594.3h1V2595.4h1V2596.5h1V2598.0h1V2598.8h1V2599.9h1V2600.3h1V2600.5h1V2600.9h1V2601.2h1V2600.8h1V2601.1h1V2601.2h1V2601.4h1V2601.6h1V2601.6h1V2601.6h1V2601.7h1V2601.6h1V2601.7h1V2601.3h1V2601.0h1V2601.1h1V2600.9h1V2600.5h1V2600.6h1V2600.2h1V2600.6h1V2600.6h1V2601.0h1V2601.0h1V2601.0h1V2600.8h1V2600.8h1V2600.7h1V2600.8h1V2600.5h1V2600.5h1V2600.2h1V2600.4h1V2600.3h1V2600.1h1V2600.2h1V2600.4h1V2600.9h1V2601.0h1V2600.5h1V2600.4h1V2600.6h1V2600.5h1V2600.3h1V2600.0h1V2600.1h1V2600.6h1V2600.9h1V2601.2h1V2601.4h1V2601.2h1V2601.3h1V2601.4h1V2601.7h1V2601.5h1V2601.8h1V2601.7h1V2601.6h1V2601.5h1V2601.6h1V2601.2h1V2600.9h1V2601.0h1V2600.9h1V2600.9h1V2600.7h1V2600.3h1V2600.0h1V2599.7h1V2599.5h1V2599.4h1V2598.8h1V2598.6h1V2597.7h1V2597.5h1V2597.1h1V2595.4h1V2593.9h1V2591.6h1V2588.6h1V2585.8h1V2580.7h1V2576.1h1V2571.5h1V2565.4h1V2560.9h1V2557.2h1V2555.1h1V2556.7h1V2556.9h1V2560.3h1V2564.7h1V2571.9h1V2577.4h1V2582.6h1V2587.3h1V2592.1h1V2594.8h1V2597.7h1V2598.8h1V2600.0h1V2601.2h1V2601.5h1V2601.5h1V2601.9h1V2601.8h1V2601.9h1V2601.7h1V2601.5h1V2601.7h1V2601.8h1V2602.1h1V2601.9h1V2602.0h1V2602.2h1V2601.8h1V2601.8h1V2601.6h1V2601.7h1V2601.9h1V2601.9h1V2601.8h1V2602.0h1V2602.0h1V2602.2h1V2601.8h1V2601.6h1V2601.2h1V2601.4h1V2601.4h1V2601.5h1V2601.5h1V2601.6h1V2601.5h1V2601.9h1V2602.0h1V2602.1h1V2602.0h1V2602.0h1V2602.0h1V2602.2h1V2602.0h1V2601.9h1V2601.9h1V2601.5h1V2601.7h1V2602.0h1V2601.6h1V2606.0Z" fill="#2d7a36"/>
<line x1="1048.6" y1="2605.7" x2="1415.6" y2="2605.7" stroke="#2a6030" stroke-width="1.4"/>
<path d="M1048.6,2709.5V2702.3h1.5V2702.4h1.5V2702.6h1.5V2702.4h1.5V2701.8h1.5V2702.7h1.5V2701.3h1.5V2702.1h1.5V2702.1h1.5V2703.4h1.5V2702.1h1.5V2702.7h1.5V2702.1h1.5V2702.2h1.5V2701.5h1.5V2700.9h1.5V2699.8h1.5V2701.0h1.5V2701.0h1.5V2700.4h1.5V2701.1h1.5V2701.9h1.5V2701.1h1.5V2702.1h1.5V2701.0h1.5V2701.7h1.5V2702.3h1.5V2702.6h1.5V2703.1h1.5V2702.8h1.5V2702.1h1.5V2702.4h1.5V2702.1h1.5V2702.6h1.5V2702.8h1.5V2701.9h1.5V2702.6h1.5V2702.5h1.5V2702.4h1.5V2702.1h1.5V2702.2h1.5V2702.6h1.5V2701.4h1.5V2702.2h1.5V2702.0h1.5V2702.1h1.5V2701.9h1.5V2701.6h1.5V2701.2h1.5V2701.8h1.5V2701.8h1.5V2702.1h1.5V2702.6h1.5V2702.1h1.5V2702.3h1.5V2701.8h1.5V2701.8h1.5V2701.9h1.5V2701.8h1.5V2702.4h1.5V2702.1h1.5V2701.2h1.5V2701.8h1.5V2701.7h1.5V2702.0h1.5V2701.9h1.5V2702.3h1.5V2701.6h1.5V2702.4h1.5V2701.5h1.5V2701.9h1.5V2701.7h1.5V2701.1h1.5V2701.9h1.5V2701.6h1.5V2702.0h1.5V2702.0h1.5V2702.1h1.5V2701.9h1.5V2702.1h1.5V2701.6h1.5V2701.0h1.5V2701.2h1.5V2700.9h1.5V2700.4h1.5V2701.1h1.5V2701.7h1.5V2702.0h1.5V2701.9h1.5V2701.7h1.5V2701.3h1.5V2702.3h1.5V2702.4h1.5V2703.3h1.5V2702.5h1.5V2702.0h1.5V2701.7h1.5V2701.8h1.5V2702.0h1.5V2701.0h1.5V2701.2h1.5V2701.0h1.5V2700.7h1.5V2701.0h1.5V2701.5h1.5V2702.0h1.5V2701.8h1.5V2700.9h1.5V2701.6h1.5V2701.5h1.5V2701.2h1.5V2701.5h1.5V2701.7h1.5V2700.8h1.5V2702.1h1.5V2701.3h1.5V2701.8h1.5V2702.5h1.5V2701.9h1.5V2702.2h1.5V2702.8h1.5V2701.4h1.5V2702.9h1.5V2702.4h1.5V2702.3h1.5V2701.4h1.5V2701.2h1.5V2700.8h1.5V2701.0h1.5V2699.9h1.5V2700.5h1.5V2699.7h1.5V2700.5h1.5V2700.5h1.5V2701.3h1.5V2702.3h1.5V2701.9h1.5V2702.3h1.5V2702.2h1.5V2701.9h1.5V2701.4h1.5V2701.9h1.5V2701.5h1.5V2700.4h1.5V2701.0h1.5V2700.1h1.5V2701.1h1.5V2701.5h1.5V2700.6h1.5V2701.4h1.5V2702.0h1.5V2701.8h1.5V2702.4h1.5V2702.4h1.5V2701.8h1.5V2701.3h1.5V2701.8h1.5V2701.6h1.5V2703.0h1.5V2703.2h1.5V2702.8h1.5V2702.9h1.5V2702.9h1.5V2702.3h1.5V2701.7h1.5V2702.6h1.5V2702.3h1.5V2702.5h1.5V2702.6h1.5V2702.5h1.5V2703.2h1.5V2702.5h1.5V2702.9h1.5V2702.8h1.5V2702.2h1.5V2702.3h1.5V2702.4h1.5V2702.7h1.5V2702.6h1.5V2701.3h1.5V2701.6h1.5V2701.5h1.5V2700.7h1.5V2701.1h1.5V2701.0h1.5V2701.4h1.5V2702.5h1.5V2703.0h1.5V2703.0h1.5V2703.2h1.5V2703.6h1.5V2702.6h1.5V2702.7h1.5V2703.0h1.5V2701.7h1.5V2702.1h1.5V2701.9h1.5V2701.9h1.5V2701.8h1.5V2702.0h1.5V2702.1h1.5V2702.2h1.5V2702.4h1.5V2702.0h1.5V2700.8h1.5V2701.1h1.5V2700.6h1.5V2700.2h1.5V2700.9h1.5V2700.6h1.5V2700.8h1.5V2701.7h1.5V2702.2h1.5V2702.4h1.5V2703.3h1.5V2703.1h1.5V2703.2h1.5V2702.7h1.5V2702.8h1.5V2702.5h1.5V2702.0h1.5V2701.8h1.5V2702.0h1.5V2702.7h1.5V2702.0h1.5V2702.4h1.5V2702.3h1.5V2702.3h1.5V2702.2h1.5V2701.6h1.5V2701.0h1.5V2701.7h1.5V2701.8h1.5V2701.4h1.5V2701.0h1.5V2701.3h1.5V2702.2h1.5V2702.3h1.5V2701.9h1.5V2702.2h1.5V2701.7h1.5V2703.0h1.5V2701.9h1.5V2701.9h1.5V2701.7h1.5V2709.5Z" fill="#3a3a3a"/>
<line x1="1048.6" y1="2709.2" x2="1416.1" y2="2709.2" stroke="#333" stroke-width="1.5"/>
<rect x="299.7" y="2524.8" width="10.9" height="8.2" fill="#d0202e"/>
<rect x="343.0" y="2524.8" width="8.4" height="8.2" fill="#d0202e"/>
<rect x="381.0" y="2524.8" width="4.0" height="8.2" fill="#d0202e"/>
<rect x="605.3" y="2524.8" width="12.6" height="8.2" fill="#d0202e"/>
<rect x="805.0" y="2524.8" width="8.8" height="8.2" fill="#d0202e"/>
<rect x="880.0" y="2524.8" width="5.0" height="8.2" fill="#d0202e"/>
<rect x="964.0" y="2524.8" width="8.5" height="8.2" fill="#d0202e"/>
<rect x="1095.2" y="2524.8" width="6.3" height="8.2" fill="#d0202e"/>
<rect x="1179.3" y="2524.8" width="3.8" height="8.2" fill="#d0202e"/>
<rect x="1252.2" y="2524.8" width="4.4" height="8.2" fill="#d0202e"/>
<rect x="1352.1" y="2524.8" width="5.8" height="8.2" fill="#d0202e"/>
<rect x="299.7" y="2618.0" width="16.0" height="8.2" fill="#d0202e"/>
<rect x="337.6" y="2618.0" width="18.1" height="8.2" fill="#d0202e"/>
<rect x="381.0" y="2618.0" width="9.2" height="8.2" fill="#d0202e"/>
<rect x="505.0" y="2618.0" width="17.0" height="8.2" fill="#d0202e"/>
<rect x="606.0" y="2618.0" width="13.6" height="8.2" fill="#d0202e"/>
<rect x="711.6" y="2618.0" width="13.4" height="8.2" fill="#d0202e"/>
<rect x="869.4" y="2618.0" width="18.9" height="8.2" fill="#d0202e"/>
<rect x="1174.5" y="2618.0" width="11.0" height="8.2" fill="#d0202e"/>
<rect x="1345.9" y="2618.0" width="17.3" height="8.2" fill="#d0202e"/>
<path d="M498.0,2703.0V2442.5H527.4V2703.0" fill="none" stroke="#2b8a40" stroke-width="1.6" stroke-dasharray="8,5"/>
<path d="M704.4,2692.5V2442.5H733.4V2692.5" fill="none" stroke="#2b8a40" stroke-width="1.6" stroke-dasharray="8,5"/>
<path d="M792.4,2692.5V2442.5H821.8V2692.5" fill="none" stroke="#ec6a2a" stroke-width="1.6" stroke-dasharray="8,5"/>
<path d="M953.6,2692.5V2442.5H983.0V2692.5" fill="none" stroke="#ec6a2a" stroke-width="1.6" stroke-dasharray="8,5"/>
<path d="M1082.5,2692.9V2443.2H1111.8V2692.9" fill="none" stroke="#ec6a2a" stroke-width="1.6" stroke-dasharray="8,5"/>
<path d="M1236.9,2692.9V2443.2H1265.9V2692.9" fill="none" stroke="#ec6a2a" stroke-width="1.6" stroke-dasharray="8,5"/>
<text x="256.7" y="2494.7" font-size="25.31" fill="#ec5f22" text-anchor="end">ATAC-seq</text>
<text x="257.1" y="2532.3" font-size="25.3" fill="#c8202e" text-anchor="end">Peak</text>
<text x="256.7" y="2594.5" font-size="24" fill="#2b7a3c" text-anchor="end" textLength="205.4" lengthAdjust="spacingAndGlyphs">ROS1-Flag/<tspan font-style="italic">ros1-4</tspan></text>
<text x="257.1" y="2629.4" font-size="25.3" fill="#c8202e" text-anchor="end">Peak</text>
<text x="256.7" y="2709.4" font-size="24" text-anchor="end">Col-0</text>
<text x="27.4" y="2644.1" font-size="23.67" text-anchor="middle" transform="rotate(-90 27.4 2644.1)">Flag ChIP</text>
<line x1="42.1" y1="2578.9" x2="42.1" y2="2712.0" stroke="#111" stroke-width="1.6"/>
<rect x="1432.0" y="2482.0" width="18" height="18" fill="none" stroke="#2b8a40" stroke-width="1.5" stroke-dasharray="6,6" stroke-dashoffset="3"/>
<rect x="1432.0" y="2526.5" width="18" height="18" fill="none" stroke="#ec6a2a" stroke-width="1.5" stroke-dasharray="6,6" stroke-dashoffset="3"/>
<text x="1458.7" y="2498.4" font-size="25.6">ROS1 unique</text>
<text x="1458.7" y="2542.6" font-size="25.6">ATAC-seq unique</text>
</svg>
</body></html>
